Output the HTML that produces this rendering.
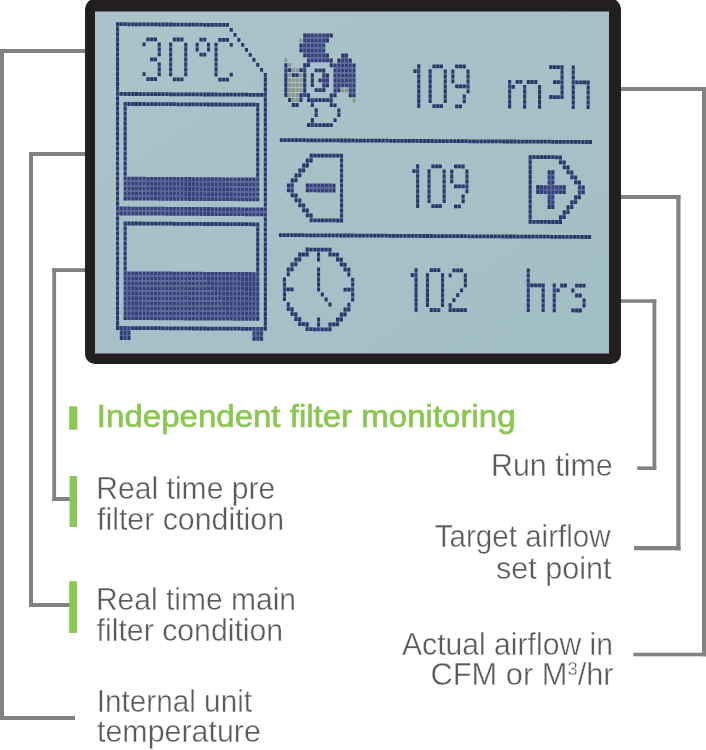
<!DOCTYPE html>
<html><head><meta charset="utf-8"><style>
html,body{margin:0;padding:0;background:#fff;}
body{width:706px;height:750px;overflow:hidden;}
svg{display:block;font-family:'Liberation Sans', sans-serif;}
</style></head><body>
<svg width="706" height="750" viewBox="0 0 706 750">
<defs>
<linearGradient id="lcd" x1="0" y1="0" x2="1" y2="1">
<stop offset="0" stop-color="#abc3ca"/><stop offset="1" stop-color="#a2bec5"/>
</linearGradient>
<filter id="nop" x="0" y="0" width="1" height="1"><feOffset dx="0" dy="0"/></filter>
<filter id="soft" x="-2%" y="-2%" width="104%" height="104%"><feGaussianBlur stdDeviation="0.45"/></filter>
</defs>
<rect x="0.0" y="49.0" width="86.0" height="4.0" fill="#828282"/><rect x="0.0" y="49.0" width="4.0" height="671.0" fill="#828282"/><rect x="0.0" y="716.0" width="75.0" height="4.0" fill="#828282"/><rect x="29.0" y="152.0" width="57.0" height="4.0" fill="#828282"/><rect x="29.0" y="152.0" width="4.0" height="455.0" fill="#828282"/><rect x="29.0" y="603.0" width="41.0" height="4.0" fill="#828282"/><rect x="52.3" y="268.2" width="33.7" height="3.8" fill="#828282"/><rect x="52.3" y="268.2" width="3.8" height="232.8" fill="#828282"/><rect x="52.3" y="497.0" width="17.7" height="4.0" fill="#828282"/><rect x="620.0" y="87.0" width="86.0" height="4.0" fill="#828282"/><rect x="702.0" y="87.0" width="4.0" height="569.3" fill="#828282"/><rect x="633.3" y="652.7" width="72.7" height="3.6" fill="#828282"/><rect x="620.0" y="195.0" width="60.5" height="4.0" fill="#828282"/><rect x="676.3" y="195.0" width="4.2" height="355.3" fill="#828282"/><rect x="634.0" y="546.0" width="46.5" height="4.3" fill="#828282"/><rect x="620.0" y="299.3" width="36.3" height="3.5" fill="#828282"/><rect x="652.5" y="299.3" width="3.8" height="170.7" fill="#828282"/><rect x="637.3" y="466.4" width="19.0" height="3.6" fill="#828282"/>
<rect x="85" y="-1" width="536" height="365" rx="10" ry="10" fill="#231f20"/>
<rect x="95" y="11.5" width="514" height="342" fill="url(#lcd)"/>
<g filter="url(#soft)" opacity="0.85"><path fill="#3d4882" d="M119.1 22.3h0.69v3.80h-0.69zM116.0 26.1h3.10v1.18h-3.10zM122.9 22.3h0.69v3.80h-0.69zM126.7 22.3h0.69v3.80h-0.69zM130.5 22.4h0.69v3.80h-0.69zM134.3 22.4h0.69v3.80h-0.69zM138.0 22.4h0.69v3.80h-0.69zM141.8 22.4h0.69v3.80h-0.69zM145.6 22.5h0.69v3.80h-0.69zM149.4 22.5h0.69v3.80h-0.69zM153.2 22.5h0.69v3.80h-0.69zM157.0 22.5h0.69v3.80h-0.69zM160.8 22.6h0.69v3.80h-0.69zM164.6 22.6h0.69v3.80h-0.69zM168.4 22.6h0.69v3.80h-0.69zM172.2 22.6h0.69v3.80h-0.69zM175.9 22.7h0.69v3.80h-0.69zM179.7 22.7h0.69v3.80h-0.69zM183.5 22.7h0.69v3.80h-0.69zM187.3 22.7h0.69v3.80h-0.69zM191.1 22.8h0.69v3.80h-0.69zM194.9 22.8h0.69v3.80h-0.69zM198.7 22.8h0.69v3.80h-0.69zM202.5 22.8h0.69v3.80h-0.69zM206.3 22.9h0.69v3.80h-0.69zM210.1 22.9h0.69v3.80h-0.69zM213.8 22.9h0.69v3.80h-0.69zM217.6 22.9h0.69v3.80h-0.69zM221.4 22.9h0.69v3.80h-0.69zM225.2 23.0h0.69v3.80h-0.69zM116.0 31.1h3.10v1.18h-3.10zM116.0 36.1h3.10v1.18h-3.10zM116.0 41.0h3.10v1.18h-3.10zM149.4 37.4h0.69v3.80h-0.69zM153.2 37.5h0.69v3.80h-0.69zM175.9 37.6h0.69v3.80h-0.69zM179.7 37.6h0.69v3.80h-0.69zM202.5 37.8h0.69v3.80h-0.69zM221.4 37.9h0.69v3.80h-0.69zM225.2 37.9h0.69v3.80h-0.69zM116.0 46.0h3.10v1.18h-3.10zM157.7 46.3h3.10v1.18h-3.10zM169.1 46.4h3.10v1.18h-3.10zM184.2 46.5h3.10v1.18h-3.10zM195.6 46.5h3.10v1.18h-3.10zM207.0 46.6h3.10v1.18h-3.10zM214.5 46.6h3.10v1.18h-3.10zM116.0 51.0h3.10v1.18h-3.10zM157.7 51.3h3.10v1.18h-3.10zM169.1 51.3h3.10v1.18h-3.10zM184.2 51.4h3.10v1.18h-3.10zM214.5 51.6h3.10v1.18h-3.10zM116.0 56.0h3.10v1.18h-3.10zM169.1 56.3h3.10v1.18h-3.10zM184.2 56.4h3.10v1.18h-3.10zM202.5 52.7h0.69v3.80h-0.69zM214.5 56.6h3.10v1.18h-3.10zM116.0 61.0h3.10v1.18h-3.10zM153.2 57.4h0.69v3.80h-0.69zM169.1 61.3h3.10v1.18h-3.10zM184.2 61.4h3.10v1.18h-3.10zM214.5 61.6h3.10v1.18h-3.10zM116.0 65.9h3.10v1.18h-3.10zM157.7 66.2h3.10v1.18h-3.10zM169.1 66.3h3.10v1.18h-3.10zM184.2 66.4h3.10v1.18h-3.10zM214.5 66.6h3.10v1.18h-3.10zM116.0 70.9h3.10v1.18h-3.10zM157.7 71.2h3.10v1.18h-3.10zM169.1 71.3h3.10v1.18h-3.10zM184.2 71.4h3.10v1.18h-3.10zM214.5 71.5h3.10v1.18h-3.10zM116.0 75.9h3.10v1.18h-3.10zM263.8 76.8h3.10v1.18h-3.10zM116.0 80.9h3.10v1.18h-3.10zM149.4 77.3h0.69v3.80h-0.69zM153.2 77.3h0.69v3.80h-0.69zM175.9 77.4h0.69v3.80h-0.69zM179.7 77.5h0.69v3.80h-0.69zM221.4 77.7h0.69v3.80h-0.69zM225.2 77.8h0.69v3.80h-0.69zM263.8 81.8h3.10v1.18h-3.10zM116.0 85.9h3.10v1.18h-3.10zM263.8 86.8h3.10v1.18h-3.10zM116.0 90.8h3.10v1.18h-3.10zM263.8 91.8h3.10v1.18h-3.10zM122.9 92.0h0.69v3.80h-0.69zM126.7 92.1h0.69v3.80h-0.69zM130.5 92.1h0.69v3.80h-0.69zM134.3 92.1h0.69v3.80h-0.69zM138.0 92.1h0.69v3.80h-0.69zM141.8 92.2h0.69v3.80h-0.69zM145.6 92.2h0.69v3.80h-0.69zM149.4 92.2h0.69v3.80h-0.69zM153.2 92.2h0.69v3.80h-0.69zM157.0 92.3h0.69v3.80h-0.69zM160.8 92.3h0.69v3.80h-0.69zM164.6 92.3h0.69v3.80h-0.69zM168.4 92.3h0.69v3.80h-0.69zM172.2 92.4h0.69v3.80h-0.69zM175.9 92.4h0.69v3.80h-0.69zM179.7 92.4h0.69v3.80h-0.69zM183.5 92.4h0.69v3.80h-0.69zM187.3 92.5h0.69v3.80h-0.69zM191.1 92.5h0.69v3.80h-0.69zM194.9 92.5h0.69v3.80h-0.69zM198.7 92.5h0.69v3.80h-0.69zM202.5 92.5h0.69v3.80h-0.69zM206.3 92.6h0.69v3.80h-0.69zM210.1 92.6h0.69v3.80h-0.69zM213.8 92.6h0.69v3.80h-0.69zM217.6 92.6h0.69v3.80h-0.69zM221.4 92.7h0.69v3.80h-0.69zM225.2 92.7h0.69v3.80h-0.69zM229.0 92.7h0.69v3.80h-0.69zM232.8 92.7h0.69v3.80h-0.69zM236.6 92.8h0.69v3.80h-0.69zM240.4 92.8h0.69v3.80h-0.69zM244.2 92.8h0.69v3.80h-0.69zM248.0 92.8h0.69v3.80h-0.69zM251.8 92.9h0.69v3.80h-0.69zM255.5 92.9h0.69v3.80h-0.69zM259.3 92.9h0.69v3.80h-0.69zM263.1 92.9h0.69v3.80h-0.69zM116.0 100.8h3.10v1.18h-3.10zM263.8 101.7h3.10v1.18h-3.10zM116.0 105.8h3.10v1.18h-3.10zM126.7 102.0h0.69v3.80h-0.69zM123.6 105.8h3.10v1.18h-3.10zM130.5 102.1h0.69v3.80h-0.69zM134.3 102.1h0.69v3.80h-0.69zM138.0 102.1h0.69v3.80h-0.69zM141.8 102.1h0.69v3.80h-0.69zM145.6 102.1h0.69v3.80h-0.69zM149.4 102.2h0.69v3.80h-0.69zM153.2 102.2h0.69v3.80h-0.69zM157.0 102.2h0.69v3.80h-0.69zM160.8 102.2h0.69v3.80h-0.69zM164.6 102.3h0.69v3.80h-0.69zM168.4 102.3h0.69v3.80h-0.69zM172.2 102.3h0.69v3.80h-0.69zM175.9 102.3h0.69v3.80h-0.69zM179.7 102.4h0.69v3.80h-0.69zM183.5 102.4h0.69v3.80h-0.69zM187.3 102.4h0.69v3.80h-0.69zM191.1 102.4h0.69v3.80h-0.69zM194.9 102.5h0.69v3.80h-0.69zM198.7 102.5h0.69v3.80h-0.69zM202.5 102.5h0.69v3.80h-0.69zM206.3 102.5h0.69v3.80h-0.69zM210.1 102.6h0.69v3.80h-0.69zM213.8 102.6h0.69v3.80h-0.69zM217.6 102.6h0.69v3.80h-0.69zM221.4 102.6h0.69v3.80h-0.69zM225.2 102.7h0.69v3.80h-0.69zM229.0 102.7h0.69v3.80h-0.69zM232.8 102.7h0.69v3.80h-0.69zM236.6 102.7h0.69v3.80h-0.69zM240.4 102.7h0.69v3.80h-0.69zM244.2 102.8h0.69v3.80h-0.69zM248.0 102.8h0.69v3.80h-0.69zM251.8 102.8h0.69v3.80h-0.69zM255.5 102.8h0.69v3.80h-0.69zM256.2 106.7h3.10v1.18h-3.10zM263.8 106.7h3.10v1.18h-3.10zM116.0 110.8h3.10v1.18h-3.10zM123.6 110.8h3.10v1.18h-3.10zM256.2 111.6h3.10v1.18h-3.10zM263.8 111.7h3.10v1.18h-3.10zM116.0 115.7h3.10v1.18h-3.10zM123.6 115.8h3.10v1.18h-3.10zM256.2 116.6h3.10v1.18h-3.10zM263.8 116.7h3.10v1.18h-3.10zM116.0 120.7h3.10v1.18h-3.10zM123.6 120.8h3.10v1.18h-3.10zM256.2 121.6h3.10v1.18h-3.10zM263.8 121.7h3.10v1.18h-3.10zM116.0 125.7h3.10v1.18h-3.10zM123.6 125.7h3.10v1.18h-3.10zM256.2 126.6h3.10v1.18h-3.10zM263.8 126.6h3.10v1.18h-3.10zM116.0 130.7h3.10v1.18h-3.10zM123.6 130.7h3.10v1.18h-3.10zM256.2 131.6h3.10v1.18h-3.10zM263.8 131.6h3.10v1.18h-3.10zM116.0 135.7h3.10v1.18h-3.10zM123.6 135.7h3.10v1.18h-3.10zM256.2 136.5h3.10v1.18h-3.10zM263.8 136.6h3.10v1.18h-3.10zM116.0 140.6h3.10v1.18h-3.10zM123.6 140.7h3.10v1.18h-3.10zM256.2 141.5h3.10v1.18h-3.10zM263.8 141.6h3.10v1.18h-3.10zM116.0 145.6h3.10v1.18h-3.10zM123.6 145.7h3.10v1.18h-3.10zM256.2 146.5h3.10v1.18h-3.10zM263.8 146.6h3.10v1.18h-3.10zM116.0 150.6h3.10v1.18h-3.10zM123.6 150.6h3.10v1.18h-3.10zM256.2 151.5h3.10v1.18h-3.10zM263.8 151.5h3.10v1.18h-3.10zM116.0 155.6h3.10v1.18h-3.10zM123.6 155.6h3.10v1.18h-3.10zM256.2 156.5h3.10v1.18h-3.10zM263.8 156.5h3.10v1.18h-3.10zM116.0 160.6h3.10v1.18h-3.10zM123.6 160.6h3.10v1.18h-3.10zM256.2 161.4h3.10v1.18h-3.10zM263.8 161.5h3.10v1.18h-3.10zM116.0 165.5h3.10v1.18h-3.10zM123.6 165.6h3.10v1.18h-3.10zM256.2 166.4h3.10v1.18h-3.10zM263.8 166.5h3.10v1.18h-3.10zM116.0 170.5h3.10v1.18h-3.10zM123.6 170.6h3.10v1.18h-3.10zM256.2 171.4h3.10v1.18h-3.10zM263.8 171.5h3.10v1.18h-3.10zM116.0 175.5h3.10v1.18h-3.10zM123.6 175.5h3.10v1.18h-3.10zM256.2 176.4h3.10v1.18h-3.10zM263.8 176.4h3.10v1.18h-3.10zM116.0 180.5h3.10v1.18h-3.10zM263.8 181.4h3.10v1.18h-3.10zM116.0 185.5h3.10v1.18h-3.10zM263.8 186.4h3.10v1.18h-3.10zM116.0 190.4h3.10v1.18h-3.10zM263.8 191.4h3.10v1.18h-3.10zM116.0 195.4h3.10v1.18h-3.10zM263.8 196.4h3.10v1.18h-3.10zM116.0 200.4h3.10v1.18h-3.10zM126.7 196.6h0.69v3.80h-0.69zM263.8 201.3h3.10v1.18h-3.10zM116.0 205.4h3.10v1.18h-3.10zM263.8 206.3h3.10v1.18h-3.10zM116.0 220.3h3.10v1.18h-3.10zM263.8 221.3h3.10v1.18h-3.10zM116.0 225.3h3.10v1.18h-3.10zM126.7 221.5h0.69v3.80h-0.69zM123.6 225.3h3.10v1.18h-3.10zM130.5 221.6h0.69v3.80h-0.69zM134.3 221.6h0.69v3.80h-0.69zM138.0 221.6h0.69v3.80h-0.69zM141.8 221.6h0.69v3.80h-0.69zM145.6 221.7h0.69v3.80h-0.69zM149.4 221.7h0.69v3.80h-0.69zM153.2 221.7h0.69v3.80h-0.69zM157.0 221.7h0.69v3.80h-0.69zM160.8 221.8h0.69v3.80h-0.69zM164.6 221.8h0.69v3.80h-0.69zM168.4 221.8h0.69v3.80h-0.69zM172.2 221.8h0.69v3.80h-0.69zM175.9 221.9h0.69v3.80h-0.69zM179.7 221.9h0.69v3.80h-0.69zM183.5 221.9h0.69v3.80h-0.69zM187.3 221.9h0.69v3.80h-0.69zM191.1 222.0h0.69v3.80h-0.69zM194.9 222.0h0.69v3.80h-0.69zM198.7 222.0h0.69v3.80h-0.69zM202.5 222.0h0.69v3.80h-0.69zM206.3 222.1h0.69v3.80h-0.69zM210.1 222.1h0.69v3.80h-0.69zM213.8 222.1h0.69v3.80h-0.69zM217.6 222.1h0.69v3.80h-0.69zM221.4 222.1h0.69v3.80h-0.69zM225.2 222.2h0.69v3.80h-0.69zM229.0 222.2h0.69v3.80h-0.69zM232.8 222.2h0.69v3.80h-0.69zM236.6 222.2h0.69v3.80h-0.69zM240.4 222.3h0.69v3.80h-0.69zM244.2 222.3h0.69v3.80h-0.69zM248.0 222.3h0.69v3.80h-0.69zM251.8 222.3h0.69v3.80h-0.69zM255.5 222.4h0.69v3.80h-0.69zM256.2 226.2h3.10v1.18h-3.10zM263.8 226.2h3.10v1.18h-3.10zM116.0 230.3h3.10v1.18h-3.10zM123.6 230.3h3.10v1.18h-3.10zM256.2 231.2h3.10v1.18h-3.10zM263.8 231.2h3.10v1.18h-3.10zM116.0 235.3h3.10v1.18h-3.10zM123.6 235.3h3.10v1.18h-3.10zM256.2 236.1h3.10v1.18h-3.10zM263.8 236.2h3.10v1.18h-3.10zM116.0 240.2h3.10v1.18h-3.10zM123.6 240.3h3.10v1.18h-3.10zM256.2 241.1h3.10v1.18h-3.10zM263.8 241.2h3.10v1.18h-3.10zM116.0 245.2h3.10v1.18h-3.10zM123.6 245.3h3.10v1.18h-3.10zM256.2 246.1h3.10v1.18h-3.10zM263.8 246.2h3.10v1.18h-3.10zM116.0 250.2h3.10v1.18h-3.10zM123.6 250.2h3.10v1.18h-3.10zM256.2 251.1h3.10v1.18h-3.10zM263.8 251.1h3.10v1.18h-3.10zM116.0 255.2h3.10v1.18h-3.10zM123.6 255.2h3.10v1.18h-3.10zM256.2 256.1h3.10v1.18h-3.10zM263.8 256.1h3.10v1.18h-3.10zM116.0 260.2h3.10v1.18h-3.10zM123.6 260.2h3.10v1.18h-3.10zM256.2 261.0h3.10v1.18h-3.10zM263.8 261.1h3.10v1.18h-3.10zM116.0 265.1h3.10v1.18h-3.10zM123.6 265.2h3.10v1.18h-3.10zM256.2 266.0h3.10v1.18h-3.10zM263.8 266.1h3.10v1.18h-3.10zM116.0 270.1h3.10v1.18h-3.10zM123.6 270.2h3.10v1.18h-3.10zM256.2 271.0h3.10v1.18h-3.10zM263.8 271.1h3.10v1.18h-3.10zM116.0 275.1h3.10v1.18h-3.10zM263.8 276.0h3.10v1.18h-3.10zM116.0 280.1h3.10v1.18h-3.10zM263.8 281.0h3.10v1.18h-3.10zM116.0 285.1h3.10v1.18h-3.10zM263.8 286.0h3.10v1.18h-3.10zM116.0 290.0h3.10v1.18h-3.10zM263.8 291.0h3.10v1.18h-3.10zM116.0 295.0h3.10v1.18h-3.10zM263.8 296.0h3.10v1.18h-3.10zM116.0 300.0h3.10v1.18h-3.10zM263.8 300.9h3.10v1.18h-3.10zM116.0 305.0h3.10v1.18h-3.10zM263.8 305.9h3.10v1.18h-3.10zM116.0 310.0h3.10v1.18h-3.10zM263.8 310.9h3.10v1.18h-3.10zM116.0 314.9h3.10v1.18h-3.10zM263.8 315.9h3.10v1.18h-3.10zM116.0 319.9h3.10v1.18h-3.10zM126.7 316.2h0.69v3.80h-0.69zM263.8 320.9h3.10v1.18h-3.10zM116.0 324.9h3.10v1.18h-3.10zM263.8 325.8h3.10v1.18h-3.10zM119.1 326.1h0.69v3.80h-0.69zM134.3 326.2h0.69v3.80h-0.69zM138.0 326.2h0.69v3.80h-0.69zM141.8 326.2h0.69v3.80h-0.69zM145.6 326.2h0.69v3.80h-0.69zM149.4 326.3h0.69v3.80h-0.69zM153.2 326.3h0.69v3.80h-0.69zM157.0 326.3h0.69v3.80h-0.69zM160.8 326.3h0.69v3.80h-0.69zM164.6 326.4h0.69v3.80h-0.69zM168.4 326.4h0.69v3.80h-0.69zM172.2 326.4h0.69v3.80h-0.69zM175.9 326.4h0.69v3.80h-0.69zM179.7 326.5h0.69v3.80h-0.69zM183.5 326.5h0.69v3.80h-0.69zM187.3 326.5h0.69v3.80h-0.69zM191.1 326.5h0.69v3.80h-0.69zM194.9 326.6h0.69v3.80h-0.69zM198.7 326.6h0.69v3.80h-0.69zM202.5 326.6h0.69v3.80h-0.69zM206.3 326.6h0.69v3.80h-0.69zM210.1 326.7h0.69v3.80h-0.69zM213.8 326.7h0.69v3.80h-0.69zM217.6 326.7h0.69v3.80h-0.69zM221.4 326.7h0.69v3.80h-0.69zM225.2 326.8h0.69v3.80h-0.69zM229.0 326.8h0.69v3.80h-0.69zM232.8 326.8h0.69v3.80h-0.69zM236.6 326.8h0.69v3.80h-0.69zM240.4 326.8h0.69v3.80h-0.69zM244.2 326.9h0.69v3.80h-0.69zM248.0 326.9h0.69v3.80h-0.69zM251.8 326.9h0.69v3.80h-0.69zM122.9 336.1h0.69v3.80h-0.69zM255.5 336.9h0.69v3.80h-0.69zM306.3 33.4h0.69v3.80h-0.69zM303.2 37.2h3.10v1.18h-3.10zM306.3 37.2h0.69v1.18h-0.69zM302.5 43.4h0.69v3.80h-0.69zM299.4 47.2h3.10v1.18h-3.10zM302.5 47.2h0.69v1.18h-0.69zM302.5 48.4h0.69v3.80h-0.69zM306.3 53.4h0.69v3.80h-0.69zM325.9 57.3h3.10v1.18h-3.10zM344.2 53.6h0.69v3.80h-0.69zM341.1 57.4h3.10v1.18h-3.10zM344.2 57.4h0.69v1.18h-0.69zM344.9 57.4h3.10v1.18h-3.10zM329.7 62.3h3.10v1.18h-3.10zM340.4 58.6h0.69v3.80h-0.69zM337.3 62.4h3.10v1.18h-3.10zM340.4 62.4h0.69v1.18h-0.69zM348.7 62.4h3.10v1.18h-3.10zM284.3 67.0h3.10v1.18h-3.10zM306.3 63.3h0.69v3.80h-0.69zM303.2 67.1h3.10v1.18h-3.10zM332.8 63.5h0.69v3.80h-0.69zM352.5 67.4h3.10v1.18h-3.10zM302.5 68.3h0.69v3.80h-0.69zM317.7 68.4h0.69v3.80h-0.69zM321.5 68.4h0.69v3.80h-0.69zM322.2 72.2h3.10v1.18h-3.10zM284.3 77.0h3.10v1.18h-3.10zM294.9 73.2h0.69v3.80h-0.69zM303.2 77.1h3.10v1.18h-3.10zM310.8 77.1h3.10v1.18h-3.10zM325.9 77.2h3.10v1.18h-3.10zM284.3 81.9h3.10v1.18h-3.10zM303.2 82.1h3.10v1.18h-3.10zM310.8 82.1h3.10v1.18h-3.10zM321.5 78.4h0.69v3.80h-0.69zM284.3 86.9h3.10v1.18h-3.10zM303.2 87.0h3.10v1.18h-3.10zM284.3 91.9h3.10v1.18h-3.10zM303.2 92.0h3.10v1.18h-3.10zM317.7 88.3h0.69v3.80h-0.69zM321.5 88.3h0.69v3.80h-0.69zM302.5 93.2h0.69v3.80h-0.69zM299.4 97.0h3.10v1.18h-3.10zM307.0 97.0h3.10v1.18h-3.10zM332.8 93.4h0.69v3.80h-0.69zM329.7 97.2h3.10v1.18h-3.10zM351.8 93.5h0.69v3.80h-0.69zM310.1 98.2h0.69v3.80h-0.69zM317.7 98.3h0.69v3.80h-0.69zM321.5 98.3h0.69v3.80h-0.69zM325.3 98.3h0.69v3.80h-0.69zM329.1 98.3h0.69v3.80h-0.69zM294.9 103.1h0.69v3.80h-0.69zM332.8 103.3h0.69v3.80h-0.69zM314.6 112.0h3.10v1.18h-3.10zM337.3 112.2h3.10v1.18h-3.10zM310.8 121.9h3.10v1.18h-3.10zM310.1 123.1h0.69v3.80h-0.69zM317.7 123.2h0.69v3.80h-0.69zM321.5 123.2h0.69v3.80h-0.69zM325.3 123.2h0.69v3.80h-0.69zM329.1 123.2h0.69v3.80h-0.69zM282.9 138.2h0.67v3.80h-0.67zM286.7 138.2h0.67v3.80h-0.67zM290.4 138.2h0.67v3.80h-0.67zM294.2 138.3h0.67v3.80h-0.67zM298.0 138.3h0.67v3.80h-0.67zM301.8 138.3h0.67v3.80h-0.67zM305.5 138.3h0.67v3.80h-0.67zM309.3 138.4h0.67v3.80h-0.67zM313.1 138.4h0.67v3.80h-0.67zM316.8 138.4h0.67v3.80h-0.67zM320.6 138.4h0.67v3.80h-0.67zM324.4 138.5h0.67v3.80h-0.67zM328.1 138.5h0.67v3.80h-0.67zM331.9 138.5h0.67v3.80h-0.67zM335.7 138.5h0.67v3.80h-0.67zM339.5 138.5h0.67v3.80h-0.67zM343.2 138.6h0.67v3.80h-0.67zM347.0 138.6h0.67v3.80h-0.67zM350.8 138.6h0.67v3.80h-0.67zM354.5 138.6h0.67v3.80h-0.67zM358.3 138.7h0.67v3.80h-0.67zM362.1 138.7h0.67v3.80h-0.67zM365.8 138.7h0.67v3.80h-0.67zM369.6 138.7h0.67v3.80h-0.67zM373.4 138.8h0.67v3.80h-0.67zM377.2 138.8h0.67v3.80h-0.67zM380.9 138.8h0.67v3.80h-0.67zM384.7 138.8h0.67v3.80h-0.67zM388.5 138.8h0.67v3.80h-0.67zM392.2 138.9h0.67v3.80h-0.67zM396.0 138.9h0.67v3.80h-0.67zM399.8 138.9h0.67v3.80h-0.67zM403.5 138.9h0.67v3.80h-0.67zM407.3 139.0h0.67v3.80h-0.67zM411.1 139.0h0.67v3.80h-0.67zM414.9 139.0h0.67v3.80h-0.67zM418.6 139.0h0.67v3.80h-0.67zM422.4 139.1h0.67v3.80h-0.67zM426.2 139.1h0.67v3.80h-0.67zM429.9 139.1h0.67v3.80h-0.67zM433.7 139.1h0.67v3.80h-0.67zM437.5 139.2h0.67v3.80h-0.67zM441.2 139.2h0.67v3.80h-0.67zM445.0 139.2h0.67v3.80h-0.67zM448.8 139.2h0.67v3.80h-0.67zM452.6 139.2h0.67v3.80h-0.67zM456.3 139.3h0.67v3.80h-0.67zM460.1 139.3h0.67v3.80h-0.67zM463.9 139.3h0.67v3.80h-0.67zM467.6 139.3h0.67v3.80h-0.67zM471.4 139.4h0.67v3.80h-0.67zM475.2 139.4h0.67v3.80h-0.67zM478.9 139.4h0.67v3.80h-0.67zM482.7 139.4h0.67v3.80h-0.67zM486.5 139.5h0.67v3.80h-0.67zM490.2 139.5h0.67v3.80h-0.67zM494.0 139.5h0.67v3.80h-0.67zM497.8 139.5h0.67v3.80h-0.67zM501.6 139.5h0.67v3.80h-0.67zM505.3 139.6h0.67v3.80h-0.67zM509.1 139.6h0.67v3.80h-0.67zM512.9 139.6h0.67v3.80h-0.67zM516.6 139.6h0.67v3.80h-0.67zM520.4 139.7h0.67v3.80h-0.67zM524.2 139.7h0.67v3.80h-0.67zM528.0 139.7h0.67v3.80h-0.67zM531.7 139.7h0.67v3.80h-0.67zM535.5 139.8h0.67v3.80h-0.67zM539.3 139.8h0.67v3.80h-0.67zM543.0 139.8h0.67v3.80h-0.67zM546.8 139.8h0.67v3.80h-0.67zM550.6 139.8h0.67v3.80h-0.67zM554.3 139.9h0.67v3.80h-0.67zM558.1 139.9h0.67v3.80h-0.67zM561.9 139.9h0.67v3.80h-0.67zM565.6 139.9h0.67v3.80h-0.67zM569.4 140.0h0.67v3.80h-0.67zM573.2 140.0h0.67v3.80h-0.67zM577.0 140.0h0.67v3.80h-0.67zM580.7 140.0h0.67v3.80h-0.67zM584.5 140.1h0.67v3.80h-0.67zM588.3 140.1h0.67v3.80h-0.67zM282.0 233.2h0.67v3.80h-0.67zM285.8 233.2h0.67v3.80h-0.67zM289.5 233.2h0.67v3.80h-0.67zM293.3 233.3h0.67v3.80h-0.67zM297.1 233.3h0.67v3.80h-0.67zM300.9 233.3h0.67v3.80h-0.67zM304.6 233.3h0.67v3.80h-0.67zM308.4 233.4h0.67v3.80h-0.67zM312.2 233.4h0.67v3.80h-0.67zM315.9 233.4h0.67v3.80h-0.67zM319.7 233.4h0.67v3.80h-0.67zM323.5 233.5h0.67v3.80h-0.67zM327.2 233.5h0.67v3.80h-0.67zM331.0 233.5h0.67v3.80h-0.67zM334.8 233.5h0.67v3.80h-0.67zM338.6 233.5h0.67v3.80h-0.67zM342.3 233.6h0.67v3.80h-0.67zM346.1 233.6h0.67v3.80h-0.67zM349.9 233.6h0.67v3.80h-0.67zM353.6 233.6h0.67v3.80h-0.67zM357.4 233.7h0.67v3.80h-0.67zM361.2 233.7h0.67v3.80h-0.67zM364.9 233.7h0.67v3.80h-0.67zM368.7 233.7h0.67v3.80h-0.67zM372.5 233.8h0.67v3.80h-0.67zM376.2 233.8h0.67v3.80h-0.67zM380.0 233.8h0.67v3.80h-0.67zM383.8 233.8h0.67v3.80h-0.67zM387.6 233.8h0.67v3.80h-0.67zM391.3 233.9h0.67v3.80h-0.67zM395.1 233.9h0.67v3.80h-0.67zM398.9 233.9h0.67v3.80h-0.67zM402.6 233.9h0.67v3.80h-0.67zM406.4 234.0h0.67v3.80h-0.67zM410.2 234.0h0.67v3.80h-0.67zM413.9 234.0h0.67v3.80h-0.67zM417.7 234.0h0.67v3.80h-0.67zM421.5 234.1h0.67v3.80h-0.67zM425.3 234.1h0.67v3.80h-0.67zM429.0 234.1h0.67v3.80h-0.67zM432.8 234.1h0.67v3.80h-0.67zM436.6 234.2h0.67v3.80h-0.67zM440.3 234.2h0.67v3.80h-0.67zM444.1 234.2h0.67v3.80h-0.67zM447.9 234.2h0.67v3.80h-0.67zM451.6 234.2h0.67v3.80h-0.67zM455.4 234.3h0.67v3.80h-0.67zM459.2 234.3h0.67v3.80h-0.67zM463.0 234.3h0.67v3.80h-0.67zM466.7 234.3h0.67v3.80h-0.67zM470.5 234.4h0.67v3.80h-0.67zM474.3 234.4h0.67v3.80h-0.67zM478.0 234.4h0.67v3.80h-0.67zM481.8 234.4h0.67v3.80h-0.67zM485.6 234.5h0.67v3.80h-0.67zM489.4 234.5h0.67v3.80h-0.67zM493.1 234.5h0.67v3.80h-0.67zM496.9 234.5h0.67v3.80h-0.67zM500.7 234.5h0.67v3.80h-0.67zM504.4 234.6h0.67v3.80h-0.67zM508.2 234.6h0.67v3.80h-0.67zM512.0 234.6h0.67v3.80h-0.67zM515.7 234.6h0.67v3.80h-0.67zM519.5 234.7h0.67v3.80h-0.67zM523.3 234.7h0.67v3.80h-0.67zM527.1 234.7h0.67v3.80h-0.67zM530.8 234.7h0.67v3.80h-0.67zM534.6 234.8h0.67v3.80h-0.67zM538.4 234.8h0.67v3.80h-0.67zM542.1 234.8h0.67v3.80h-0.67zM545.9 234.8h0.67v3.80h-0.67zM549.7 234.8h0.67v3.80h-0.67zM553.4 234.9h0.67v3.80h-0.67zM557.2 234.9h0.67v3.80h-0.67zM561.0 234.9h0.67v3.80h-0.67zM564.8 234.9h0.67v3.80h-0.67zM568.5 235.0h0.67v3.80h-0.67zM572.3 235.0h0.67v3.80h-0.67zM576.1 235.0h0.67v3.80h-0.67zM579.8 235.0h0.67v3.80h-0.67zM583.6 235.1h0.67v3.80h-0.67zM587.4 235.1h0.67v3.80h-0.67zM312.7 153.6h0.69v3.80h-0.69zM309.6 157.4h3.10v1.18h-3.10zM316.5 153.7h0.69v3.80h-0.69zM320.3 153.7h0.69v3.80h-0.69zM324.1 153.7h0.69v3.80h-0.69zM327.9 153.7h0.69v3.80h-0.69zM331.7 153.8h0.69v3.80h-0.69zM335.5 153.8h0.69v3.80h-0.69zM339.3 153.8h0.69v3.80h-0.69zM340.0 157.6h3.10v1.18h-3.10zM308.9 158.6h0.69v3.80h-0.69zM305.8 162.4h3.10v1.18h-3.10zM340.0 162.6h3.10v1.18h-3.10zM305.2 163.6h0.69v3.80h-0.69zM302.1 167.4h3.10v1.18h-3.10zM340.0 167.6h3.10v1.18h-3.10zM301.4 168.5h0.69v3.80h-0.69zM298.3 172.3h3.10v1.18h-3.10zM340.0 172.6h3.10v1.18h-3.10zM297.6 173.5h0.69v3.80h-0.69zM294.5 177.3h3.10v1.18h-3.10zM340.0 177.6h3.10v1.18h-3.10zM293.8 178.4h0.69v3.80h-0.69zM290.7 182.2h3.10v1.18h-3.10zM340.0 182.5h3.10v1.18h-3.10zM290.0 183.4h0.69v3.80h-0.69zM286.9 187.2h3.10v1.18h-3.10zM290.0 187.2h0.69v1.18h-0.69zM308.9 183.5h0.69v3.80h-0.69zM305.8 187.3h3.10v1.18h-3.10zM308.9 187.3h0.69v1.18h-0.69zM332.4 187.5h3.10v1.18h-3.10zM340.0 187.5h3.10v1.18h-3.10zM290.0 188.4h0.69v3.80h-0.69zM308.9 188.5h0.69v3.80h-0.69zM340.0 192.5h3.10v1.18h-3.10zM293.8 193.4h0.69v3.80h-0.69zM294.5 197.2h3.10v1.18h-3.10zM340.0 197.5h3.10v1.18h-3.10zM297.6 198.4h0.69v3.80h-0.69zM298.3 202.2h3.10v1.18h-3.10zM340.0 202.5h3.10v1.18h-3.10zM301.4 203.4h0.69v3.80h-0.69zM302.1 207.2h3.10v1.18h-3.10zM340.0 207.4h3.10v1.18h-3.10zM305.2 208.4h0.69v3.80h-0.69zM305.8 212.2h3.10v1.18h-3.10zM340.0 212.4h3.10v1.18h-3.10zM308.9 213.4h0.69v3.80h-0.69zM309.6 217.2h3.10v1.18h-3.10zM340.0 217.4h3.10v1.18h-3.10zM312.7 218.4h0.69v3.80h-0.69zM316.5 218.4h0.69v3.80h-0.69zM320.3 218.4h0.69v3.80h-0.69zM324.1 218.5h0.69v3.80h-0.69zM327.9 218.5h0.69v3.80h-0.69zM331.7 218.5h0.69v3.80h-0.69zM335.5 218.5h0.69v3.80h-0.69zM339.3 218.6h0.69v3.80h-0.69zM531.7 155.2h0.69v3.80h-0.69zM528.6 159.0h3.10v1.18h-3.10zM535.5 155.2h0.69v3.80h-0.69zM539.3 155.2h0.69v3.80h-0.69zM543.1 155.3h0.69v3.80h-0.69zM546.9 155.3h0.69v3.80h-0.69zM550.7 155.3h0.69v3.80h-0.69zM554.4 155.3h0.69v3.80h-0.69zM558.2 155.4h0.69v3.80h-0.69zM558.9 159.2h3.10v1.18h-3.10zM528.6 164.0h3.10v1.18h-3.10zM562.0 160.4h0.69v3.80h-0.69zM562.7 164.2h3.10v1.18h-3.10zM528.6 169.0h3.10v1.18h-3.10zM565.8 165.4h0.69v3.80h-0.69zM566.5 169.2h3.10v1.18h-3.10zM528.6 173.9h3.10v1.18h-3.10zM550.7 170.3h0.69v3.80h-0.69zM547.6 174.1h3.10v1.18h-3.10zM550.7 174.1h0.69v1.18h-0.69zM551.3 174.1h3.10v1.18h-3.10zM569.6 170.4h0.69v3.80h-0.69zM570.3 174.2h3.10v1.18h-3.10zM528.6 178.9h3.10v1.18h-3.10zM573.4 175.4h0.69v3.80h-0.69zM574.1 179.2h3.10v1.18h-3.10zM528.6 183.9h3.10v1.18h-3.10zM577.2 180.4h0.69v3.80h-0.69zM577.9 184.2h3.10v1.18h-3.10zM528.6 188.9h3.10v1.18h-3.10zM539.3 185.1h0.69v3.80h-0.69zM536.2 188.9h3.10v1.18h-3.10zM539.3 188.9h0.69v1.18h-0.69zM562.7 189.1h3.10v1.18h-3.10zM581.7 189.2h3.10v1.18h-3.10zM528.6 193.9h3.10v1.18h-3.10zM539.3 190.1h0.69v3.80h-0.69zM528.6 198.8h3.10v1.18h-3.10zM577.2 195.3h0.69v3.80h-0.69zM574.1 199.1h3.10v1.18h-3.10zM528.6 203.8h3.10v1.18h-3.10zM573.4 200.3h0.69v3.80h-0.69zM570.3 204.1h3.10v1.18h-3.10zM528.6 208.8h3.10v1.18h-3.10zM550.7 205.1h0.69v3.80h-0.69zM569.6 205.2h0.69v3.80h-0.69zM566.5 209.0h3.10v1.18h-3.10zM528.6 213.8h3.10v1.18h-3.10zM565.8 210.2h0.69v3.80h-0.69zM562.7 214.0h3.10v1.18h-3.10zM528.6 218.8h3.10v1.18h-3.10zM562.0 215.2h0.69v3.80h-0.69zM558.9 219.0h3.10v1.18h-3.10zM531.7 219.9h0.69v3.80h-0.69zM535.5 220.0h0.69v3.80h-0.69zM539.3 220.0h0.69v3.80h-0.69zM543.1 220.0h0.69v3.80h-0.69zM546.9 220.0h0.69v3.80h-0.69zM550.7 220.1h0.69v3.80h-0.69zM554.4 220.1h0.69v3.80h-0.69zM558.2 220.1h0.69v3.80h-0.69zM308.7 247.6h0.69v3.80h-0.69zM305.6 251.4h3.10v1.18h-3.10zM312.5 247.7h0.69v3.80h-0.69zM316.3 247.7h0.69v3.80h-0.69zM323.9 247.7h0.69v3.80h-0.69zM327.7 247.8h0.69v3.80h-0.69zM328.4 251.6h3.10v1.18h-3.10zM301.2 252.6h0.69v3.80h-0.69zM298.1 256.4h3.10v1.18h-3.10zM304.9 252.6h0.69v3.80h-0.69zM317.0 256.5h3.10v1.18h-3.10zM331.5 252.8h0.69v3.80h-0.69zM335.3 252.8h0.69v3.80h-0.69zM336.0 256.6h3.10v1.18h-3.10zM297.4 257.5h0.69v3.80h-0.69zM294.3 261.3h3.10v1.18h-3.10zM339.1 257.8h0.69v3.80h-0.69zM339.8 261.6h3.10v1.18h-3.10zM293.6 262.5h0.69v3.80h-0.69zM290.5 266.3h3.10v1.18h-3.10zM342.9 262.8h0.69v3.80h-0.69zM343.5 266.6h3.10v1.18h-3.10zM289.8 267.4h0.69v3.80h-0.69zM286.7 271.2h3.10v1.18h-3.10zM317.0 271.4h3.10v1.18h-3.10zM346.6 267.8h0.69v3.80h-0.69zM347.3 271.6h3.10v1.18h-3.10zM317.0 276.4h3.10v1.18h-3.10zM282.9 281.2h3.10v1.18h-3.10zM317.0 281.4h3.10v1.18h-3.10zM351.1 281.6h3.10v1.18h-3.10zM282.9 286.2h3.10v1.18h-3.10zM317.0 286.4h3.10v1.18h-3.10zM351.1 286.6h3.10v1.18h-3.10zM289.8 287.4h0.69v3.80h-0.69zM346.6 287.7h0.69v3.80h-0.69zM350.4 287.7h0.69v3.80h-0.69zM282.9 296.1h3.10v1.18h-3.10zM351.1 296.6h3.10v1.18h-3.10zM286.7 306.1h3.10v1.18h-3.10zM347.3 306.5h3.10v1.18h-3.10zM289.8 307.3h0.69v3.80h-0.69zM290.5 311.1h3.10v1.18h-3.10zM346.6 307.6h0.69v3.80h-0.69zM343.5 311.4h3.10v1.18h-3.10zM293.6 312.3h0.69v3.80h-0.69zM294.3 316.1h3.10v1.18h-3.10zM342.9 312.6h0.69v3.80h-0.69zM339.8 316.4h3.10v1.18h-3.10zM297.4 317.3h0.69v3.80h-0.69zM298.1 321.1h3.10v1.18h-3.10zM317.0 321.2h3.10v1.18h-3.10zM339.1 317.6h0.69v3.80h-0.69zM336.0 321.4h3.10v1.18h-3.10zM301.2 322.3h0.69v3.80h-0.69zM304.9 322.3h0.69v3.80h-0.69zM305.6 326.1h3.10v1.18h-3.10zM317.0 326.2h3.10v1.18h-3.10zM331.5 322.5h0.69v3.80h-0.69zM328.4 326.3h3.10v1.18h-3.10zM335.3 322.5h0.69v3.80h-0.69zM308.7 327.3h0.69v3.80h-0.69zM312.5 327.3h0.69v3.80h-0.69zM316.3 327.4h0.69v3.80h-0.69zM323.9 327.4h0.69v3.80h-0.69zM327.7 327.4h0.69v3.80h-0.69zM417.2 68.1h3.10v1.18h-3.10zM435.5 64.4h0.69v3.80h-0.69zM439.2 64.4h0.69v3.80h-0.69zM458.2 64.5h0.69v3.80h-0.69zM462.0 64.5h0.69v3.80h-0.69zM416.5 69.2h0.69v3.80h-0.69zM428.6 73.1h3.10v1.18h-3.10zM443.7 73.2h3.10v1.18h-3.10zM451.3 73.3h3.10v1.18h-3.10zM466.5 73.4h3.10v1.18h-3.10zM417.2 78.0h3.10v1.18h-3.10zM428.6 78.1h3.10v1.18h-3.10zM443.7 78.2h3.10v1.18h-3.10zM451.3 78.2h3.10v1.18h-3.10zM466.5 78.3h3.10v1.18h-3.10zM417.2 83.0h3.10v1.18h-3.10zM428.6 83.1h3.10v1.18h-3.10zM443.7 83.2h3.10v1.18h-3.10zM466.5 83.3h3.10v1.18h-3.10zM417.2 88.0h3.10v1.18h-3.10zM428.6 88.1h3.10v1.18h-3.10zM443.7 88.2h3.10v1.18h-3.10zM458.2 84.4h0.69v3.80h-0.69zM462.0 84.5h0.69v3.80h-0.69zM465.8 84.5h0.69v3.80h-0.69zM417.2 93.0h3.10v1.18h-3.10zM428.6 93.0h3.10v1.18h-3.10zM443.7 93.1h3.10v1.18h-3.10zM417.2 98.0h3.10v1.18h-3.10zM428.6 98.0h3.10v1.18h-3.10zM443.7 98.1h3.10v1.18h-3.10zM462.7 98.2h3.10v1.18h-3.10zM417.2 102.9h3.10v1.18h-3.10zM435.5 104.2h0.69v3.80h-0.69zM439.2 104.2h0.69v3.80h-0.69zM458.2 104.4h0.69v3.80h-0.69zM416.1 168.1h3.10v1.18h-3.10zM434.4 164.4h0.69v3.80h-0.69zM438.2 164.4h0.69v3.80h-0.69zM457.1 164.5h0.69v3.80h-0.69zM460.9 164.5h0.69v3.80h-0.69zM415.4 169.2h0.69v3.80h-0.69zM427.5 173.1h3.10v1.18h-3.10zM442.6 173.2h3.10v1.18h-3.10zM450.2 173.3h3.10v1.18h-3.10zM465.4 173.4h3.10v1.18h-3.10zM416.1 178.0h3.10v1.18h-3.10zM427.5 178.1h3.10v1.18h-3.10zM442.6 178.2h3.10v1.18h-3.10zM450.2 178.2h3.10v1.18h-3.10zM465.4 178.3h3.10v1.18h-3.10zM416.1 183.0h3.10v1.18h-3.10zM427.5 183.1h3.10v1.18h-3.10zM442.6 183.2h3.10v1.18h-3.10zM465.4 183.3h3.10v1.18h-3.10zM416.1 188.0h3.10v1.18h-3.10zM427.5 188.1h3.10v1.18h-3.10zM442.6 188.2h3.10v1.18h-3.10zM457.1 184.4h0.69v3.80h-0.69zM460.9 184.5h0.69v3.80h-0.69zM464.7 184.5h0.69v3.80h-0.69zM416.1 193.0h3.10v1.18h-3.10zM427.5 193.0h3.10v1.18h-3.10zM442.6 193.1h3.10v1.18h-3.10zM416.1 198.0h3.10v1.18h-3.10zM427.5 198.0h3.10v1.18h-3.10zM442.6 198.1h3.10v1.18h-3.10zM461.6 198.2h3.10v1.18h-3.10zM416.1 202.9h3.10v1.18h-3.10zM434.4 204.2h0.69v3.80h-0.69zM438.2 204.2h0.69v3.80h-0.69zM457.1 204.4h0.69v3.80h-0.69zM414.5 272.0h3.10v1.18h-3.10zM432.8 268.3h0.69v3.80h-0.69zM436.6 268.3h0.69v3.80h-0.69zM455.5 268.4h0.69v3.80h-0.69zM459.3 268.4h0.69v3.80h-0.69zM413.8 273.1h0.69v3.80h-0.69zM425.9 277.0h3.10v1.18h-3.10zM441.0 277.1h3.10v1.18h-3.10zM463.8 277.3h3.10v1.18h-3.10zM414.5 281.9h3.10v1.18h-3.10zM425.9 282.0h3.10v1.18h-3.10zM441.0 282.1h3.10v1.18h-3.10zM463.8 282.2h3.10v1.18h-3.10zM414.5 286.9h3.10v1.18h-3.10zM425.9 287.0h3.10v1.18h-3.10zM441.0 287.1h3.10v1.18h-3.10zM414.5 291.9h3.10v1.18h-3.10zM425.9 292.0h3.10v1.18h-3.10zM441.0 292.1h3.10v1.18h-3.10zM414.5 296.9h3.10v1.18h-3.10zM425.9 296.9h3.10v1.18h-3.10zM441.0 297.0h3.10v1.18h-3.10zM414.5 301.9h3.10v1.18h-3.10zM425.9 301.9h3.10v1.18h-3.10zM441.0 302.0h3.10v1.18h-3.10zM414.5 306.8h3.10v1.18h-3.10zM448.6 307.0h3.10v1.18h-3.10zM432.8 308.1h0.69v3.80h-0.69zM436.6 308.1h0.69v3.80h-0.69zM451.7 308.2h0.69v3.80h-0.69zM455.5 308.3h0.69v3.80h-0.69zM459.3 308.3h0.69v3.80h-0.69zM463.1 308.3h0.69v3.80h-0.69zM552.3 65.3h0.64v3.80h-0.64zM556.1 65.3h0.64v3.80h-0.64zM559.8 65.3h0.64v3.80h-0.64zM560.5 69.1h3.10v1.18h-3.10zM571.7 69.2h3.10v1.18h-3.10zM560.5 74.1h3.10v1.18h-3.10zM571.7 74.2h3.10v1.18h-3.10zM560.5 79.1h3.10v1.18h-3.10zM571.7 79.2h3.10v1.18h-3.10zM508.1 83.7h3.10v1.18h-3.10zM518.7 80.0h0.64v3.80h-0.64zM529.9 80.1h0.64v3.80h-0.64zM533.6 80.1h0.64v3.80h-0.64zM556.1 80.2h0.64v3.80h-0.64zM559.8 80.3h0.64v3.80h-0.64zM578.5 80.4h0.64v3.80h-0.64zM582.3 80.4h0.64v3.80h-0.64zM586.0 80.4h0.64v3.80h-0.64zM586.6 84.2h3.10v1.18h-3.10zM523.1 88.8h3.10v1.18h-3.10zM538.0 88.9h3.10v1.18h-3.10zM560.5 89.1h3.10v1.18h-3.10zM571.7 89.1h3.10v1.18h-3.10zM586.6 89.2h3.10v1.18h-3.10zM508.1 93.7h3.10v1.18h-3.10zM523.1 93.8h3.10v1.18h-3.10zM538.0 93.9h3.10v1.18h-3.10zM560.5 94.0h3.10v1.18h-3.10zM571.7 94.1h3.10v1.18h-3.10zM586.6 94.2h3.10v1.18h-3.10zM508.1 98.7h3.10v1.18h-3.10zM523.1 98.8h3.10v1.18h-3.10zM538.0 98.9h3.10v1.18h-3.10zM552.3 95.1h0.64v3.80h-0.64zM556.1 95.2h0.64v3.80h-0.64zM559.8 95.2h0.64v3.80h-0.64zM571.7 99.1h3.10v1.18h-3.10zM586.6 99.2h3.10v1.18h-3.10zM508.1 103.7h3.10v1.18h-3.10zM523.1 103.8h3.10v1.18h-3.10zM538.0 103.9h3.10v1.18h-3.10zM571.7 104.1h3.10v1.18h-3.10zM586.6 104.2h3.10v1.18h-3.10zM526.7 272.2h3.10v1.18h-3.10zM526.7 277.2h3.10v1.18h-3.10zM526.7 282.2h3.10v1.18h-3.10zM533.5 283.4h0.62v3.80h-0.62zM537.2 283.4h0.62v3.80h-0.62zM541.0 283.4h0.62v3.80h-0.62zM541.6 287.2h3.10v1.18h-3.10zM552.7 287.3h3.10v1.18h-3.10zM563.3 283.6h0.62v3.80h-0.62zM578.2 283.7h0.62v3.80h-0.62zM581.9 283.7h0.62v3.80h-0.62zM526.7 292.1h3.10v1.18h-3.10zM541.6 292.2h3.10v1.18h-3.10zM526.7 297.1h3.10v1.18h-3.10zM541.6 297.2h3.10v1.18h-3.10zM552.7 297.3h3.10v1.18h-3.10zM578.2 293.6h0.62v3.80h-0.62zM526.7 302.1h3.10v1.18h-3.10zM541.6 302.2h3.10v1.18h-3.10zM552.7 302.2h3.10v1.18h-3.10zM582.5 302.4h3.10v1.18h-3.10zM526.7 307.1h3.10v1.18h-3.10zM541.6 307.2h3.10v1.18h-3.10zM552.7 307.2h3.10v1.18h-3.10zM574.4 308.5h0.62v3.80h-0.62zM578.2 308.6h0.62v3.80h-0.62z"/><path fill="#4a5290" d="M119.1 92.0h0.69v3.80h-0.69zM116.0 95.8h3.10v1.18h-3.10zM263.8 96.8h3.10v1.18h-3.10zM126.7 176.7h0.69v3.80h-0.69zM123.6 180.5h3.10v1.18h-3.10zM126.7 180.5h0.69v1.18h-0.69zM130.5 176.8h0.69v3.80h-0.69zM127.4 180.6h3.10v1.18h-3.10zM130.5 180.6h0.69v1.18h-0.69zM134.3 176.8h0.69v3.80h-0.69zM131.2 180.6h3.10v1.18h-3.10zM134.3 180.6h0.69v1.18h-0.69zM138.0 176.8h0.69v3.80h-0.69zM134.9 180.6h3.10v1.18h-3.10zM138.0 180.6h0.69v1.18h-0.69zM141.8 176.8h0.69v3.80h-0.69zM138.7 180.6h3.10v1.18h-3.10zM141.8 180.6h0.69v1.18h-0.69zM145.6 176.8h0.69v3.80h-0.69zM142.5 180.6h3.10v1.18h-3.10zM145.6 180.6h0.69v1.18h-0.69zM149.4 176.9h0.69v3.80h-0.69zM146.3 180.7h3.10v1.18h-3.10zM149.4 180.7h0.69v1.18h-0.69zM153.2 176.9h0.69v3.80h-0.69zM150.1 180.7h3.10v1.18h-3.10zM153.2 180.7h0.69v1.18h-0.69zM157.0 176.9h0.69v3.80h-0.69zM153.9 180.7h3.10v1.18h-3.10zM157.0 180.7h0.69v1.18h-0.69zM160.8 176.9h0.69v3.80h-0.69zM157.7 180.7h3.10v1.18h-3.10zM160.8 180.7h0.69v1.18h-0.69zM164.6 177.0h0.69v3.80h-0.69zM161.5 180.8h3.10v1.18h-3.10zM164.6 180.8h0.69v1.18h-0.69zM168.4 177.0h0.69v3.80h-0.69zM165.3 180.8h3.10v1.18h-3.10zM168.4 180.8h0.69v1.18h-0.69zM172.2 177.0h0.69v3.80h-0.69zM169.1 180.8h3.10v1.18h-3.10zM172.2 180.8h0.69v1.18h-0.69zM175.9 177.0h0.69v3.80h-0.69zM172.8 180.8h3.10v1.18h-3.10zM175.9 180.8h0.69v1.18h-0.69zM179.7 177.1h0.69v3.80h-0.69zM176.6 180.9h3.10v1.18h-3.10zM179.7 180.9h0.69v1.18h-0.69zM183.5 177.1h0.69v3.80h-0.69zM180.4 180.9h3.10v1.18h-3.10zM183.5 180.9h0.69v1.18h-0.69zM187.3 177.1h0.69v3.80h-0.69zM184.2 180.9h3.10v1.18h-3.10zM187.3 180.9h0.69v1.18h-0.69zM191.1 177.1h0.69v3.80h-0.69zM188.0 180.9h3.10v1.18h-3.10zM191.1 180.9h0.69v1.18h-0.69zM194.9 177.2h0.69v3.80h-0.69zM191.8 181.0h3.10v1.18h-3.10zM194.9 181.0h0.69v1.18h-0.69zM198.7 177.2h0.69v3.80h-0.69zM195.6 181.0h3.10v1.18h-3.10zM198.7 181.0h0.69v1.18h-0.69zM202.5 177.2h0.69v3.80h-0.69zM199.4 181.0h3.10v1.18h-3.10zM202.5 181.0h0.69v1.18h-0.69zM206.3 177.2h0.69v3.80h-0.69zM203.2 181.0h3.10v1.18h-3.10zM206.3 181.0h0.69v1.18h-0.69zM210.1 177.3h0.69v3.80h-0.69zM207.0 181.1h3.10v1.18h-3.10zM210.1 181.1h0.69v1.18h-0.69zM213.8 177.3h0.69v3.80h-0.69zM210.8 181.1h3.10v1.18h-3.10zM213.8 181.1h0.69v1.18h-0.69zM217.6 177.3h0.69v3.80h-0.69zM214.5 181.1h3.10v1.18h-3.10zM217.6 181.1h0.69v1.18h-0.69zM221.4 177.3h0.69v3.80h-0.69zM218.3 181.1h3.10v1.18h-3.10zM221.4 181.1h0.69v1.18h-0.69zM225.2 177.4h0.69v3.80h-0.69zM222.1 181.2h3.10v1.18h-3.10zM225.2 181.2h0.69v1.18h-0.69zM229.0 177.4h0.69v3.80h-0.69zM225.9 181.2h3.10v1.18h-3.10zM229.0 181.2h0.69v1.18h-0.69zM232.8 177.4h0.69v3.80h-0.69zM229.7 181.2h3.10v1.18h-3.10zM232.8 181.2h0.69v1.18h-0.69zM236.6 177.4h0.69v3.80h-0.69zM233.5 181.2h3.10v1.18h-3.10zM236.6 181.2h0.69v1.18h-0.69zM240.4 177.4h0.69v3.80h-0.69zM237.3 181.2h3.10v1.18h-3.10zM240.4 181.2h0.69v1.18h-0.69zM244.2 177.5h0.69v3.80h-0.69zM241.1 181.3h3.10v1.18h-3.10zM244.2 181.3h0.69v1.18h-0.69zM248.0 177.5h0.69v3.80h-0.69zM244.9 181.3h3.10v1.18h-3.10zM248.0 181.3h0.69v1.18h-0.69zM251.8 177.5h0.69v3.80h-0.69zM248.7 181.3h3.10v1.18h-3.10zM251.8 181.3h0.69v1.18h-0.69zM255.5 177.5h0.69v3.80h-0.69zM252.4 181.3h3.10v1.18h-3.10zM255.5 181.3h0.69v1.18h-0.69zM256.2 181.4h3.10v1.18h-3.10zM126.7 181.7h0.69v3.80h-0.69zM123.6 185.5h3.10v1.18h-3.10zM126.7 185.5h0.69v1.18h-0.69zM130.5 181.7h0.69v3.80h-0.69zM127.4 185.5h3.10v1.18h-3.10zM130.5 185.5h0.69v1.18h-0.69zM134.3 181.8h0.69v3.80h-0.69zM131.2 185.6h3.10v1.18h-3.10zM134.3 185.6h0.69v1.18h-0.69zM138.0 181.8h0.69v3.80h-0.69zM134.9 185.6h3.10v1.18h-3.10zM138.0 185.6h0.69v1.18h-0.69zM141.8 181.8h0.69v3.80h-0.69zM138.7 185.6h3.10v1.18h-3.10zM141.8 185.6h0.69v1.18h-0.69zM145.6 181.8h0.69v3.80h-0.69zM142.5 185.6h3.10v1.18h-3.10zM145.6 185.6h0.69v1.18h-0.69zM149.4 181.9h0.69v3.80h-0.69zM146.3 185.7h3.10v1.18h-3.10zM149.4 185.7h0.69v1.18h-0.69zM153.2 181.9h0.69v3.80h-0.69zM150.1 185.7h3.10v1.18h-3.10zM153.2 185.7h0.69v1.18h-0.69zM157.0 181.9h0.69v3.80h-0.69zM153.9 185.7h3.10v1.18h-3.10zM157.0 185.7h0.69v1.18h-0.69zM160.8 181.9h0.69v3.80h-0.69zM157.7 185.7h3.10v1.18h-3.10zM160.8 185.7h0.69v1.18h-0.69zM164.6 181.9h0.69v3.80h-0.69zM161.5 185.7h3.10v1.18h-3.10zM164.6 185.7h0.69v1.18h-0.69zM168.4 182.0h0.69v3.80h-0.69zM165.3 185.8h3.10v1.18h-3.10zM168.4 185.8h0.69v1.18h-0.69zM172.2 182.0h0.69v3.80h-0.69zM169.1 185.8h3.10v1.18h-3.10zM172.2 185.8h0.69v1.18h-0.69zM175.9 182.0h0.69v3.80h-0.69zM172.8 185.8h3.10v1.18h-3.10zM175.9 185.8h0.69v1.18h-0.69zM179.7 182.0h0.69v3.80h-0.69zM176.6 185.8h3.10v1.18h-3.10zM179.7 185.8h0.69v1.18h-0.69zM183.5 182.1h0.69v3.80h-0.69zM180.4 185.9h3.10v1.18h-3.10zM183.5 185.9h0.69v1.18h-0.69zM187.3 182.1h0.69v3.80h-0.69zM184.2 185.9h3.10v1.18h-3.10zM187.3 185.9h0.69v1.18h-0.69zM191.1 182.1h0.69v3.80h-0.69zM188.0 185.9h3.10v1.18h-3.10zM191.1 185.9h0.69v1.18h-0.69zM194.9 182.1h0.69v3.80h-0.69zM191.8 185.9h3.10v1.18h-3.10zM194.9 185.9h0.69v1.18h-0.69zM198.7 182.2h0.69v3.80h-0.69zM195.6 186.0h3.10v1.18h-3.10zM198.7 186.0h0.69v1.18h-0.69zM202.5 182.2h0.69v3.80h-0.69zM199.4 186.0h3.10v1.18h-3.10zM202.5 186.0h0.69v1.18h-0.69zM206.3 182.2h0.69v3.80h-0.69zM203.2 186.0h3.10v1.18h-3.10zM206.3 186.0h0.69v1.18h-0.69zM210.1 182.2h0.69v3.80h-0.69zM207.0 186.0h3.10v1.18h-3.10zM210.1 186.0h0.69v1.18h-0.69zM213.8 182.3h0.69v3.80h-0.69zM210.8 186.1h3.10v1.18h-3.10zM213.8 186.1h0.69v1.18h-0.69zM217.6 182.3h0.69v3.80h-0.69zM214.5 186.1h3.10v1.18h-3.10zM217.6 186.1h0.69v1.18h-0.69zM221.4 182.3h0.69v3.80h-0.69zM218.3 186.1h3.10v1.18h-3.10zM221.4 186.1h0.69v1.18h-0.69zM225.2 182.3h0.69v3.80h-0.69zM222.1 186.1h3.10v1.18h-3.10zM225.2 186.1h0.69v1.18h-0.69zM229.0 182.4h0.69v3.80h-0.69zM225.9 186.2h3.10v1.18h-3.10zM229.0 186.2h0.69v1.18h-0.69zM232.8 182.4h0.69v3.80h-0.69zM229.7 186.2h3.10v1.18h-3.10zM232.8 186.2h0.69v1.18h-0.69zM236.6 182.4h0.69v3.80h-0.69zM233.5 186.2h3.10v1.18h-3.10zM236.6 186.2h0.69v1.18h-0.69zM240.4 182.4h0.69v3.80h-0.69zM237.3 186.2h3.10v1.18h-3.10zM240.4 186.2h0.69v1.18h-0.69zM244.2 182.5h0.69v3.80h-0.69zM241.1 186.3h3.10v1.18h-3.10zM244.2 186.3h0.69v1.18h-0.69zM248.0 182.5h0.69v3.80h-0.69zM244.9 186.3h3.10v1.18h-3.10zM248.0 186.3h0.69v1.18h-0.69zM251.8 182.5h0.69v3.80h-0.69zM248.7 186.3h3.10v1.18h-3.10zM251.8 186.3h0.69v1.18h-0.69zM255.5 182.5h0.69v3.80h-0.69zM252.4 186.3h3.10v1.18h-3.10zM255.5 186.3h0.69v1.18h-0.69zM256.2 186.3h3.10v1.18h-3.10zM126.7 186.7h0.69v3.80h-0.69zM123.6 190.5h3.10v1.18h-3.10zM126.7 190.5h0.69v1.18h-0.69zM130.5 186.7h0.69v3.80h-0.69zM127.4 190.5h3.10v1.18h-3.10zM130.5 190.5h0.69v1.18h-0.69zM134.3 186.7h0.69v3.80h-0.69zM131.2 190.5h3.10v1.18h-3.10zM134.3 190.5h0.69v1.18h-0.69zM138.0 186.8h0.69v3.80h-0.69zM134.9 190.6h3.10v1.18h-3.10zM138.0 190.6h0.69v1.18h-0.69zM141.8 186.8h0.69v3.80h-0.69zM138.7 190.6h3.10v1.18h-3.10zM141.8 190.6h0.69v1.18h-0.69zM145.6 186.8h0.69v3.80h-0.69zM142.5 190.6h3.10v1.18h-3.10zM145.6 190.6h0.69v1.18h-0.69zM149.4 186.8h0.69v3.80h-0.69zM146.3 190.6h3.10v1.18h-3.10zM149.4 190.6h0.69v1.18h-0.69zM153.2 186.9h0.69v3.80h-0.69zM150.1 190.7h3.10v1.18h-3.10zM153.2 190.7h0.69v1.18h-0.69zM157.0 186.9h0.69v3.80h-0.69zM153.9 190.7h3.10v1.18h-3.10zM157.0 190.7h0.69v1.18h-0.69zM160.8 186.9h0.69v3.80h-0.69zM157.7 190.7h3.10v1.18h-3.10zM160.8 190.7h0.69v1.18h-0.69zM164.6 186.9h0.69v3.80h-0.69zM161.5 190.7h3.10v1.18h-3.10zM164.6 190.7h0.69v1.18h-0.69zM168.4 187.0h0.69v3.80h-0.69zM165.3 190.8h3.10v1.18h-3.10zM168.4 190.8h0.69v1.18h-0.69zM172.2 187.0h0.69v3.80h-0.69zM169.1 190.8h3.10v1.18h-3.10zM172.2 190.8h0.69v1.18h-0.69zM175.9 187.0h0.69v3.80h-0.69zM172.8 190.8h3.10v1.18h-3.10zM175.9 190.8h0.69v1.18h-0.69zM179.7 187.0h0.69v3.80h-0.69zM176.6 190.8h3.10v1.18h-3.10zM179.7 190.8h0.69v1.18h-0.69zM183.5 187.0h0.69v3.80h-0.69zM180.4 190.8h3.10v1.18h-3.10zM183.5 190.8h0.69v1.18h-0.69zM187.3 187.1h0.69v3.80h-0.69zM184.2 190.9h3.10v1.18h-3.10zM187.3 190.9h0.69v1.18h-0.69zM191.1 187.1h0.69v3.80h-0.69zM188.0 190.9h3.10v1.18h-3.10zM191.1 190.9h0.69v1.18h-0.69zM194.9 187.1h0.69v3.80h-0.69zM191.8 190.9h3.10v1.18h-3.10zM194.9 190.9h0.69v1.18h-0.69zM198.7 187.1h0.69v3.80h-0.69zM195.6 190.9h3.10v1.18h-3.10zM198.7 190.9h0.69v1.18h-0.69zM202.5 187.2h0.69v3.80h-0.69zM199.4 191.0h3.10v1.18h-3.10zM202.5 191.0h0.69v1.18h-0.69zM206.3 187.2h0.69v3.80h-0.69zM203.2 191.0h3.10v1.18h-3.10zM206.3 191.0h0.69v1.18h-0.69zM210.1 187.2h0.69v3.80h-0.69zM207.0 191.0h3.10v1.18h-3.10zM210.1 191.0h0.69v1.18h-0.69zM213.8 187.2h0.69v3.80h-0.69zM210.8 191.0h3.10v1.18h-3.10zM213.8 191.0h0.69v1.18h-0.69zM217.6 187.3h0.69v3.80h-0.69zM214.5 191.1h3.10v1.18h-3.10zM217.6 191.1h0.69v1.18h-0.69zM221.4 187.3h0.69v3.80h-0.69zM218.3 191.1h3.10v1.18h-3.10zM221.4 191.1h0.69v1.18h-0.69zM225.2 187.3h0.69v3.80h-0.69zM222.1 191.1h3.10v1.18h-3.10zM225.2 191.1h0.69v1.18h-0.69zM229.0 187.3h0.69v3.80h-0.69zM225.9 191.1h3.10v1.18h-3.10zM229.0 191.1h0.69v1.18h-0.69zM232.8 187.4h0.69v3.80h-0.69zM229.7 191.2h3.10v1.18h-3.10zM232.8 191.2h0.69v1.18h-0.69zM236.6 187.4h0.69v3.80h-0.69zM233.5 191.2h3.10v1.18h-3.10zM236.6 191.2h0.69v1.18h-0.69zM240.4 187.4h0.69v3.80h-0.69zM237.3 191.2h3.10v1.18h-3.10zM240.4 191.2h0.69v1.18h-0.69zM244.2 187.4h0.69v3.80h-0.69zM241.1 191.2h3.10v1.18h-3.10zM244.2 191.2h0.69v1.18h-0.69zM248.0 187.5h0.69v3.80h-0.69zM244.9 191.3h3.10v1.18h-3.10zM248.0 191.3h0.69v1.18h-0.69zM251.8 187.5h0.69v3.80h-0.69zM248.7 191.3h3.10v1.18h-3.10zM251.8 191.3h0.69v1.18h-0.69zM255.5 187.5h0.69v3.80h-0.69zM252.4 191.3h3.10v1.18h-3.10zM255.5 191.3h0.69v1.18h-0.69zM256.2 191.3h3.10v1.18h-3.10zM126.7 191.7h0.69v3.80h-0.69zM123.6 195.5h3.10v1.18h-3.10zM126.7 195.5h0.69v1.18h-0.69zM130.5 191.7h0.69v3.80h-0.69zM127.4 195.5h3.10v1.18h-3.10zM130.5 195.5h0.69v1.18h-0.69zM134.3 191.7h0.69v3.80h-0.69zM131.2 195.5h3.10v1.18h-3.10zM134.3 195.5h0.69v1.18h-0.69zM138.0 191.7h0.69v3.80h-0.69zM134.9 195.5h3.10v1.18h-3.10zM138.0 195.5h0.69v1.18h-0.69zM141.8 191.8h0.69v3.80h-0.69zM138.7 195.6h3.10v1.18h-3.10zM141.8 195.6h0.69v1.18h-0.69zM145.6 191.8h0.69v3.80h-0.69zM142.5 195.6h3.10v1.18h-3.10zM145.6 195.6h0.69v1.18h-0.69zM149.4 191.8h0.69v3.80h-0.69zM146.3 195.6h3.10v1.18h-3.10zM149.4 195.6h0.69v1.18h-0.69zM153.2 191.8h0.69v3.80h-0.69zM150.1 195.6h3.10v1.18h-3.10zM153.2 195.6h0.69v1.18h-0.69zM157.0 191.9h0.69v3.80h-0.69zM153.9 195.7h3.10v1.18h-3.10zM157.0 195.7h0.69v1.18h-0.69zM160.8 191.9h0.69v3.80h-0.69zM157.7 195.7h3.10v1.18h-3.10zM160.8 195.7h0.69v1.18h-0.69zM164.6 191.9h0.69v3.80h-0.69zM161.5 195.7h3.10v1.18h-3.10zM164.6 195.7h0.69v1.18h-0.69zM168.4 191.9h0.69v3.80h-0.69zM165.3 195.7h3.10v1.18h-3.10zM168.4 195.7h0.69v1.18h-0.69zM172.2 192.0h0.69v3.80h-0.69zM169.1 195.8h3.10v1.18h-3.10zM172.2 195.8h0.69v1.18h-0.69zM175.9 192.0h0.69v3.80h-0.69zM172.8 195.8h3.10v1.18h-3.10zM175.9 195.8h0.69v1.18h-0.69zM179.7 192.0h0.69v3.80h-0.69zM176.6 195.8h3.10v1.18h-3.10zM179.7 195.8h0.69v1.18h-0.69zM183.5 192.0h0.69v3.80h-0.69zM180.4 195.8h3.10v1.18h-3.10zM183.5 195.8h0.69v1.18h-0.69zM187.3 192.1h0.69v3.80h-0.69zM184.2 195.9h3.10v1.18h-3.10zM187.3 195.9h0.69v1.18h-0.69zM191.1 192.1h0.69v3.80h-0.69zM188.0 195.9h3.10v1.18h-3.10zM191.1 195.9h0.69v1.18h-0.69zM194.9 192.1h0.69v3.80h-0.69zM191.8 195.9h3.10v1.18h-3.10zM194.9 195.9h0.69v1.18h-0.69zM198.7 192.1h0.69v3.80h-0.69zM195.6 195.9h3.10v1.18h-3.10zM198.7 195.9h0.69v1.18h-0.69zM202.5 192.1h0.69v3.80h-0.69zM199.4 195.9h3.10v1.18h-3.10zM202.5 195.9h0.69v1.18h-0.69zM206.3 192.2h0.69v3.80h-0.69zM203.2 196.0h3.10v1.18h-3.10zM206.3 196.0h0.69v1.18h-0.69zM210.1 192.2h0.69v3.80h-0.69zM207.0 196.0h3.10v1.18h-3.10zM210.1 196.0h0.69v1.18h-0.69zM213.8 192.2h0.69v3.80h-0.69zM210.8 196.0h3.10v1.18h-3.10zM213.8 196.0h0.69v1.18h-0.69zM217.6 192.2h0.69v3.80h-0.69zM214.5 196.0h3.10v1.18h-3.10zM217.6 196.0h0.69v1.18h-0.69zM221.4 192.3h0.69v3.80h-0.69zM218.3 196.1h3.10v1.18h-3.10zM221.4 196.1h0.69v1.18h-0.69zM225.2 192.3h0.69v3.80h-0.69zM222.1 196.1h3.10v1.18h-3.10zM225.2 196.1h0.69v1.18h-0.69zM229.0 192.3h0.69v3.80h-0.69zM225.9 196.1h3.10v1.18h-3.10zM229.0 196.1h0.69v1.18h-0.69zM232.8 192.3h0.69v3.80h-0.69zM229.7 196.1h3.10v1.18h-3.10zM232.8 196.1h0.69v1.18h-0.69zM236.6 192.4h0.69v3.80h-0.69zM233.5 196.2h3.10v1.18h-3.10zM236.6 196.2h0.69v1.18h-0.69zM240.4 192.4h0.69v3.80h-0.69zM237.3 196.2h3.10v1.18h-3.10zM240.4 196.2h0.69v1.18h-0.69zM244.2 192.4h0.69v3.80h-0.69zM241.1 196.2h3.10v1.18h-3.10zM244.2 196.2h0.69v1.18h-0.69zM248.0 192.4h0.69v3.80h-0.69zM244.9 196.2h3.10v1.18h-3.10zM248.0 196.2h0.69v1.18h-0.69zM251.8 192.5h0.69v3.80h-0.69zM248.7 196.3h3.10v1.18h-3.10zM251.8 196.3h0.69v1.18h-0.69zM255.5 192.5h0.69v3.80h-0.69zM252.4 196.3h3.10v1.18h-3.10zM255.5 196.3h0.69v1.18h-0.69zM256.2 196.3h3.10v1.18h-3.10zM130.5 196.7h0.69v3.80h-0.69zM134.3 196.7h0.69v3.80h-0.69zM138.0 196.7h0.69v3.80h-0.69zM141.8 196.7h0.69v3.80h-0.69zM145.6 196.8h0.69v3.80h-0.69zM149.4 196.8h0.69v3.80h-0.69zM153.2 196.8h0.69v3.80h-0.69zM157.0 196.8h0.69v3.80h-0.69zM160.8 196.9h0.69v3.80h-0.69zM164.6 196.9h0.69v3.80h-0.69zM168.4 196.9h0.69v3.80h-0.69zM172.2 196.9h0.69v3.80h-0.69zM175.9 197.0h0.69v3.80h-0.69zM179.7 197.0h0.69v3.80h-0.69zM183.5 197.0h0.69v3.80h-0.69zM187.3 197.0h0.69v3.80h-0.69zM191.1 197.1h0.69v3.80h-0.69zM194.9 197.1h0.69v3.80h-0.69zM198.7 197.1h0.69v3.80h-0.69zM202.5 197.1h0.69v3.80h-0.69zM206.3 197.2h0.69v3.80h-0.69zM210.1 197.2h0.69v3.80h-0.69zM213.8 197.2h0.69v3.80h-0.69zM217.6 197.2h0.69v3.80h-0.69zM221.4 197.2h0.69v3.80h-0.69zM225.2 197.3h0.69v3.80h-0.69zM229.0 197.3h0.69v3.80h-0.69zM232.8 197.3h0.69v3.80h-0.69zM236.6 197.3h0.69v3.80h-0.69zM240.4 197.4h0.69v3.80h-0.69zM244.2 197.4h0.69v3.80h-0.69zM248.0 197.4h0.69v3.80h-0.69zM251.8 197.4h0.69v3.80h-0.69zM255.5 197.5h0.69v3.80h-0.69zM119.1 206.6h0.69v3.80h-0.69zM116.0 210.4h3.10v1.18h-3.10zM119.1 210.4h0.69v1.18h-0.69zM122.9 206.6h0.69v3.80h-0.69zM119.8 210.4h3.10v1.18h-3.10zM122.9 210.4h0.69v1.18h-0.69zM126.7 206.6h0.69v3.80h-0.69zM123.6 210.4h3.10v1.18h-3.10zM126.7 210.4h0.69v1.18h-0.69zM130.5 206.6h0.69v3.80h-0.69zM127.4 210.4h3.10v1.18h-3.10zM130.5 210.4h0.69v1.18h-0.69zM134.3 206.7h0.69v3.80h-0.69zM131.2 210.5h3.10v1.18h-3.10zM134.3 210.5h0.69v1.18h-0.69zM138.0 206.7h0.69v3.80h-0.69zM134.9 210.5h3.10v1.18h-3.10zM138.0 210.5h0.69v1.18h-0.69zM141.8 206.7h0.69v3.80h-0.69zM138.7 210.5h3.10v1.18h-3.10zM141.8 210.5h0.69v1.18h-0.69zM145.6 206.7h0.69v3.80h-0.69zM142.5 210.5h3.10v1.18h-3.10zM145.6 210.5h0.69v1.18h-0.69zM149.4 206.8h0.69v3.80h-0.69zM146.3 210.6h3.10v1.18h-3.10zM149.4 210.6h0.69v1.18h-0.69zM153.2 206.8h0.69v3.80h-0.69zM150.1 210.6h3.10v1.18h-3.10zM153.2 210.6h0.69v1.18h-0.69zM157.0 206.8h0.69v3.80h-0.69zM153.9 210.6h3.10v1.18h-3.10zM157.0 210.6h0.69v1.18h-0.69zM160.8 206.8h0.69v3.80h-0.69zM157.7 210.6h3.10v1.18h-3.10zM160.8 210.6h0.69v1.18h-0.69zM164.6 206.8h0.69v3.80h-0.69zM161.5 210.6h3.10v1.18h-3.10zM164.6 210.6h0.69v1.18h-0.69zM168.4 206.9h0.69v3.80h-0.69zM165.3 210.7h3.10v1.18h-3.10zM168.4 210.7h0.69v1.18h-0.69zM172.2 206.9h0.69v3.80h-0.69zM169.1 210.7h3.10v1.18h-3.10zM172.2 210.7h0.69v1.18h-0.69zM175.9 206.9h0.69v3.80h-0.69zM172.8 210.7h3.10v1.18h-3.10zM175.9 210.7h0.69v1.18h-0.69zM179.7 206.9h0.69v3.80h-0.69zM176.6 210.7h3.10v1.18h-3.10zM179.7 210.7h0.69v1.18h-0.69zM183.5 207.0h0.69v3.80h-0.69zM180.4 210.8h3.10v1.18h-3.10zM183.5 210.8h0.69v1.18h-0.69zM187.3 207.0h0.69v3.80h-0.69zM184.2 210.8h3.10v1.18h-3.10zM187.3 210.8h0.69v1.18h-0.69zM191.1 207.0h0.69v3.80h-0.69zM188.0 210.8h3.10v1.18h-3.10zM191.1 210.8h0.69v1.18h-0.69zM194.9 207.0h0.69v3.80h-0.69zM191.8 210.8h3.10v1.18h-3.10zM194.9 210.8h0.69v1.18h-0.69zM198.7 207.1h0.69v3.80h-0.69zM195.6 210.9h3.10v1.18h-3.10zM198.7 210.9h0.69v1.18h-0.69zM202.5 207.1h0.69v3.80h-0.69zM199.4 210.9h3.10v1.18h-3.10zM202.5 210.9h0.69v1.18h-0.69zM206.3 207.1h0.69v3.80h-0.69zM203.2 210.9h3.10v1.18h-3.10zM206.3 210.9h0.69v1.18h-0.69zM210.1 207.1h0.69v3.80h-0.69zM207.0 210.9h3.10v1.18h-3.10zM210.1 210.9h0.69v1.18h-0.69zM213.8 207.2h0.69v3.80h-0.69zM210.8 211.0h3.10v1.18h-3.10zM213.8 211.0h0.69v1.18h-0.69zM217.6 207.2h0.69v3.80h-0.69zM214.5 211.0h3.10v1.18h-3.10zM217.6 211.0h0.69v1.18h-0.69zM221.4 207.2h0.69v3.80h-0.69zM218.3 211.0h3.10v1.18h-3.10zM221.4 211.0h0.69v1.18h-0.69zM225.2 207.2h0.69v3.80h-0.69zM222.1 211.0h3.10v1.18h-3.10zM225.2 211.0h0.69v1.18h-0.69zM229.0 207.3h0.69v3.80h-0.69zM225.9 211.1h3.10v1.18h-3.10zM229.0 211.1h0.69v1.18h-0.69zM232.8 207.3h0.69v3.80h-0.69zM229.7 211.1h3.10v1.18h-3.10zM232.8 211.1h0.69v1.18h-0.69zM236.6 207.3h0.69v3.80h-0.69zM233.5 211.1h3.10v1.18h-3.10zM236.6 211.1h0.69v1.18h-0.69zM240.4 207.3h0.69v3.80h-0.69zM237.3 211.1h3.10v1.18h-3.10zM240.4 211.1h0.69v1.18h-0.69zM244.2 207.4h0.69v3.80h-0.69zM241.1 211.2h3.10v1.18h-3.10zM244.2 211.2h0.69v1.18h-0.69zM248.0 207.4h0.69v3.80h-0.69zM244.9 211.2h3.10v1.18h-3.10zM248.0 211.2h0.69v1.18h-0.69zM251.8 207.4h0.69v3.80h-0.69zM248.7 211.2h3.10v1.18h-3.10zM251.8 211.2h0.69v1.18h-0.69zM255.5 207.4h0.69v3.80h-0.69zM252.4 211.2h3.10v1.18h-3.10zM255.5 211.2h0.69v1.18h-0.69zM259.3 207.4h0.69v3.80h-0.69zM256.2 211.2h3.10v1.18h-3.10zM259.3 211.2h0.69v1.18h-0.69zM263.1 207.5h0.69v3.80h-0.69zM260.0 211.3h3.10v1.18h-3.10zM263.1 211.3h0.69v1.18h-0.69zM263.8 211.3h3.10v1.18h-3.10zM119.1 211.5h0.69v3.80h-0.69zM116.0 215.3h3.10v1.18h-3.10zM122.9 211.6h0.69v3.80h-0.69zM126.7 211.6h0.69v3.80h-0.69zM130.5 211.6h0.69v3.80h-0.69zM134.3 211.6h0.69v3.80h-0.69zM138.0 211.7h0.69v3.80h-0.69zM141.8 211.7h0.69v3.80h-0.69zM145.6 211.7h0.69v3.80h-0.69zM149.4 211.7h0.69v3.80h-0.69zM153.2 211.8h0.69v3.80h-0.69zM157.0 211.8h0.69v3.80h-0.69zM160.8 211.8h0.69v3.80h-0.69zM164.6 211.8h0.69v3.80h-0.69zM168.4 211.9h0.69v3.80h-0.69zM172.2 211.9h0.69v3.80h-0.69zM175.9 211.9h0.69v3.80h-0.69zM179.7 211.9h0.69v3.80h-0.69zM183.5 211.9h0.69v3.80h-0.69zM187.3 212.0h0.69v3.80h-0.69zM191.1 212.0h0.69v3.80h-0.69zM194.9 212.0h0.69v3.80h-0.69zM198.7 212.0h0.69v3.80h-0.69zM202.5 212.1h0.69v3.80h-0.69zM206.3 212.1h0.69v3.80h-0.69zM210.1 212.1h0.69v3.80h-0.69zM213.8 212.1h0.69v3.80h-0.69zM217.6 212.2h0.69v3.80h-0.69zM221.4 212.2h0.69v3.80h-0.69zM225.2 212.2h0.69v3.80h-0.69zM229.0 212.2h0.69v3.80h-0.69zM232.8 212.3h0.69v3.80h-0.69zM236.6 212.3h0.69v3.80h-0.69zM240.4 212.3h0.69v3.80h-0.69zM244.2 212.3h0.69v3.80h-0.69zM248.0 212.4h0.69v3.80h-0.69zM251.8 212.4h0.69v3.80h-0.69zM255.5 212.4h0.69v3.80h-0.69zM259.3 212.4h0.69v3.80h-0.69zM263.1 212.5h0.69v3.80h-0.69zM263.8 216.3h3.10v1.18h-3.10zM126.7 271.3h0.69v3.80h-0.69zM123.6 275.1h3.10v1.18h-3.10zM126.7 275.1h0.69v1.18h-0.69zM130.5 271.4h0.69v3.80h-0.69zM127.4 275.2h3.10v1.18h-3.10zM130.5 275.2h0.69v1.18h-0.69zM134.3 271.4h0.69v3.80h-0.69zM131.2 275.2h3.10v1.18h-3.10zM134.3 275.2h0.69v1.18h-0.69zM138.0 271.4h0.69v3.80h-0.69zM134.9 275.2h3.10v1.18h-3.10zM138.0 275.2h0.69v1.18h-0.69zM141.8 271.4h0.69v3.80h-0.69zM138.7 275.2h3.10v1.18h-3.10zM141.8 275.2h0.69v1.18h-0.69zM145.6 271.5h0.69v3.80h-0.69zM142.5 275.3h3.10v1.18h-3.10zM145.6 275.3h0.69v1.18h-0.69zM149.4 271.5h0.69v3.80h-0.69zM146.3 275.3h3.10v1.18h-3.10zM149.4 275.3h0.69v1.18h-0.69zM153.2 271.5h0.69v3.80h-0.69zM150.1 275.3h3.10v1.18h-3.10zM153.2 275.3h0.69v1.18h-0.69zM157.0 271.5h0.69v3.80h-0.69zM153.9 275.3h3.10v1.18h-3.10zM157.0 275.3h0.69v1.18h-0.69zM160.8 271.6h0.69v3.80h-0.69zM157.7 275.4h3.10v1.18h-3.10zM160.8 275.4h0.69v1.18h-0.69zM164.6 271.6h0.69v3.80h-0.69zM161.5 275.4h3.10v1.18h-3.10zM164.6 275.4h0.69v1.18h-0.69zM168.4 271.6h0.69v3.80h-0.69zM165.3 275.4h3.10v1.18h-3.10zM168.4 275.4h0.69v1.18h-0.69zM172.2 271.6h0.69v3.80h-0.69zM169.1 275.4h3.10v1.18h-3.10zM172.2 275.4h0.69v1.18h-0.69zM175.9 271.7h0.69v3.80h-0.69zM172.8 275.5h3.10v1.18h-3.10zM175.9 275.5h0.69v1.18h-0.69zM179.7 271.7h0.69v3.80h-0.69zM176.6 275.5h3.10v1.18h-3.10zM179.7 275.5h0.69v1.18h-0.69zM183.5 271.7h0.69v3.80h-0.69zM180.4 275.5h3.10v1.18h-3.10zM183.5 275.5h0.69v1.18h-0.69zM187.3 271.7h0.69v3.80h-0.69zM184.2 275.5h3.10v1.18h-3.10zM187.3 275.5h0.69v1.18h-0.69zM191.1 271.8h0.69v3.80h-0.69zM188.0 275.6h3.10v1.18h-3.10zM191.1 275.6h0.69v1.18h-0.69zM194.9 271.8h0.69v3.80h-0.69zM191.8 275.6h3.10v1.18h-3.10zM194.9 275.6h0.69v1.18h-0.69zM198.7 271.8h0.69v3.80h-0.69zM195.6 275.6h3.10v1.18h-3.10zM198.7 275.6h0.69v1.18h-0.69zM202.5 271.8h0.69v3.80h-0.69zM199.4 275.6h3.10v1.18h-3.10zM202.5 275.6h0.69v1.18h-0.69zM206.3 271.9h0.69v3.80h-0.69zM203.2 275.7h3.10v1.18h-3.10zM206.3 275.7h0.69v1.18h-0.69zM210.1 271.9h0.69v3.80h-0.69zM207.0 275.7h3.10v1.18h-3.10zM210.1 275.7h0.69v1.18h-0.69zM213.8 271.9h0.69v3.80h-0.69zM210.8 275.7h3.10v1.18h-3.10zM213.8 275.7h0.69v1.18h-0.69zM217.6 271.9h0.69v3.80h-0.69zM214.5 275.7h3.10v1.18h-3.10zM217.6 275.7h0.69v1.18h-0.69zM221.4 271.9h0.69v3.80h-0.69zM218.3 275.7h3.10v1.18h-3.10zM221.4 275.7h0.69v1.18h-0.69zM225.2 272.0h0.69v3.80h-0.69zM222.1 275.8h3.10v1.18h-3.10zM225.2 275.8h0.69v1.18h-0.69zM229.0 272.0h0.69v3.80h-0.69zM225.9 275.8h3.10v1.18h-3.10zM229.0 275.8h0.69v1.18h-0.69zM232.8 272.0h0.69v3.80h-0.69zM229.7 275.8h3.10v1.18h-3.10zM232.8 275.8h0.69v1.18h-0.69zM236.6 272.0h0.69v3.80h-0.69zM233.5 275.8h3.10v1.18h-3.10zM236.6 275.8h0.69v1.18h-0.69zM240.4 272.1h0.69v3.80h-0.69zM237.3 275.9h3.10v1.18h-3.10zM240.4 275.9h0.69v1.18h-0.69zM244.2 272.1h0.69v3.80h-0.69zM241.1 275.9h3.10v1.18h-3.10zM244.2 275.9h0.69v1.18h-0.69zM248.0 272.1h0.69v3.80h-0.69zM244.9 275.9h3.10v1.18h-3.10zM248.0 275.9h0.69v1.18h-0.69zM251.8 272.1h0.69v3.80h-0.69zM248.7 275.9h3.10v1.18h-3.10zM251.8 275.9h0.69v1.18h-0.69zM255.5 272.2h0.69v3.80h-0.69zM252.4 276.0h3.10v1.18h-3.10zM255.5 276.0h0.69v1.18h-0.69zM256.2 276.0h3.10v1.18h-3.10zM126.7 276.3h0.69v3.80h-0.69zM123.6 280.1h3.10v1.18h-3.10zM126.7 280.1h0.69v1.18h-0.69zM130.5 276.4h0.69v3.80h-0.69zM127.4 280.2h3.10v1.18h-3.10zM130.5 280.2h0.69v1.18h-0.69zM134.3 276.4h0.69v3.80h-0.69zM131.2 280.2h3.10v1.18h-3.10zM134.3 280.2h0.69v1.18h-0.69zM138.0 276.4h0.69v3.80h-0.69zM134.9 280.2h3.10v1.18h-3.10zM138.0 280.2h0.69v1.18h-0.69zM141.8 276.4h0.69v3.80h-0.69zM138.7 280.2h3.10v1.18h-3.10zM141.8 280.2h0.69v1.18h-0.69zM145.6 276.4h0.69v3.80h-0.69zM142.5 280.2h3.10v1.18h-3.10zM145.6 280.2h0.69v1.18h-0.69zM149.4 276.5h0.69v3.80h-0.69zM146.3 280.3h3.10v1.18h-3.10zM149.4 280.3h0.69v1.18h-0.69zM153.2 276.5h0.69v3.80h-0.69zM150.1 280.3h3.10v1.18h-3.10zM153.2 280.3h0.69v1.18h-0.69zM157.0 276.5h0.69v3.80h-0.69zM153.9 280.3h3.10v1.18h-3.10zM157.0 280.3h0.69v1.18h-0.69zM160.8 276.5h0.69v3.80h-0.69zM157.7 280.3h3.10v1.18h-3.10zM160.8 280.3h0.69v1.18h-0.69zM164.6 276.6h0.69v3.80h-0.69zM161.5 280.4h3.10v1.18h-3.10zM164.6 280.4h0.69v1.18h-0.69zM168.4 276.6h0.69v3.80h-0.69zM165.3 280.4h3.10v1.18h-3.10zM168.4 280.4h0.69v1.18h-0.69zM172.2 276.6h0.69v3.80h-0.69zM169.1 280.4h3.10v1.18h-3.10zM172.2 280.4h0.69v1.18h-0.69zM175.9 276.6h0.69v3.80h-0.69zM172.8 280.4h3.10v1.18h-3.10zM175.9 280.4h0.69v1.18h-0.69zM179.7 276.7h0.69v3.80h-0.69zM176.6 280.5h3.10v1.18h-3.10zM179.7 280.5h0.69v1.18h-0.69zM183.5 276.7h0.69v3.80h-0.69zM180.4 280.5h3.10v1.18h-3.10zM183.5 280.5h0.69v1.18h-0.69zM187.3 276.7h0.69v3.80h-0.69zM184.2 280.5h3.10v1.18h-3.10zM187.3 280.5h0.69v1.18h-0.69zM191.1 276.7h0.69v3.80h-0.69zM188.0 280.5h3.10v1.18h-3.10zM191.1 280.5h0.69v1.18h-0.69zM194.9 276.8h0.69v3.80h-0.69zM191.8 280.6h3.10v1.18h-3.10zM194.9 280.6h0.69v1.18h-0.69zM198.7 276.8h0.69v3.80h-0.69zM195.6 280.6h3.10v1.18h-3.10zM198.7 280.6h0.69v1.18h-0.69zM202.5 276.8h0.69v3.80h-0.69zM199.4 280.6h3.10v1.18h-3.10zM202.5 280.6h0.69v1.18h-0.69zM206.3 276.8h0.69v3.80h-0.69zM203.2 280.6h3.10v1.18h-3.10zM206.3 280.6h0.69v1.18h-0.69zM210.1 276.9h0.69v3.80h-0.69zM207.0 280.7h3.10v1.18h-3.10zM210.1 280.7h0.69v1.18h-0.69zM213.8 276.9h0.69v3.80h-0.69zM210.8 280.7h3.10v1.18h-3.10zM213.8 280.7h0.69v1.18h-0.69zM217.6 276.9h0.69v3.80h-0.69zM214.5 280.7h3.10v1.18h-3.10zM217.6 280.7h0.69v1.18h-0.69zM221.4 276.9h0.69v3.80h-0.69zM218.3 280.7h3.10v1.18h-3.10zM221.4 280.7h0.69v1.18h-0.69zM225.2 277.0h0.69v3.80h-0.69zM222.1 280.8h3.10v1.18h-3.10zM225.2 280.8h0.69v1.18h-0.69zM229.0 277.0h0.69v3.80h-0.69zM225.9 280.8h3.10v1.18h-3.10zM229.0 280.8h0.69v1.18h-0.69zM232.8 277.0h0.69v3.80h-0.69zM229.7 280.8h3.10v1.18h-3.10zM232.8 280.8h0.69v1.18h-0.69zM236.6 277.0h0.69v3.80h-0.69zM233.5 280.8h3.10v1.18h-3.10zM236.6 280.8h0.69v1.18h-0.69zM240.4 277.0h0.69v3.80h-0.69zM237.3 280.8h3.10v1.18h-3.10zM240.4 280.8h0.69v1.18h-0.69zM244.2 277.1h0.69v3.80h-0.69zM241.1 280.9h3.10v1.18h-3.10zM244.2 280.9h0.69v1.18h-0.69zM248.0 277.1h0.69v3.80h-0.69zM244.9 280.9h3.10v1.18h-3.10zM248.0 280.9h0.69v1.18h-0.69zM251.8 277.1h0.69v3.80h-0.69zM248.7 280.9h3.10v1.18h-3.10zM251.8 280.9h0.69v1.18h-0.69zM255.5 277.1h0.69v3.80h-0.69zM252.4 280.9h3.10v1.18h-3.10zM255.5 280.9h0.69v1.18h-0.69zM256.2 281.0h3.10v1.18h-3.10zM126.7 281.3h0.69v3.80h-0.69zM123.6 285.1h3.10v1.18h-3.10zM126.7 285.1h0.69v1.18h-0.69zM130.5 281.3h0.69v3.80h-0.69zM127.4 285.1h3.10v1.18h-3.10zM130.5 285.1h0.69v1.18h-0.69zM134.3 281.4h0.69v3.80h-0.69zM131.2 285.2h3.10v1.18h-3.10zM134.3 285.2h0.69v1.18h-0.69zM138.0 281.4h0.69v3.80h-0.69zM134.9 285.2h3.10v1.18h-3.10zM138.0 285.2h0.69v1.18h-0.69zM141.8 281.4h0.69v3.80h-0.69zM138.7 285.2h3.10v1.18h-3.10zM141.8 285.2h0.69v1.18h-0.69zM145.6 281.4h0.69v3.80h-0.69zM142.5 285.2h3.10v1.18h-3.10zM145.6 285.2h0.69v1.18h-0.69zM149.4 281.5h0.69v3.80h-0.69zM146.3 285.3h3.10v1.18h-3.10zM149.4 285.3h0.69v1.18h-0.69zM153.2 281.5h0.69v3.80h-0.69zM150.1 285.3h3.10v1.18h-3.10zM153.2 285.3h0.69v1.18h-0.69zM157.0 281.5h0.69v3.80h-0.69zM153.9 285.3h3.10v1.18h-3.10zM157.0 285.3h0.69v1.18h-0.69zM160.8 281.5h0.69v3.80h-0.69zM157.7 285.3h3.10v1.18h-3.10zM160.8 285.3h0.69v1.18h-0.69zM164.6 281.5h0.69v3.80h-0.69zM161.5 285.3h3.10v1.18h-3.10zM164.6 285.3h0.69v1.18h-0.69zM168.4 281.6h0.69v3.80h-0.69zM165.3 285.4h3.10v1.18h-3.10zM168.4 285.4h0.69v1.18h-0.69zM172.2 281.6h0.69v3.80h-0.69zM169.1 285.4h3.10v1.18h-3.10zM172.2 285.4h0.69v1.18h-0.69zM175.9 281.6h0.69v3.80h-0.69zM172.8 285.4h3.10v1.18h-3.10zM175.9 285.4h0.69v1.18h-0.69zM179.7 281.6h0.69v3.80h-0.69zM176.6 285.4h3.10v1.18h-3.10zM179.7 285.4h0.69v1.18h-0.69zM183.5 281.7h0.69v3.80h-0.69zM180.4 285.5h3.10v1.18h-3.10zM183.5 285.5h0.69v1.18h-0.69zM187.3 281.7h0.69v3.80h-0.69zM184.2 285.5h3.10v1.18h-3.10zM187.3 285.5h0.69v1.18h-0.69zM191.1 281.7h0.69v3.80h-0.69zM188.0 285.5h3.10v1.18h-3.10zM191.1 285.5h0.69v1.18h-0.69zM194.9 281.7h0.69v3.80h-0.69zM191.8 285.5h3.10v1.18h-3.10zM194.9 285.5h0.69v1.18h-0.69zM198.7 281.8h0.69v3.80h-0.69zM195.6 285.6h3.10v1.18h-3.10zM198.7 285.6h0.69v1.18h-0.69zM202.5 281.8h0.69v3.80h-0.69zM199.4 285.6h3.10v1.18h-3.10zM202.5 285.6h0.69v1.18h-0.69zM206.3 281.8h0.69v3.80h-0.69zM203.2 285.6h3.10v1.18h-3.10zM206.3 285.6h0.69v1.18h-0.69zM210.1 281.8h0.69v3.80h-0.69zM207.0 285.6h3.10v1.18h-3.10zM210.1 285.6h0.69v1.18h-0.69zM213.8 281.9h0.69v3.80h-0.69zM210.8 285.7h3.10v1.18h-3.10zM213.8 285.7h0.69v1.18h-0.69zM217.6 281.9h0.69v3.80h-0.69zM214.5 285.7h3.10v1.18h-3.10zM217.6 285.7h0.69v1.18h-0.69zM221.4 281.9h0.69v3.80h-0.69zM218.3 285.7h3.10v1.18h-3.10zM221.4 285.7h0.69v1.18h-0.69zM225.2 281.9h0.69v3.80h-0.69zM222.1 285.7h3.10v1.18h-3.10zM225.2 285.7h0.69v1.18h-0.69zM229.0 282.0h0.69v3.80h-0.69zM225.9 285.8h3.10v1.18h-3.10zM229.0 285.8h0.69v1.18h-0.69zM232.8 282.0h0.69v3.80h-0.69zM229.7 285.8h3.10v1.18h-3.10zM232.8 285.8h0.69v1.18h-0.69zM236.6 282.0h0.69v3.80h-0.69zM233.5 285.8h3.10v1.18h-3.10zM236.6 285.8h0.69v1.18h-0.69zM240.4 282.0h0.69v3.80h-0.69zM237.3 285.8h3.10v1.18h-3.10zM240.4 285.8h0.69v1.18h-0.69zM244.2 282.1h0.69v3.80h-0.69zM241.1 285.9h3.10v1.18h-3.10zM244.2 285.9h0.69v1.18h-0.69zM248.0 282.1h0.69v3.80h-0.69zM244.9 285.9h3.10v1.18h-3.10zM248.0 285.9h0.69v1.18h-0.69zM251.8 282.1h0.69v3.80h-0.69zM248.7 285.9h3.10v1.18h-3.10zM251.8 285.9h0.69v1.18h-0.69zM255.5 282.1h0.69v3.80h-0.69zM252.4 285.9h3.10v1.18h-3.10zM255.5 285.9h0.69v1.18h-0.69zM256.2 285.9h3.10v1.18h-3.10zM126.7 286.3h0.69v3.80h-0.69zM123.6 290.1h3.10v1.18h-3.10zM126.7 290.1h0.69v1.18h-0.69zM130.5 286.3h0.69v3.80h-0.69zM127.4 290.1h3.10v1.18h-3.10zM130.5 290.1h0.69v1.18h-0.69zM134.3 286.3h0.69v3.80h-0.69zM131.2 290.1h3.10v1.18h-3.10zM134.3 290.1h0.69v1.18h-0.69zM138.0 286.4h0.69v3.80h-0.69zM134.9 290.2h3.10v1.18h-3.10zM138.0 290.2h0.69v1.18h-0.69zM141.8 286.4h0.69v3.80h-0.69zM138.7 290.2h3.10v1.18h-3.10zM141.8 290.2h0.69v1.18h-0.69zM145.6 286.4h0.69v3.80h-0.69zM142.5 290.2h3.10v1.18h-3.10zM145.6 290.2h0.69v1.18h-0.69zM149.4 286.4h0.69v3.80h-0.69zM146.3 290.2h3.10v1.18h-3.10zM149.4 290.2h0.69v1.18h-0.69zM153.2 286.5h0.69v3.80h-0.69zM150.1 290.3h3.10v1.18h-3.10zM153.2 290.3h0.69v1.18h-0.69zM157.0 286.5h0.69v3.80h-0.69zM153.9 290.3h3.10v1.18h-3.10zM157.0 290.3h0.69v1.18h-0.69zM160.8 286.5h0.69v3.80h-0.69zM157.7 290.3h3.10v1.18h-3.10zM160.8 290.3h0.69v1.18h-0.69zM164.6 286.5h0.69v3.80h-0.69zM161.5 290.3h3.10v1.18h-3.10zM164.6 290.3h0.69v1.18h-0.69zM168.4 286.6h0.69v3.80h-0.69zM165.3 290.4h3.10v1.18h-3.10zM168.4 290.4h0.69v1.18h-0.69zM172.2 286.6h0.69v3.80h-0.69zM169.1 290.4h3.10v1.18h-3.10zM172.2 290.4h0.69v1.18h-0.69zM175.9 286.6h0.69v3.80h-0.69zM172.8 290.4h3.10v1.18h-3.10zM175.9 290.4h0.69v1.18h-0.69zM179.7 286.6h0.69v3.80h-0.69zM176.6 290.4h3.10v1.18h-3.10zM179.7 290.4h0.69v1.18h-0.69zM183.5 286.6h0.69v3.80h-0.69zM180.4 290.4h3.10v1.18h-3.10zM183.5 290.4h0.69v1.18h-0.69zM187.3 286.7h0.69v3.80h-0.69zM184.2 290.5h3.10v1.18h-3.10zM187.3 290.5h0.69v1.18h-0.69zM191.1 286.7h0.69v3.80h-0.69zM188.0 290.5h3.10v1.18h-3.10zM191.1 290.5h0.69v1.18h-0.69zM194.9 286.7h0.69v3.80h-0.69zM191.8 290.5h3.10v1.18h-3.10zM194.9 290.5h0.69v1.18h-0.69zM198.7 286.7h0.69v3.80h-0.69zM195.6 290.5h3.10v1.18h-3.10zM198.7 290.5h0.69v1.18h-0.69zM202.5 286.8h0.69v3.80h-0.69zM199.4 290.6h3.10v1.18h-3.10zM202.5 290.6h0.69v1.18h-0.69zM206.3 286.8h0.69v3.80h-0.69zM203.2 290.6h3.10v1.18h-3.10zM206.3 290.6h0.69v1.18h-0.69zM210.1 286.8h0.69v3.80h-0.69zM207.0 290.6h3.10v1.18h-3.10zM210.1 290.6h0.69v1.18h-0.69zM213.8 286.8h0.69v3.80h-0.69zM210.8 290.6h3.10v1.18h-3.10zM213.8 290.6h0.69v1.18h-0.69zM217.6 286.9h0.69v3.80h-0.69zM214.5 290.7h3.10v1.18h-3.10zM217.6 290.7h0.69v1.18h-0.69zM221.4 286.9h0.69v3.80h-0.69zM218.3 290.7h3.10v1.18h-3.10zM221.4 290.7h0.69v1.18h-0.69zM225.2 286.9h0.69v3.80h-0.69zM222.1 290.7h3.10v1.18h-3.10zM225.2 290.7h0.69v1.18h-0.69zM229.0 286.9h0.69v3.80h-0.69zM225.9 290.7h3.10v1.18h-3.10zM229.0 290.7h0.69v1.18h-0.69zM232.8 287.0h0.69v3.80h-0.69zM229.7 290.8h3.10v1.18h-3.10zM232.8 290.8h0.69v1.18h-0.69zM236.6 287.0h0.69v3.80h-0.69zM233.5 290.8h3.10v1.18h-3.10zM236.6 290.8h0.69v1.18h-0.69zM240.4 287.0h0.69v3.80h-0.69zM237.3 290.8h3.10v1.18h-3.10zM240.4 290.8h0.69v1.18h-0.69zM244.2 287.0h0.69v3.80h-0.69zM241.1 290.8h3.10v1.18h-3.10zM244.2 290.8h0.69v1.18h-0.69zM248.0 287.1h0.69v3.80h-0.69zM244.9 290.9h3.10v1.18h-3.10zM248.0 290.9h0.69v1.18h-0.69zM251.8 287.1h0.69v3.80h-0.69zM248.7 290.9h3.10v1.18h-3.10zM251.8 290.9h0.69v1.18h-0.69zM255.5 287.1h0.69v3.80h-0.69zM252.4 290.9h3.10v1.18h-3.10zM255.5 290.9h0.69v1.18h-0.69zM256.2 290.9h3.10v1.18h-3.10zM126.7 291.3h0.69v3.80h-0.69zM123.6 295.1h3.10v1.18h-3.10zM126.7 295.1h0.69v1.18h-0.69zM130.5 291.3h0.69v3.80h-0.69zM127.4 295.1h3.10v1.18h-3.10zM130.5 295.1h0.69v1.18h-0.69zM134.3 291.3h0.69v3.80h-0.69zM131.2 295.1h3.10v1.18h-3.10zM134.3 295.1h0.69v1.18h-0.69zM138.0 291.3h0.69v3.80h-0.69zM134.9 295.1h3.10v1.18h-3.10zM138.0 295.1h0.69v1.18h-0.69zM141.8 291.4h0.69v3.80h-0.69zM138.7 295.2h3.10v1.18h-3.10zM141.8 295.2h0.69v1.18h-0.69zM145.6 291.4h0.69v3.80h-0.69zM142.5 295.2h3.10v1.18h-3.10zM145.6 295.2h0.69v1.18h-0.69zM149.4 291.4h0.69v3.80h-0.69zM146.3 295.2h3.10v1.18h-3.10zM149.4 295.2h0.69v1.18h-0.69zM153.2 291.4h0.69v3.80h-0.69zM150.1 295.2h3.10v1.18h-3.10zM153.2 295.2h0.69v1.18h-0.69zM157.0 291.5h0.69v3.80h-0.69zM153.9 295.3h3.10v1.18h-3.10zM157.0 295.3h0.69v1.18h-0.69zM160.8 291.5h0.69v3.80h-0.69zM157.7 295.3h3.10v1.18h-3.10zM160.8 295.3h0.69v1.18h-0.69zM164.6 291.5h0.69v3.80h-0.69zM161.5 295.3h3.10v1.18h-3.10zM164.6 295.3h0.69v1.18h-0.69zM168.4 291.5h0.69v3.80h-0.69zM165.3 295.3h3.10v1.18h-3.10zM168.4 295.3h0.69v1.18h-0.69zM172.2 291.6h0.69v3.80h-0.69zM169.1 295.4h3.10v1.18h-3.10zM172.2 295.4h0.69v1.18h-0.69zM175.9 291.6h0.69v3.80h-0.69zM172.8 295.4h3.10v1.18h-3.10zM175.9 295.4h0.69v1.18h-0.69zM179.7 291.6h0.69v3.80h-0.69zM176.6 295.4h3.10v1.18h-3.10zM179.7 295.4h0.69v1.18h-0.69zM183.5 291.6h0.69v3.80h-0.69zM180.4 295.4h3.10v1.18h-3.10zM183.5 295.4h0.69v1.18h-0.69zM187.3 291.7h0.69v3.80h-0.69zM184.2 295.5h3.10v1.18h-3.10zM187.3 295.5h0.69v1.18h-0.69zM191.1 291.7h0.69v3.80h-0.69zM188.0 295.5h3.10v1.18h-3.10zM191.1 295.5h0.69v1.18h-0.69zM194.9 291.7h0.69v3.80h-0.69zM191.8 295.5h3.10v1.18h-3.10zM194.9 295.5h0.69v1.18h-0.69zM198.7 291.7h0.69v3.80h-0.69zM195.6 295.5h3.10v1.18h-3.10zM198.7 295.5h0.69v1.18h-0.69zM202.5 291.7h0.69v3.80h-0.69zM199.4 295.5h3.10v1.18h-3.10zM202.5 295.5h0.69v1.18h-0.69zM206.3 291.8h0.69v3.80h-0.69zM203.2 295.6h3.10v1.18h-3.10zM206.3 295.6h0.69v1.18h-0.69zM210.1 291.8h0.69v3.80h-0.69zM207.0 295.6h3.10v1.18h-3.10zM210.1 295.6h0.69v1.18h-0.69zM213.8 291.8h0.69v3.80h-0.69zM210.8 295.6h3.10v1.18h-3.10zM213.8 295.6h0.69v1.18h-0.69zM217.6 291.8h0.69v3.80h-0.69zM214.5 295.6h3.10v1.18h-3.10zM217.6 295.6h0.69v1.18h-0.69zM221.4 291.9h0.69v3.80h-0.69zM218.3 295.7h3.10v1.18h-3.10zM221.4 295.7h0.69v1.18h-0.69zM225.2 291.9h0.69v3.80h-0.69zM222.1 295.7h3.10v1.18h-3.10zM225.2 295.7h0.69v1.18h-0.69zM229.0 291.9h0.69v3.80h-0.69zM225.9 295.7h3.10v1.18h-3.10zM229.0 295.7h0.69v1.18h-0.69zM232.8 291.9h0.69v3.80h-0.69zM229.7 295.7h3.10v1.18h-3.10zM232.8 295.7h0.69v1.18h-0.69zM236.6 292.0h0.69v3.80h-0.69zM233.5 295.8h3.10v1.18h-3.10zM236.6 295.8h0.69v1.18h-0.69zM240.4 292.0h0.69v3.80h-0.69zM237.3 295.8h3.10v1.18h-3.10zM240.4 295.8h0.69v1.18h-0.69zM244.2 292.0h0.69v3.80h-0.69zM241.1 295.8h3.10v1.18h-3.10zM244.2 295.8h0.69v1.18h-0.69zM248.0 292.0h0.69v3.80h-0.69zM244.9 295.8h3.10v1.18h-3.10zM248.0 295.8h0.69v1.18h-0.69zM251.8 292.1h0.69v3.80h-0.69zM248.7 295.9h3.10v1.18h-3.10zM251.8 295.9h0.69v1.18h-0.69zM255.5 292.1h0.69v3.80h-0.69zM252.4 295.9h3.10v1.18h-3.10zM255.5 295.9h0.69v1.18h-0.69zM256.2 295.9h3.10v1.18h-3.10zM126.7 296.2h0.69v3.80h-0.69zM123.6 300.0h3.10v1.18h-3.10zM126.7 300.0h0.69v1.18h-0.69zM130.5 296.3h0.69v3.80h-0.69zM127.4 300.1h3.10v1.18h-3.10zM130.5 300.1h0.69v1.18h-0.69zM134.3 296.3h0.69v3.80h-0.69zM131.2 300.1h3.10v1.18h-3.10zM134.3 300.1h0.69v1.18h-0.69zM138.0 296.3h0.69v3.80h-0.69zM134.9 300.1h3.10v1.18h-3.10zM138.0 300.1h0.69v1.18h-0.69zM141.8 296.3h0.69v3.80h-0.69zM138.7 300.1h3.10v1.18h-3.10zM141.8 300.1h0.69v1.18h-0.69zM145.6 296.4h0.69v3.80h-0.69zM142.5 300.2h3.10v1.18h-3.10zM145.6 300.2h0.69v1.18h-0.69zM149.4 296.4h0.69v3.80h-0.69zM146.3 300.2h3.10v1.18h-3.10zM149.4 300.2h0.69v1.18h-0.69zM153.2 296.4h0.69v3.80h-0.69zM150.1 300.2h3.10v1.18h-3.10zM153.2 300.2h0.69v1.18h-0.69zM157.0 296.4h0.69v3.80h-0.69zM153.9 300.2h3.10v1.18h-3.10zM157.0 300.2h0.69v1.18h-0.69zM160.8 296.5h0.69v3.80h-0.69zM157.7 300.3h3.10v1.18h-3.10zM160.8 300.3h0.69v1.18h-0.69zM164.6 296.5h0.69v3.80h-0.69zM161.5 300.3h3.10v1.18h-3.10zM164.6 300.3h0.69v1.18h-0.69zM168.4 296.5h0.69v3.80h-0.69zM165.3 300.3h3.10v1.18h-3.10zM168.4 300.3h0.69v1.18h-0.69zM172.2 296.5h0.69v3.80h-0.69zM169.1 300.3h3.10v1.18h-3.10zM172.2 300.3h0.69v1.18h-0.69zM175.9 296.6h0.69v3.80h-0.69zM172.8 300.4h3.10v1.18h-3.10zM175.9 300.4h0.69v1.18h-0.69zM179.7 296.6h0.69v3.80h-0.69zM176.6 300.4h3.10v1.18h-3.10zM179.7 300.4h0.69v1.18h-0.69zM183.5 296.6h0.69v3.80h-0.69zM180.4 300.4h3.10v1.18h-3.10zM183.5 300.4h0.69v1.18h-0.69zM187.3 296.6h0.69v3.80h-0.69zM184.2 300.4h3.10v1.18h-3.10zM187.3 300.4h0.69v1.18h-0.69zM191.1 296.7h0.69v3.80h-0.69zM188.0 300.5h3.10v1.18h-3.10zM191.1 300.5h0.69v1.18h-0.69zM194.9 296.7h0.69v3.80h-0.69zM191.8 300.5h3.10v1.18h-3.10zM194.9 300.5h0.69v1.18h-0.69zM198.7 296.7h0.69v3.80h-0.69zM195.6 300.5h3.10v1.18h-3.10zM198.7 300.5h0.69v1.18h-0.69zM202.5 296.7h0.69v3.80h-0.69zM199.4 300.5h3.10v1.18h-3.10zM202.5 300.5h0.69v1.18h-0.69zM206.3 296.8h0.69v3.80h-0.69zM203.2 300.6h3.10v1.18h-3.10zM206.3 300.6h0.69v1.18h-0.69zM210.1 296.8h0.69v3.80h-0.69zM207.0 300.6h3.10v1.18h-3.10zM210.1 300.6h0.69v1.18h-0.69zM213.8 296.8h0.69v3.80h-0.69zM210.8 300.6h3.10v1.18h-3.10zM213.8 300.6h0.69v1.18h-0.69zM217.6 296.8h0.69v3.80h-0.69zM214.5 300.6h3.10v1.18h-3.10zM217.6 300.6h0.69v1.18h-0.69zM221.4 296.8h0.69v3.80h-0.69zM218.3 300.6h3.10v1.18h-3.10zM221.4 300.6h0.69v1.18h-0.69zM225.2 296.9h0.69v3.80h-0.69zM222.1 300.7h3.10v1.18h-3.10zM225.2 300.7h0.69v1.18h-0.69zM229.0 296.9h0.69v3.80h-0.69zM225.9 300.7h3.10v1.18h-3.10zM229.0 300.7h0.69v1.18h-0.69zM232.8 296.9h0.69v3.80h-0.69zM229.7 300.7h3.10v1.18h-3.10zM232.8 300.7h0.69v1.18h-0.69zM236.6 296.9h0.69v3.80h-0.69zM233.5 300.7h3.10v1.18h-3.10zM236.6 300.7h0.69v1.18h-0.69zM240.4 297.0h0.69v3.80h-0.69zM237.3 300.8h3.10v1.18h-3.10zM240.4 300.8h0.69v1.18h-0.69zM244.2 297.0h0.69v3.80h-0.69zM241.1 300.8h3.10v1.18h-3.10zM244.2 300.8h0.69v1.18h-0.69zM248.0 297.0h0.69v3.80h-0.69zM244.9 300.8h3.10v1.18h-3.10zM248.0 300.8h0.69v1.18h-0.69zM251.8 297.0h0.69v3.80h-0.69zM248.7 300.8h3.10v1.18h-3.10zM251.8 300.8h0.69v1.18h-0.69zM255.5 297.1h0.69v3.80h-0.69zM252.4 300.9h3.10v1.18h-3.10zM255.5 300.9h0.69v1.18h-0.69zM256.2 300.9h3.10v1.18h-3.10zM126.7 301.2h0.69v3.80h-0.69zM123.6 305.0h3.10v1.18h-3.10zM126.7 305.0h0.69v1.18h-0.69zM130.5 301.3h0.69v3.80h-0.69zM127.4 305.1h3.10v1.18h-3.10zM130.5 305.1h0.69v1.18h-0.69zM134.3 301.3h0.69v3.80h-0.69zM131.2 305.1h3.10v1.18h-3.10zM134.3 305.1h0.69v1.18h-0.69zM138.0 301.3h0.69v3.80h-0.69zM134.9 305.1h3.10v1.18h-3.10zM138.0 305.1h0.69v1.18h-0.69zM141.8 301.3h0.69v3.80h-0.69zM138.7 305.1h3.10v1.18h-3.10zM141.8 305.1h0.69v1.18h-0.69zM145.6 301.3h0.69v3.80h-0.69zM142.5 305.1h3.10v1.18h-3.10zM145.6 305.1h0.69v1.18h-0.69zM149.4 301.4h0.69v3.80h-0.69zM146.3 305.2h3.10v1.18h-3.10zM149.4 305.2h0.69v1.18h-0.69zM153.2 301.4h0.69v3.80h-0.69zM150.1 305.2h3.10v1.18h-3.10zM153.2 305.2h0.69v1.18h-0.69zM157.0 301.4h0.69v3.80h-0.69zM153.9 305.2h3.10v1.18h-3.10zM157.0 305.2h0.69v1.18h-0.69zM160.8 301.4h0.69v3.80h-0.69zM157.7 305.2h3.10v1.18h-3.10zM160.8 305.2h0.69v1.18h-0.69zM164.6 301.5h0.69v3.80h-0.69zM161.5 305.3h3.10v1.18h-3.10zM164.6 305.3h0.69v1.18h-0.69zM168.4 301.5h0.69v3.80h-0.69zM165.3 305.3h3.10v1.18h-3.10zM168.4 305.3h0.69v1.18h-0.69zM172.2 301.5h0.69v3.80h-0.69zM169.1 305.3h3.10v1.18h-3.10zM172.2 305.3h0.69v1.18h-0.69zM175.9 301.5h0.69v3.80h-0.69zM172.8 305.3h3.10v1.18h-3.10zM175.9 305.3h0.69v1.18h-0.69zM179.7 301.6h0.69v3.80h-0.69zM176.6 305.4h3.10v1.18h-3.10zM179.7 305.4h0.69v1.18h-0.69zM183.5 301.6h0.69v3.80h-0.69zM180.4 305.4h3.10v1.18h-3.10zM183.5 305.4h0.69v1.18h-0.69zM187.3 301.6h0.69v3.80h-0.69zM184.2 305.4h3.10v1.18h-3.10zM187.3 305.4h0.69v1.18h-0.69zM191.1 301.6h0.69v3.80h-0.69zM188.0 305.4h3.10v1.18h-3.10zM191.1 305.4h0.69v1.18h-0.69zM194.9 301.7h0.69v3.80h-0.69zM191.8 305.5h3.10v1.18h-3.10zM194.9 305.5h0.69v1.18h-0.69zM198.7 301.7h0.69v3.80h-0.69zM195.6 305.5h3.10v1.18h-3.10zM198.7 305.5h0.69v1.18h-0.69zM202.5 301.7h0.69v3.80h-0.69zM199.4 305.5h3.10v1.18h-3.10zM202.5 305.5h0.69v1.18h-0.69zM206.3 301.7h0.69v3.80h-0.69zM203.2 305.5h3.10v1.18h-3.10zM206.3 305.5h0.69v1.18h-0.69zM210.1 301.8h0.69v3.80h-0.69zM207.0 305.6h3.10v1.18h-3.10zM210.1 305.6h0.69v1.18h-0.69zM213.8 301.8h0.69v3.80h-0.69zM210.8 305.6h3.10v1.18h-3.10zM213.8 305.6h0.69v1.18h-0.69zM217.6 301.8h0.69v3.80h-0.69zM214.5 305.6h3.10v1.18h-3.10zM217.6 305.6h0.69v1.18h-0.69zM221.4 301.8h0.69v3.80h-0.69zM218.3 305.6h3.10v1.18h-3.10zM221.4 305.6h0.69v1.18h-0.69zM225.2 301.9h0.69v3.80h-0.69zM222.1 305.7h3.10v1.18h-3.10zM225.2 305.7h0.69v1.18h-0.69zM229.0 301.9h0.69v3.80h-0.69zM225.9 305.7h3.10v1.18h-3.10zM229.0 305.7h0.69v1.18h-0.69zM232.8 301.9h0.69v3.80h-0.69zM229.7 305.7h3.10v1.18h-3.10zM232.8 305.7h0.69v1.18h-0.69zM236.6 301.9h0.69v3.80h-0.69zM233.5 305.7h3.10v1.18h-3.10zM236.6 305.7h0.69v1.18h-0.69zM240.4 301.9h0.69v3.80h-0.69zM237.3 305.7h3.10v1.18h-3.10zM240.4 305.7h0.69v1.18h-0.69zM244.2 302.0h0.69v3.80h-0.69zM241.1 305.8h3.10v1.18h-3.10zM244.2 305.8h0.69v1.18h-0.69zM248.0 302.0h0.69v3.80h-0.69zM244.9 305.8h3.10v1.18h-3.10zM248.0 305.8h0.69v1.18h-0.69zM251.8 302.0h0.69v3.80h-0.69zM248.7 305.8h3.10v1.18h-3.10zM251.8 305.8h0.69v1.18h-0.69zM255.5 302.0h0.69v3.80h-0.69zM252.4 305.8h3.10v1.18h-3.10zM255.5 305.8h0.69v1.18h-0.69zM256.2 305.9h3.10v1.18h-3.10zM126.7 306.2h0.69v3.80h-0.69zM123.6 310.0h3.10v1.18h-3.10zM126.7 310.0h0.69v1.18h-0.69zM130.5 306.2h0.69v3.80h-0.69zM127.4 310.0h3.10v1.18h-3.10zM130.5 310.0h0.69v1.18h-0.69zM134.3 306.3h0.69v3.80h-0.69zM131.2 310.1h3.10v1.18h-3.10zM134.3 310.1h0.69v1.18h-0.69zM138.0 306.3h0.69v3.80h-0.69zM134.9 310.1h3.10v1.18h-3.10zM138.0 310.1h0.69v1.18h-0.69zM141.8 306.3h0.69v3.80h-0.69zM138.7 310.1h3.10v1.18h-3.10zM141.8 310.1h0.69v1.18h-0.69zM145.6 306.3h0.69v3.80h-0.69zM142.5 310.1h3.10v1.18h-3.10zM145.6 310.1h0.69v1.18h-0.69zM149.4 306.4h0.69v3.80h-0.69zM146.3 310.2h3.10v1.18h-3.10zM149.4 310.2h0.69v1.18h-0.69zM153.2 306.4h0.69v3.80h-0.69zM150.1 310.2h3.10v1.18h-3.10zM153.2 310.2h0.69v1.18h-0.69zM157.0 306.4h0.69v3.80h-0.69zM153.9 310.2h3.10v1.18h-3.10zM157.0 310.2h0.69v1.18h-0.69zM160.8 306.4h0.69v3.80h-0.69zM157.7 310.2h3.10v1.18h-3.10zM160.8 310.2h0.69v1.18h-0.69zM164.6 306.4h0.69v3.80h-0.69zM161.5 310.2h3.10v1.18h-3.10zM164.6 310.2h0.69v1.18h-0.69zM168.4 306.5h0.69v3.80h-0.69zM165.3 310.3h3.10v1.18h-3.10zM168.4 310.3h0.69v1.18h-0.69zM172.2 306.5h0.69v3.80h-0.69zM169.1 310.3h3.10v1.18h-3.10zM172.2 310.3h0.69v1.18h-0.69zM175.9 306.5h0.69v3.80h-0.69zM172.8 310.3h3.10v1.18h-3.10zM175.9 310.3h0.69v1.18h-0.69zM179.7 306.5h0.69v3.80h-0.69zM176.6 310.3h3.10v1.18h-3.10zM179.7 310.3h0.69v1.18h-0.69zM183.5 306.6h0.69v3.80h-0.69zM180.4 310.4h3.10v1.18h-3.10zM183.5 310.4h0.69v1.18h-0.69zM187.3 306.6h0.69v3.80h-0.69zM184.2 310.4h3.10v1.18h-3.10zM187.3 310.4h0.69v1.18h-0.69zM191.1 306.6h0.69v3.80h-0.69zM188.0 310.4h3.10v1.18h-3.10zM191.1 310.4h0.69v1.18h-0.69zM194.9 306.6h0.69v3.80h-0.69zM191.8 310.4h3.10v1.18h-3.10zM194.9 310.4h0.69v1.18h-0.69zM198.7 306.7h0.69v3.80h-0.69zM195.6 310.5h3.10v1.18h-3.10zM198.7 310.5h0.69v1.18h-0.69zM202.5 306.7h0.69v3.80h-0.69zM199.4 310.5h3.10v1.18h-3.10zM202.5 310.5h0.69v1.18h-0.69zM206.3 306.7h0.69v3.80h-0.69zM203.2 310.5h3.10v1.18h-3.10zM206.3 310.5h0.69v1.18h-0.69zM210.1 306.7h0.69v3.80h-0.69zM207.0 310.5h3.10v1.18h-3.10zM210.1 310.5h0.69v1.18h-0.69zM213.8 306.8h0.69v3.80h-0.69zM210.8 310.6h3.10v1.18h-3.10zM213.8 310.6h0.69v1.18h-0.69zM217.6 306.8h0.69v3.80h-0.69zM214.5 310.6h3.10v1.18h-3.10zM217.6 310.6h0.69v1.18h-0.69zM221.4 306.8h0.69v3.80h-0.69zM218.3 310.6h3.10v1.18h-3.10zM221.4 310.6h0.69v1.18h-0.69zM225.2 306.8h0.69v3.80h-0.69zM222.1 310.6h3.10v1.18h-3.10zM225.2 310.6h0.69v1.18h-0.69zM229.0 306.9h0.69v3.80h-0.69zM225.9 310.7h3.10v1.18h-3.10zM229.0 310.7h0.69v1.18h-0.69zM232.8 306.9h0.69v3.80h-0.69zM229.7 310.7h3.10v1.18h-3.10zM232.8 310.7h0.69v1.18h-0.69zM236.6 306.9h0.69v3.80h-0.69zM233.5 310.7h3.10v1.18h-3.10zM236.6 310.7h0.69v1.18h-0.69zM240.4 306.9h0.69v3.80h-0.69zM237.3 310.7h3.10v1.18h-3.10zM240.4 310.7h0.69v1.18h-0.69zM244.2 307.0h0.69v3.80h-0.69zM241.1 310.8h3.10v1.18h-3.10zM244.2 310.8h0.69v1.18h-0.69zM248.0 307.0h0.69v3.80h-0.69zM244.9 310.8h3.10v1.18h-3.10zM248.0 310.8h0.69v1.18h-0.69zM251.8 307.0h0.69v3.80h-0.69zM248.7 310.8h3.10v1.18h-3.10zM251.8 310.8h0.69v1.18h-0.69zM255.5 307.0h0.69v3.80h-0.69zM252.4 310.8h3.10v1.18h-3.10zM255.5 310.8h0.69v1.18h-0.69zM256.2 310.8h3.10v1.18h-3.10zM126.7 311.2h0.69v3.80h-0.69zM123.6 315.0h3.10v1.18h-3.10zM126.7 315.0h0.69v1.18h-0.69zM130.5 311.2h0.69v3.80h-0.69zM127.4 315.0h3.10v1.18h-3.10zM130.5 315.0h0.69v1.18h-0.69zM134.3 311.2h0.69v3.80h-0.69zM131.2 315.0h3.10v1.18h-3.10zM134.3 315.0h0.69v1.18h-0.69zM138.0 311.3h0.69v3.80h-0.69zM134.9 315.1h3.10v1.18h-3.10zM138.0 315.1h0.69v1.18h-0.69zM141.8 311.3h0.69v3.80h-0.69zM138.7 315.1h3.10v1.18h-3.10zM141.8 315.1h0.69v1.18h-0.69zM145.6 311.3h0.69v3.80h-0.69zM142.5 315.1h3.10v1.18h-3.10zM145.6 315.1h0.69v1.18h-0.69zM149.4 311.3h0.69v3.80h-0.69zM146.3 315.1h3.10v1.18h-3.10zM149.4 315.1h0.69v1.18h-0.69zM153.2 311.4h0.69v3.80h-0.69zM150.1 315.2h3.10v1.18h-3.10zM153.2 315.2h0.69v1.18h-0.69zM157.0 311.4h0.69v3.80h-0.69zM153.9 315.2h3.10v1.18h-3.10zM157.0 315.2h0.69v1.18h-0.69zM160.8 311.4h0.69v3.80h-0.69zM157.7 315.2h3.10v1.18h-3.10zM160.8 315.2h0.69v1.18h-0.69zM164.6 311.4h0.69v3.80h-0.69zM161.5 315.2h3.10v1.18h-3.10zM164.6 315.2h0.69v1.18h-0.69zM168.4 311.5h0.69v3.80h-0.69zM165.3 315.3h3.10v1.18h-3.10zM168.4 315.3h0.69v1.18h-0.69zM172.2 311.5h0.69v3.80h-0.69zM169.1 315.3h3.10v1.18h-3.10zM172.2 315.3h0.69v1.18h-0.69zM175.9 311.5h0.69v3.80h-0.69zM172.8 315.3h3.10v1.18h-3.10zM175.9 315.3h0.69v1.18h-0.69zM179.7 311.5h0.69v3.80h-0.69zM176.6 315.3h3.10v1.18h-3.10zM179.7 315.3h0.69v1.18h-0.69zM183.5 311.5h0.69v3.80h-0.69zM180.4 315.3h3.10v1.18h-3.10zM183.5 315.3h0.69v1.18h-0.69zM187.3 311.6h0.69v3.80h-0.69zM184.2 315.4h3.10v1.18h-3.10zM187.3 315.4h0.69v1.18h-0.69zM191.1 311.6h0.69v3.80h-0.69zM188.0 315.4h3.10v1.18h-3.10zM191.1 315.4h0.69v1.18h-0.69zM194.9 311.6h0.69v3.80h-0.69zM191.8 315.4h3.10v1.18h-3.10zM194.9 315.4h0.69v1.18h-0.69zM198.7 311.6h0.69v3.80h-0.69zM195.6 315.4h3.10v1.18h-3.10zM198.7 315.4h0.69v1.18h-0.69zM202.5 311.7h0.69v3.80h-0.69zM199.4 315.5h3.10v1.18h-3.10zM202.5 315.5h0.69v1.18h-0.69zM206.3 311.7h0.69v3.80h-0.69zM203.2 315.5h3.10v1.18h-3.10zM206.3 315.5h0.69v1.18h-0.69zM210.1 311.7h0.69v3.80h-0.69zM207.0 315.5h3.10v1.18h-3.10zM210.1 315.5h0.69v1.18h-0.69zM213.8 311.7h0.69v3.80h-0.69zM210.8 315.5h3.10v1.18h-3.10zM213.8 315.5h0.69v1.18h-0.69zM217.6 311.8h0.69v3.80h-0.69zM214.5 315.6h3.10v1.18h-3.10zM217.6 315.6h0.69v1.18h-0.69zM221.4 311.8h0.69v3.80h-0.69zM218.3 315.6h3.10v1.18h-3.10zM221.4 315.6h0.69v1.18h-0.69zM225.2 311.8h0.69v3.80h-0.69zM222.1 315.6h3.10v1.18h-3.10zM225.2 315.6h0.69v1.18h-0.69zM229.0 311.8h0.69v3.80h-0.69zM225.9 315.6h3.10v1.18h-3.10zM229.0 315.6h0.69v1.18h-0.69zM232.8 311.9h0.69v3.80h-0.69zM229.7 315.7h3.10v1.18h-3.10zM232.8 315.7h0.69v1.18h-0.69zM236.6 311.9h0.69v3.80h-0.69zM233.5 315.7h3.10v1.18h-3.10zM236.6 315.7h0.69v1.18h-0.69zM240.4 311.9h0.69v3.80h-0.69zM237.3 315.7h3.10v1.18h-3.10zM240.4 315.7h0.69v1.18h-0.69zM244.2 311.9h0.69v3.80h-0.69zM241.1 315.7h3.10v1.18h-3.10zM244.2 315.7h0.69v1.18h-0.69zM248.0 312.0h0.69v3.80h-0.69zM244.9 315.8h3.10v1.18h-3.10zM248.0 315.8h0.69v1.18h-0.69zM251.8 312.0h0.69v3.80h-0.69zM248.7 315.8h3.10v1.18h-3.10zM251.8 315.8h0.69v1.18h-0.69zM255.5 312.0h0.69v3.80h-0.69zM252.4 315.8h3.10v1.18h-3.10zM255.5 315.8h0.69v1.18h-0.69zM256.2 315.8h3.10v1.18h-3.10zM130.5 316.2h0.69v3.80h-0.69zM134.3 316.2h0.69v3.80h-0.69zM138.0 316.2h0.69v3.80h-0.69zM141.8 316.3h0.69v3.80h-0.69zM145.6 316.3h0.69v3.80h-0.69zM149.4 316.3h0.69v3.80h-0.69zM153.2 316.3h0.69v3.80h-0.69zM157.0 316.4h0.69v3.80h-0.69zM160.8 316.4h0.69v3.80h-0.69zM164.6 316.4h0.69v3.80h-0.69zM168.4 316.4h0.69v3.80h-0.69zM172.2 316.5h0.69v3.80h-0.69zM175.9 316.5h0.69v3.80h-0.69zM179.7 316.5h0.69v3.80h-0.69zM183.5 316.5h0.69v3.80h-0.69zM187.3 316.6h0.69v3.80h-0.69zM191.1 316.6h0.69v3.80h-0.69zM194.9 316.6h0.69v3.80h-0.69zM198.7 316.6h0.69v3.80h-0.69zM202.5 316.6h0.69v3.80h-0.69zM206.3 316.7h0.69v3.80h-0.69zM210.1 316.7h0.69v3.80h-0.69zM213.8 316.7h0.69v3.80h-0.69zM217.6 316.7h0.69v3.80h-0.69zM221.4 316.8h0.69v3.80h-0.69zM225.2 316.8h0.69v3.80h-0.69zM229.0 316.8h0.69v3.80h-0.69zM232.8 316.8h0.69v3.80h-0.69zM236.6 316.9h0.69v3.80h-0.69zM240.4 316.9h0.69v3.80h-0.69zM244.2 316.9h0.69v3.80h-0.69zM248.0 316.9h0.69v3.80h-0.69zM251.8 317.0h0.69v3.80h-0.69zM255.5 317.0h0.69v3.80h-0.69zM122.9 326.1h0.69v3.80h-0.69zM119.8 329.9h3.10v1.18h-3.10zM122.9 329.9h0.69v1.18h-0.69zM126.7 326.1h0.69v3.80h-0.69zM123.6 329.9h3.10v1.18h-3.10zM126.7 329.9h0.69v1.18h-0.69zM130.5 326.2h0.69v3.80h-0.69zM127.4 330.0h3.10v1.18h-3.10zM255.5 326.9h0.69v3.80h-0.69zM252.4 330.7h3.10v1.18h-3.10zM255.5 330.7h0.69v1.18h-0.69zM259.3 327.0h0.69v3.80h-0.69zM256.2 330.8h3.10v1.18h-3.10zM259.3 330.8h0.69v1.18h-0.69zM263.1 327.0h0.69v3.80h-0.69zM260.0 330.8h3.10v1.18h-3.10zM122.9 331.1h0.69v3.80h-0.69zM119.8 334.9h3.10v1.18h-3.10zM122.9 334.9h0.69v1.18h-0.69zM126.7 331.1h0.69v3.80h-0.69zM123.6 334.9h3.10v1.18h-3.10zM126.7 334.9h0.69v1.18h-0.69zM127.4 334.9h3.10v1.18h-3.10zM255.5 331.9h0.69v3.80h-0.69zM252.4 335.7h3.10v1.18h-3.10zM255.5 335.7h0.69v1.18h-0.69zM259.3 331.9h0.69v3.80h-0.69zM256.2 335.7h3.10v1.18h-3.10zM259.3 335.7h0.69v1.18h-0.69zM260.0 335.8h3.10v1.18h-3.10zM126.7 336.1h0.69v3.80h-0.69zM259.3 336.9h0.69v3.80h-0.69zM310.1 33.5h0.69v3.80h-0.69zM307.0 37.3h3.10v1.18h-3.10zM310.1 37.3h0.69v1.18h-0.69zM313.9 33.5h0.69v3.80h-0.69zM310.8 37.3h3.10v1.18h-3.10zM313.9 37.3h0.69v1.18h-0.69zM317.7 33.5h0.69v3.80h-0.69zM314.6 37.3h3.10v1.18h-3.10zM317.7 37.3h0.69v1.18h-0.69zM321.5 33.5h0.69v3.80h-0.69zM318.4 37.3h3.10v1.18h-3.10zM321.5 37.3h0.69v1.18h-0.69zM325.3 33.6h0.69v3.80h-0.69zM322.2 37.4h3.10v1.18h-3.10zM325.3 37.4h0.69v1.18h-0.69zM329.1 33.6h0.69v3.80h-0.69zM325.9 37.4h3.10v1.18h-3.10zM306.3 38.4h0.69v3.80h-0.69zM303.2 42.2h3.10v1.18h-3.10zM306.3 42.2h0.69v1.18h-0.69zM310.1 38.4h0.69v3.80h-0.69zM307.0 42.2h3.10v1.18h-3.10zM310.1 42.2h0.69v1.18h-0.69zM313.9 38.5h0.69v3.80h-0.69zM310.8 42.3h3.10v1.18h-3.10zM313.9 42.3h0.69v1.18h-0.69zM317.7 38.5h0.69v3.80h-0.69zM314.6 42.3h3.10v1.18h-3.10zM317.7 42.3h0.69v1.18h-0.69zM321.5 38.5h0.69v3.80h-0.69zM318.4 42.3h3.10v1.18h-3.10zM321.5 42.3h0.69v1.18h-0.69zM325.3 38.5h0.69v3.80h-0.69zM322.2 42.3h3.10v1.18h-3.10zM306.3 43.4h0.69v3.80h-0.69zM303.2 47.2h3.10v1.18h-3.10zM306.3 47.2h0.69v1.18h-0.69zM310.1 43.4h0.69v3.80h-0.69zM307.0 47.2h3.10v1.18h-3.10zM310.1 47.2h0.69v1.18h-0.69zM313.9 43.4h0.69v3.80h-0.69zM310.8 47.2h3.10v1.18h-3.10zM313.9 47.2h0.69v1.18h-0.69zM317.7 43.5h0.69v3.80h-0.69zM314.6 47.3h3.10v1.18h-3.10zM317.7 47.3h0.69v1.18h-0.69zM321.5 43.5h0.69v3.80h-0.69zM318.4 47.3h3.10v1.18h-3.10zM321.5 47.3h0.69v1.18h-0.69zM322.2 47.3h3.10v1.18h-3.10zM306.3 48.4h0.69v3.80h-0.69zM303.2 52.2h3.10v1.18h-3.10zM306.3 52.2h0.69v1.18h-0.69zM310.1 48.4h0.69v3.80h-0.69zM307.0 52.2h3.10v1.18h-3.10zM310.1 52.2h0.69v1.18h-0.69zM313.9 48.4h0.69v3.80h-0.69zM310.8 52.2h3.10v1.18h-3.10zM313.9 52.2h0.69v1.18h-0.69zM317.7 48.5h0.69v3.80h-0.69zM314.6 52.3h3.10v1.18h-3.10zM317.7 52.3h0.69v1.18h-0.69zM321.5 48.5h0.69v3.80h-0.69zM318.4 52.3h3.10v1.18h-3.10zM321.5 52.3h0.69v1.18h-0.69zM322.2 52.3h3.10v1.18h-3.10zM310.1 53.4h0.69v3.80h-0.69zM307.0 57.2h3.10v1.18h-3.10zM310.1 57.2h0.69v1.18h-0.69zM313.9 53.4h0.69v3.80h-0.69zM310.8 57.2h3.10v1.18h-3.10zM313.9 57.2h0.69v1.18h-0.69zM317.7 53.4h0.69v3.80h-0.69zM314.6 57.2h3.10v1.18h-3.10zM317.7 57.2h0.69v1.18h-0.69zM321.5 53.5h0.69v3.80h-0.69zM318.4 57.3h3.10v1.18h-3.10zM321.5 57.3h0.69v1.18h-0.69zM325.3 53.5h0.69v3.80h-0.69zM322.2 57.3h3.10v1.18h-3.10zM325.3 57.3h0.69v1.18h-0.69zM310.1 58.4h0.69v3.80h-0.69zM307.0 62.2h3.10v1.18h-3.10zM313.9 58.4h0.69v3.80h-0.69zM317.7 58.4h0.69v3.80h-0.69zM321.5 58.4h0.69v3.80h-0.69zM325.3 58.5h0.69v3.80h-0.69zM329.1 58.5h0.69v3.80h-0.69zM344.2 58.6h0.69v3.80h-0.69zM341.1 62.4h3.10v1.18h-3.10zM344.2 62.4h0.69v1.18h-0.69zM348.0 58.6h0.69v3.80h-0.69zM344.9 62.4h3.10v1.18h-3.10zM348.0 62.4h0.69v1.18h-0.69zM336.6 63.5h0.69v3.80h-0.69zM333.5 67.3h3.10v1.18h-3.10zM336.6 67.3h0.69v1.18h-0.69zM340.4 63.5h0.69v3.80h-0.69zM337.3 67.3h3.10v1.18h-3.10zM340.4 67.3h0.69v1.18h-0.69zM344.2 63.6h0.69v3.80h-0.69zM341.1 67.4h3.10v1.18h-3.10zM344.2 67.4h0.69v1.18h-0.69zM348.0 63.6h0.69v3.80h-0.69zM344.9 67.4h3.10v1.18h-3.10zM348.0 67.4h0.69v1.18h-0.69zM351.8 63.6h0.69v3.80h-0.69zM348.7 67.4h3.10v1.18h-3.10zM351.8 67.4h0.69v1.18h-0.69zM287.4 68.2h0.69v3.80h-0.69zM284.3 72.0h3.10v1.18h-3.10zM303.2 72.1h3.10v1.18h-3.10zM336.6 68.5h0.69v3.80h-0.69zM333.5 72.3h3.10v1.18h-3.10zM336.6 72.3h0.69v1.18h-0.69zM340.4 68.5h0.69v3.80h-0.69zM337.3 72.3h3.10v1.18h-3.10zM340.4 72.3h0.69v1.18h-0.69zM344.2 68.5h0.69v3.80h-0.69zM341.1 72.3h3.10v1.18h-3.10zM344.2 72.3h0.69v1.18h-0.69zM348.0 68.6h0.69v3.80h-0.69zM344.9 72.4h3.10v1.18h-3.10zM348.0 72.4h0.69v1.18h-0.69zM351.8 68.6h0.69v3.80h-0.69zM348.7 72.4h3.10v1.18h-3.10zM351.8 72.4h0.69v1.18h-0.69zM352.5 72.4h3.10v1.18h-3.10zM325.3 73.4h0.69v3.80h-0.69zM322.2 77.2h3.10v1.18h-3.10zM325.3 77.2h0.69v1.18h-0.69zM336.6 73.5h0.69v3.80h-0.69zM333.5 77.3h3.10v1.18h-3.10zM336.6 77.3h0.69v1.18h-0.69zM340.4 73.5h0.69v3.80h-0.69zM337.3 77.3h3.10v1.18h-3.10zM340.4 77.3h0.69v1.18h-0.69zM344.2 73.5h0.69v3.80h-0.69zM341.1 77.3h3.10v1.18h-3.10zM344.2 77.3h0.69v1.18h-0.69zM348.0 73.5h0.69v3.80h-0.69zM344.9 77.3h3.10v1.18h-3.10zM348.0 77.3h0.69v1.18h-0.69zM351.8 73.6h0.69v3.80h-0.69zM348.7 77.4h3.10v1.18h-3.10zM351.8 77.4h0.69v1.18h-0.69zM352.5 77.4h3.10v1.18h-3.10zM325.3 78.4h0.69v3.80h-0.69zM322.2 82.2h3.10v1.18h-3.10zM325.3 82.2h0.69v1.18h-0.69zM325.9 82.2h3.10v1.18h-3.10zM336.6 78.5h0.69v3.80h-0.69zM333.5 82.3h3.10v1.18h-3.10zM336.6 82.3h0.69v1.18h-0.69zM340.4 78.5h0.69v3.80h-0.69zM337.3 82.3h3.10v1.18h-3.10zM340.4 82.3h0.69v1.18h-0.69zM344.2 78.5h0.69v3.80h-0.69zM341.1 82.3h3.10v1.18h-3.10zM344.2 82.3h0.69v1.18h-0.69zM348.0 78.5h0.69v3.80h-0.69zM344.9 82.3h3.10v1.18h-3.10zM348.0 82.3h0.69v1.18h-0.69zM351.8 78.5h0.69v3.80h-0.69zM348.7 82.3h3.10v1.18h-3.10zM351.8 82.3h0.69v1.18h-0.69zM352.5 82.4h3.10v1.18h-3.10zM325.3 83.4h0.69v3.80h-0.69zM322.2 87.2h3.10v1.18h-3.10zM336.6 83.4h0.69v3.80h-0.69zM333.5 87.2h3.10v1.18h-3.10zM336.6 87.2h0.69v1.18h-0.69zM340.4 83.5h0.69v3.80h-0.69zM337.3 87.3h3.10v1.18h-3.10zM344.2 83.5h0.69v3.80h-0.69zM348.0 83.5h0.69v3.80h-0.69zM351.8 83.5h0.69v3.80h-0.69zM348.7 87.3h3.10v1.18h-3.10zM351.8 87.3h0.69v1.18h-0.69zM352.5 87.4h3.10v1.18h-3.10zM336.6 88.4h0.69v3.80h-0.69zM333.5 92.2h3.10v1.18h-3.10zM351.8 88.5h0.69v3.80h-0.69zM348.7 92.3h3.10v1.18h-3.10zM351.8 92.3h0.69v1.18h-0.69zM352.5 92.3h3.10v1.18h-3.10zM306.3 93.2h0.69v3.80h-0.69zM313.9 98.2h0.69v3.80h-0.69zM310.8 102.0h3.10v1.18h-3.10zM329.7 102.1h3.10v1.18h-3.10zM313.9 123.1h0.69v3.80h-0.69zM290.7 187.2h3.10v1.18h-3.10zM312.7 183.5h0.69v3.80h-0.69zM309.6 187.3h3.10v1.18h-3.10zM312.7 187.3h0.69v1.18h-0.69zM316.5 183.5h0.69v3.80h-0.69zM313.4 187.3h3.10v1.18h-3.10zM316.5 187.3h0.69v1.18h-0.69zM320.3 183.6h0.69v3.80h-0.69zM317.2 187.4h3.10v1.18h-3.10zM320.3 187.4h0.69v1.18h-0.69zM324.1 183.6h0.69v3.80h-0.69zM321.0 187.4h3.10v1.18h-3.10zM324.1 187.4h0.69v1.18h-0.69zM327.9 183.6h0.69v3.80h-0.69zM324.8 187.4h3.10v1.18h-3.10zM327.9 187.4h0.69v1.18h-0.69zM331.7 183.6h0.69v3.80h-0.69zM328.6 187.4h3.10v1.18h-3.10zM331.7 187.4h0.69v1.18h-0.69zM290.7 192.2h3.10v1.18h-3.10zM312.7 188.5h0.69v3.80h-0.69zM316.5 188.5h0.69v3.80h-0.69zM320.3 188.6h0.69v3.80h-0.69zM324.1 188.6h0.69v3.80h-0.69zM327.9 188.6h0.69v3.80h-0.69zM331.7 188.6h0.69v3.80h-0.69zM550.7 175.2h0.69v3.80h-0.69zM547.6 179.0h3.10v1.18h-3.10zM550.7 179.0h0.69v1.18h-0.69zM551.3 179.1h3.10v1.18h-3.10zM550.7 180.2h0.69v3.80h-0.69zM547.6 184.0h3.10v1.18h-3.10zM550.7 184.0h0.69v1.18h-0.69zM551.3 184.0h3.10v1.18h-3.10zM543.1 185.2h0.69v3.80h-0.69zM540.0 189.0h3.10v1.18h-3.10zM543.1 189.0h0.69v1.18h-0.69zM546.9 185.2h0.69v3.80h-0.69zM543.8 189.0h3.10v1.18h-3.10zM546.9 189.0h0.69v1.18h-0.69zM550.7 185.2h0.69v3.80h-0.69zM547.6 189.0h3.10v1.18h-3.10zM550.7 189.0h0.69v1.18h-0.69zM554.4 185.2h0.69v3.80h-0.69zM551.3 189.0h3.10v1.18h-3.10zM554.4 189.0h0.69v1.18h-0.69zM558.2 185.2h0.69v3.80h-0.69zM555.1 189.0h3.10v1.18h-3.10zM558.2 189.0h0.69v1.18h-0.69zM562.0 185.3h0.69v3.80h-0.69zM558.9 189.1h3.10v1.18h-3.10zM562.0 189.1h0.69v1.18h-0.69zM581.0 185.4h0.69v3.80h-0.69zM577.9 189.2h3.10v1.18h-3.10zM581.0 189.2h0.69v1.18h-0.69zM543.1 190.1h0.69v3.80h-0.69zM546.9 190.2h0.69v3.80h-0.69zM550.7 190.2h0.69v3.80h-0.69zM547.6 194.0h3.10v1.18h-3.10zM550.7 194.0h0.69v1.18h-0.69zM554.4 190.2h0.69v3.80h-0.69zM551.3 194.0h3.10v1.18h-3.10zM558.2 190.2h0.69v3.80h-0.69zM562.0 190.3h0.69v3.80h-0.69zM581.0 190.4h0.69v3.80h-0.69zM577.9 194.2h3.10v1.18h-3.10zM550.7 195.2h0.69v3.80h-0.69zM547.6 199.0h3.10v1.18h-3.10zM550.7 199.0h0.69v1.18h-0.69zM551.3 199.0h3.10v1.18h-3.10zM550.7 200.1h0.69v3.80h-0.69zM547.6 203.9h3.10v1.18h-3.10zM550.7 203.9h0.69v1.18h-0.69zM551.3 204.0h3.10v1.18h-3.10zM320.1 247.7h0.69v3.80h-0.69zM317.0 251.5h3.10v1.18h-3.10zM286.0 287.3h0.69v3.80h-0.69zM282.9 291.1h3.10v1.18h-3.10zM351.1 291.6h3.10v1.18h-3.10zM320.1 327.4h0.69v3.80h-0.69zM417.2 73.1h3.10v1.18h-3.10zM466.5 88.3h3.10v1.18h-3.10zM416.1 173.1h3.10v1.18h-3.10zM465.4 188.3h3.10v1.18h-3.10zM414.5 277.0h3.10v1.18h-3.10zM560.5 84.1h3.10v1.18h-3.10zM574.8 80.3h0.64v3.80h-0.64zM571.7 84.1h3.10v1.18h-3.10zM511.2 84.9h0.64v3.80h-0.64zM508.1 88.7h3.10v1.18h-3.10zM529.8 283.3h0.62v3.80h-0.62zM526.7 287.1h3.10v1.18h-3.10zM555.8 288.5h0.62v3.80h-0.62zM552.7 292.3h3.10v1.18h-3.10z"/></g>
<path fill="#8a988a" filter="url(#soft)" d="M299.4 38.4h3.10v3.80h-3.10zM284.3 58.2h3.10v3.80h-3.10zM288.1 63.2h3.10v3.80h-3.10zM291.8 68.2h3.10v3.80h-3.10zM295.6 68.3h3.10v3.80h-3.10zM288.1 73.2h3.10v3.80h-3.10zM299.4 73.3h3.10v3.80h-3.10zM288.1 78.2h3.10v3.80h-3.10zM291.8 78.2h3.10v3.80h-3.10zM295.6 78.2h3.10v3.80h-3.10zM299.4 78.2h3.10v3.80h-3.10zM288.1 83.1h3.10v3.80h-3.10zM291.8 83.2h3.10v3.80h-3.10zM295.6 83.2h3.10v3.80h-3.10zM299.4 83.2h3.10v3.80h-3.10zM288.1 88.1h3.10v3.80h-3.10zM291.8 88.1h3.10v3.80h-3.10zM295.6 88.2h3.10v3.80h-3.10zM299.4 88.2h3.10v3.80h-3.10zM341.1 88.5h3.10v3.80h-3.10zM344.9 88.5h3.10v3.80h-3.10zM288.1 93.1h3.10v3.80h-3.10zM291.8 93.1h3.10v3.80h-3.10zM295.6 93.2h3.10v3.80h-3.10zM291.8 98.1h3.10v3.80h-3.10zM295.6 98.1h3.10v3.80h-3.10zM352.5 98.5h3.10v3.80h-3.10z"/>
<g filter="url(#soft)"><path fill="#2c3769" d="M116.0 22.3h3.10v3.80h-3.10zM119.8 22.3h3.10v3.80h-3.10zM123.6 22.3h3.10v3.80h-3.10zM127.4 22.4h3.10v3.80h-3.10zM131.2 22.4h3.10v3.80h-3.10zM134.9 22.4h3.10v3.80h-3.10zM138.7 22.4h3.10v3.80h-3.10zM142.5 22.5h3.10v3.80h-3.10zM146.3 22.5h3.10v3.80h-3.10zM150.1 22.5h3.10v3.80h-3.10zM153.9 22.5h3.10v3.80h-3.10zM157.7 22.6h3.10v3.80h-3.10zM161.5 22.6h3.10v3.80h-3.10zM165.3 22.6h3.10v3.80h-3.10zM169.1 22.6h3.10v3.80h-3.10zM172.8 22.7h3.10v3.80h-3.10zM176.6 22.7h3.10v3.80h-3.10zM180.4 22.7h3.10v3.80h-3.10zM184.2 22.7h3.10v3.80h-3.10zM188.0 22.8h3.10v3.80h-3.10zM191.8 22.8h3.10v3.80h-3.10zM195.6 22.8h3.10v3.80h-3.10zM199.4 22.8h3.10v3.80h-3.10zM203.2 22.9h3.10v3.80h-3.10zM207.0 22.9h3.10v3.80h-3.10zM210.8 22.9h3.10v3.80h-3.10zM214.5 22.9h3.10v3.80h-3.10zM218.3 22.9h3.10v3.80h-3.10zM222.1 23.0h3.10v3.80h-3.10zM225.9 23.0h3.10v3.80h-3.10zM116.0 27.3h3.10v3.80h-3.10zM229.7 28.0h3.10v3.80h-3.10zM116.0 32.3h3.10v3.80h-3.10zM233.5 33.0h3.10v3.80h-3.10zM116.0 37.2h3.10v3.80h-3.10zM146.3 37.4h3.10v3.80h-3.10zM150.1 37.5h3.10v3.80h-3.10zM153.9 37.5h3.10v3.80h-3.10zM172.8 37.6h3.10v3.80h-3.10zM176.6 37.6h3.10v3.80h-3.10zM180.4 37.6h3.10v3.80h-3.10zM199.4 37.8h3.10v3.80h-3.10zM203.2 37.8h3.10v3.80h-3.10zM218.3 37.9h3.10v3.80h-3.10zM222.1 37.9h3.10v3.80h-3.10zM225.9 37.9h3.10v3.80h-3.10zM237.3 38.0h3.10v3.80h-3.10zM116.0 42.2h3.10v3.80h-3.10zM142.5 42.4h3.10v3.80h-3.10zM157.7 42.5h3.10v3.80h-3.10zM169.1 42.6h3.10v3.80h-3.10zM184.2 42.7h3.10v3.80h-3.10zM195.6 42.7h3.10v3.80h-3.10zM207.0 42.8h3.10v3.80h-3.10zM214.5 42.8h3.10v3.80h-3.10zM229.7 42.9h3.10v3.80h-3.10zM241.1 43.0h3.10v3.80h-3.10zM116.0 47.2h3.10v3.80h-3.10zM157.7 47.5h3.10v3.80h-3.10zM169.1 47.5h3.10v3.80h-3.10zM184.2 47.6h3.10v3.80h-3.10zM195.6 47.7h3.10v3.80h-3.10zM207.0 47.8h3.10v3.80h-3.10zM214.5 47.8h3.10v3.80h-3.10zM244.9 48.0h3.10v3.80h-3.10zM116.0 52.2h3.10v3.80h-3.10zM157.7 52.4h3.10v3.80h-3.10zM169.1 52.5h3.10v3.80h-3.10zM184.2 52.6h3.10v3.80h-3.10zM199.4 52.7h3.10v3.80h-3.10zM203.2 52.7h3.10v3.80h-3.10zM214.5 52.8h3.10v3.80h-3.10zM248.7 53.0h3.10v3.80h-3.10zM116.0 57.2h3.10v3.80h-3.10zM150.1 57.4h3.10v3.80h-3.10zM153.9 57.4h3.10v3.80h-3.10zM169.1 57.5h3.10v3.80h-3.10zM184.2 57.6h3.10v3.80h-3.10zM214.5 57.8h3.10v3.80h-3.10zM252.4 58.0h3.10v3.80h-3.10zM116.0 62.1h3.10v3.80h-3.10zM157.7 62.4h3.10v3.80h-3.10zM169.1 62.5h3.10v3.80h-3.10zM184.2 62.6h3.10v3.80h-3.10zM214.5 62.8h3.10v3.80h-3.10zM256.2 63.0h3.10v3.80h-3.10zM116.0 67.1h3.10v3.80h-3.10zM157.7 67.4h3.10v3.80h-3.10zM169.1 67.5h3.10v3.80h-3.10zM184.2 67.6h3.10v3.80h-3.10zM214.5 67.7h3.10v3.80h-3.10zM260.0 68.0h3.10v3.80h-3.10zM116.0 72.1h3.10v3.80h-3.10zM142.5 72.3h3.10v3.80h-3.10zM157.7 72.4h3.10v3.80h-3.10zM169.1 72.4h3.10v3.80h-3.10zM184.2 72.5h3.10v3.80h-3.10zM214.5 72.7h3.10v3.80h-3.10zM229.7 72.8h3.10v3.80h-3.10zM263.8 73.0h3.10v3.80h-3.10zM116.0 77.1h3.10v3.80h-3.10zM146.3 77.3h3.10v3.80h-3.10zM150.1 77.3h3.10v3.80h-3.10zM153.9 77.3h3.10v3.80h-3.10zM172.8 77.4h3.10v3.80h-3.10zM176.6 77.5h3.10v3.80h-3.10zM180.4 77.5h3.10v3.80h-3.10zM218.3 77.7h3.10v3.80h-3.10zM222.1 77.8h3.10v3.80h-3.10zM225.9 77.8h3.10v3.80h-3.10zM263.8 78.0h3.10v3.80h-3.10zM116.0 82.1h3.10v3.80h-3.10zM263.8 83.0h3.10v3.80h-3.10zM116.0 87.0h3.10v3.80h-3.10zM263.8 88.0h3.10v3.80h-3.10zM119.8 92.0h3.10v3.80h-3.10zM123.6 92.1h3.10v3.80h-3.10zM127.4 92.1h3.10v3.80h-3.10zM131.2 92.1h3.10v3.80h-3.10zM134.9 92.1h3.10v3.80h-3.10zM138.7 92.2h3.10v3.80h-3.10zM142.5 92.2h3.10v3.80h-3.10zM146.3 92.2h3.10v3.80h-3.10zM150.1 92.2h3.10v3.80h-3.10zM153.9 92.3h3.10v3.80h-3.10zM157.7 92.3h3.10v3.80h-3.10zM161.5 92.3h3.10v3.80h-3.10zM165.3 92.3h3.10v3.80h-3.10zM169.1 92.4h3.10v3.80h-3.10zM172.8 92.4h3.10v3.80h-3.10zM176.6 92.4h3.10v3.80h-3.10zM180.4 92.4h3.10v3.80h-3.10zM184.2 92.5h3.10v3.80h-3.10zM188.0 92.5h3.10v3.80h-3.10zM191.8 92.5h3.10v3.80h-3.10zM195.6 92.5h3.10v3.80h-3.10zM199.4 92.5h3.10v3.80h-3.10zM203.2 92.6h3.10v3.80h-3.10zM207.0 92.6h3.10v3.80h-3.10zM210.8 92.6h3.10v3.80h-3.10zM214.5 92.6h3.10v3.80h-3.10zM218.3 92.7h3.10v3.80h-3.10zM222.1 92.7h3.10v3.80h-3.10zM225.9 92.7h3.10v3.80h-3.10zM229.7 92.7h3.10v3.80h-3.10zM233.5 92.8h3.10v3.80h-3.10zM237.3 92.8h3.10v3.80h-3.10zM241.1 92.8h3.10v3.80h-3.10zM244.9 92.8h3.10v3.80h-3.10zM248.7 92.9h3.10v3.80h-3.10zM252.4 92.9h3.10v3.80h-3.10zM256.2 92.9h3.10v3.80h-3.10zM260.0 92.9h3.10v3.80h-3.10zM116.0 97.0h3.10v3.80h-3.10zM263.8 97.9h3.10v3.80h-3.10zM116.0 102.0h3.10v3.80h-3.10zM123.6 102.0h3.10v3.80h-3.10zM127.4 102.1h3.10v3.80h-3.10zM131.2 102.1h3.10v3.80h-3.10zM134.9 102.1h3.10v3.80h-3.10zM138.7 102.1h3.10v3.80h-3.10zM142.5 102.1h3.10v3.80h-3.10zM146.3 102.2h3.10v3.80h-3.10zM150.1 102.2h3.10v3.80h-3.10zM153.9 102.2h3.10v3.80h-3.10zM157.7 102.2h3.10v3.80h-3.10zM161.5 102.3h3.10v3.80h-3.10zM165.3 102.3h3.10v3.80h-3.10zM169.1 102.3h3.10v3.80h-3.10zM172.8 102.3h3.10v3.80h-3.10zM176.6 102.4h3.10v3.80h-3.10zM180.4 102.4h3.10v3.80h-3.10zM184.2 102.4h3.10v3.80h-3.10zM188.0 102.4h3.10v3.80h-3.10zM191.8 102.5h3.10v3.80h-3.10zM195.6 102.5h3.10v3.80h-3.10zM199.4 102.5h3.10v3.80h-3.10zM203.2 102.5h3.10v3.80h-3.10zM207.0 102.6h3.10v3.80h-3.10zM210.8 102.6h3.10v3.80h-3.10zM214.5 102.6h3.10v3.80h-3.10zM218.3 102.6h3.10v3.80h-3.10zM222.1 102.7h3.10v3.80h-3.10zM225.9 102.7h3.10v3.80h-3.10zM229.7 102.7h3.10v3.80h-3.10zM233.5 102.7h3.10v3.80h-3.10zM237.3 102.7h3.10v3.80h-3.10zM241.1 102.8h3.10v3.80h-3.10zM244.9 102.8h3.10v3.80h-3.10zM248.7 102.8h3.10v3.80h-3.10zM252.4 102.8h3.10v3.80h-3.10zM256.2 102.9h3.10v3.80h-3.10zM263.8 102.9h3.10v3.80h-3.10zM116.0 107.0h3.10v3.80h-3.10zM123.6 107.0h3.10v3.80h-3.10zM256.2 107.8h3.10v3.80h-3.10zM263.8 107.9h3.10v3.80h-3.10zM116.0 111.9h3.10v3.80h-3.10zM123.6 112.0h3.10v3.80h-3.10zM256.2 112.8h3.10v3.80h-3.10zM263.8 112.9h3.10v3.80h-3.10zM116.0 116.9h3.10v3.80h-3.10zM123.6 117.0h3.10v3.80h-3.10zM256.2 117.8h3.10v3.80h-3.10zM263.8 117.9h3.10v3.80h-3.10zM116.0 121.9h3.10v3.80h-3.10zM123.6 121.9h3.10v3.80h-3.10zM256.2 122.8h3.10v3.80h-3.10zM263.8 122.8h3.10v3.80h-3.10zM116.0 126.9h3.10v3.80h-3.10zM123.6 126.9h3.10v3.80h-3.10zM256.2 127.8h3.10v3.80h-3.10zM263.8 127.8h3.10v3.80h-3.10zM116.0 131.9h3.10v3.80h-3.10zM123.6 131.9h3.10v3.80h-3.10zM256.2 132.7h3.10v3.80h-3.10zM263.8 132.8h3.10v3.80h-3.10zM116.0 136.8h3.10v3.80h-3.10zM123.6 136.9h3.10v3.80h-3.10zM256.2 137.7h3.10v3.80h-3.10zM263.8 137.8h3.10v3.80h-3.10zM116.0 141.8h3.10v3.80h-3.10zM123.6 141.9h3.10v3.80h-3.10zM256.2 142.7h3.10v3.80h-3.10zM263.8 142.8h3.10v3.80h-3.10zM116.0 146.8h3.10v3.80h-3.10zM123.6 146.8h3.10v3.80h-3.10zM256.2 147.7h3.10v3.80h-3.10zM263.8 147.7h3.10v3.80h-3.10zM116.0 151.8h3.10v3.80h-3.10zM123.6 151.8h3.10v3.80h-3.10zM256.2 152.7h3.10v3.80h-3.10zM263.8 152.7h3.10v3.80h-3.10zM116.0 156.8h3.10v3.80h-3.10zM123.6 156.8h3.10v3.80h-3.10zM256.2 157.6h3.10v3.80h-3.10zM263.8 157.7h3.10v3.80h-3.10zM116.0 161.7h3.10v3.80h-3.10zM123.6 161.8h3.10v3.80h-3.10zM256.2 162.6h3.10v3.80h-3.10zM263.8 162.7h3.10v3.80h-3.10zM116.0 166.7h3.10v3.80h-3.10zM123.6 166.8h3.10v3.80h-3.10zM256.2 167.6h3.10v3.80h-3.10zM263.8 167.7h3.10v3.80h-3.10zM116.0 171.7h3.10v3.80h-3.10zM123.6 171.7h3.10v3.80h-3.10zM256.2 172.6h3.10v3.80h-3.10zM263.8 172.6h3.10v3.80h-3.10zM116.0 176.7h3.10v3.80h-3.10zM263.8 177.6h3.10v3.80h-3.10zM116.0 181.7h3.10v3.80h-3.10zM263.8 182.6h3.10v3.80h-3.10zM116.0 186.6h3.10v3.80h-3.10zM263.8 187.6h3.10v3.80h-3.10zM116.0 191.6h3.10v3.80h-3.10zM263.8 192.6h3.10v3.80h-3.10zM116.0 196.6h3.10v3.80h-3.10zM123.6 196.6h3.10v3.80h-3.10zM256.2 197.5h3.10v3.80h-3.10zM263.8 197.5h3.10v3.80h-3.10zM116.0 201.6h3.10v3.80h-3.10zM263.8 202.5h3.10v3.80h-3.10zM116.0 216.5h3.10v3.80h-3.10zM263.8 217.5h3.10v3.80h-3.10zM116.0 221.5h3.10v3.80h-3.10zM123.6 221.5h3.10v3.80h-3.10zM127.4 221.6h3.10v3.80h-3.10zM131.2 221.6h3.10v3.80h-3.10zM134.9 221.6h3.10v3.80h-3.10zM138.7 221.6h3.10v3.80h-3.10zM142.5 221.7h3.10v3.80h-3.10zM146.3 221.7h3.10v3.80h-3.10zM150.1 221.7h3.10v3.80h-3.10zM153.9 221.7h3.10v3.80h-3.10zM157.7 221.8h3.10v3.80h-3.10zM161.5 221.8h3.10v3.80h-3.10zM165.3 221.8h3.10v3.80h-3.10zM169.1 221.8h3.10v3.80h-3.10zM172.8 221.9h3.10v3.80h-3.10zM176.6 221.9h3.10v3.80h-3.10zM180.4 221.9h3.10v3.80h-3.10zM184.2 221.9h3.10v3.80h-3.10zM188.0 222.0h3.10v3.80h-3.10zM191.8 222.0h3.10v3.80h-3.10zM195.6 222.0h3.10v3.80h-3.10zM199.4 222.0h3.10v3.80h-3.10zM203.2 222.1h3.10v3.80h-3.10zM207.0 222.1h3.10v3.80h-3.10zM210.8 222.1h3.10v3.80h-3.10zM214.5 222.1h3.10v3.80h-3.10zM218.3 222.1h3.10v3.80h-3.10zM222.1 222.2h3.10v3.80h-3.10zM225.9 222.2h3.10v3.80h-3.10zM229.7 222.2h3.10v3.80h-3.10zM233.5 222.2h3.10v3.80h-3.10zM237.3 222.3h3.10v3.80h-3.10zM241.1 222.3h3.10v3.80h-3.10zM244.9 222.3h3.10v3.80h-3.10zM248.7 222.3h3.10v3.80h-3.10zM252.4 222.4h3.10v3.80h-3.10zM256.2 222.4h3.10v3.80h-3.10zM263.8 222.4h3.10v3.80h-3.10zM116.0 226.5h3.10v3.80h-3.10zM123.6 226.5h3.10v3.80h-3.10zM256.2 227.4h3.10v3.80h-3.10zM263.8 227.4h3.10v3.80h-3.10zM116.0 231.5h3.10v3.80h-3.10zM123.6 231.5h3.10v3.80h-3.10zM256.2 232.3h3.10v3.80h-3.10zM263.8 232.4h3.10v3.80h-3.10zM116.0 236.4h3.10v3.80h-3.10zM123.6 236.5h3.10v3.80h-3.10zM256.2 237.3h3.10v3.80h-3.10zM263.8 237.4h3.10v3.80h-3.10zM116.0 241.4h3.10v3.80h-3.10zM123.6 241.5h3.10v3.80h-3.10zM256.2 242.3h3.10v3.80h-3.10zM263.8 242.4h3.10v3.80h-3.10zM116.0 246.4h3.10v3.80h-3.10zM123.6 246.4h3.10v3.80h-3.10zM256.2 247.3h3.10v3.80h-3.10zM263.8 247.3h3.10v3.80h-3.10zM116.0 251.4h3.10v3.80h-3.10zM123.6 251.4h3.10v3.80h-3.10zM256.2 252.3h3.10v3.80h-3.10zM263.8 252.3h3.10v3.80h-3.10zM116.0 256.4h3.10v3.80h-3.10zM123.6 256.4h3.10v3.80h-3.10zM256.2 257.2h3.10v3.80h-3.10zM263.8 257.3h3.10v3.80h-3.10zM116.0 261.3h3.10v3.80h-3.10zM123.6 261.4h3.10v3.80h-3.10zM256.2 262.2h3.10v3.80h-3.10zM263.8 262.3h3.10v3.80h-3.10zM116.0 266.3h3.10v3.80h-3.10zM123.6 266.4h3.10v3.80h-3.10zM256.2 267.2h3.10v3.80h-3.10zM263.8 267.3h3.10v3.80h-3.10zM116.0 271.3h3.10v3.80h-3.10zM263.8 272.2h3.10v3.80h-3.10zM116.0 276.3h3.10v3.80h-3.10zM263.8 277.2h3.10v3.80h-3.10zM116.0 281.3h3.10v3.80h-3.10zM263.8 282.2h3.10v3.80h-3.10zM116.0 286.2h3.10v3.80h-3.10zM263.8 287.2h3.10v3.80h-3.10zM116.0 291.2h3.10v3.80h-3.10zM263.8 292.2h3.10v3.80h-3.10zM116.0 296.2h3.10v3.80h-3.10zM263.8 297.1h3.10v3.80h-3.10zM116.0 301.2h3.10v3.80h-3.10zM263.8 302.1h3.10v3.80h-3.10zM116.0 306.2h3.10v3.80h-3.10zM263.8 307.1h3.10v3.80h-3.10zM116.0 311.1h3.10v3.80h-3.10zM263.8 312.1h3.10v3.80h-3.10zM116.0 316.1h3.10v3.80h-3.10zM123.6 316.2h3.10v3.80h-3.10zM256.2 317.0h3.10v3.80h-3.10zM263.8 317.1h3.10v3.80h-3.10zM116.0 321.1h3.10v3.80h-3.10zM263.8 322.0h3.10v3.80h-3.10zM116.0 326.1h3.10v3.80h-3.10zM131.2 326.2h3.10v3.80h-3.10zM134.9 326.2h3.10v3.80h-3.10zM138.7 326.2h3.10v3.80h-3.10zM142.5 326.2h3.10v3.80h-3.10zM146.3 326.3h3.10v3.80h-3.10zM150.1 326.3h3.10v3.80h-3.10zM153.9 326.3h3.10v3.80h-3.10zM157.7 326.3h3.10v3.80h-3.10zM161.5 326.4h3.10v3.80h-3.10zM165.3 326.4h3.10v3.80h-3.10zM169.1 326.4h3.10v3.80h-3.10zM172.8 326.4h3.10v3.80h-3.10zM176.6 326.5h3.10v3.80h-3.10zM180.4 326.5h3.10v3.80h-3.10zM184.2 326.5h3.10v3.80h-3.10zM188.0 326.5h3.10v3.80h-3.10zM191.8 326.6h3.10v3.80h-3.10zM195.6 326.6h3.10v3.80h-3.10zM199.4 326.6h3.10v3.80h-3.10zM203.2 326.6h3.10v3.80h-3.10zM207.0 326.7h3.10v3.80h-3.10zM210.8 326.7h3.10v3.80h-3.10zM214.5 326.7h3.10v3.80h-3.10zM218.3 326.7h3.10v3.80h-3.10zM222.1 326.8h3.10v3.80h-3.10zM225.9 326.8h3.10v3.80h-3.10zM229.7 326.8h3.10v3.80h-3.10zM233.5 326.8h3.10v3.80h-3.10zM237.3 326.8h3.10v3.80h-3.10zM241.1 326.9h3.10v3.80h-3.10zM244.9 326.9h3.10v3.80h-3.10zM248.7 326.9h3.10v3.80h-3.10zM263.8 327.0h3.10v3.80h-3.10zM119.8 336.1h3.10v3.80h-3.10zM127.4 336.1h3.10v3.80h-3.10zM252.4 336.9h3.10v3.80h-3.10zM260.0 337.0h3.10v3.80h-3.10zM303.2 33.4h3.10v3.80h-3.10zM329.7 33.6h3.10v3.80h-3.10zM325.9 38.6h3.10v3.80h-3.10zM299.4 43.4h3.10v3.80h-3.10zM299.4 48.4h3.10v3.80h-3.10zM303.2 53.4h3.10v3.80h-3.10zM325.9 53.5h3.10v3.80h-3.10zM341.1 53.6h3.10v3.80h-3.10zM344.9 53.6h3.10v3.80h-3.10zM329.7 58.5h3.10v3.80h-3.10zM337.3 58.6h3.10v3.80h-3.10zM348.7 58.6h3.10v3.80h-3.10zM284.3 63.2h3.10v3.80h-3.10zM303.2 63.3h3.10v3.80h-3.10zM307.0 63.3h3.10v3.80h-3.10zM329.7 63.5h3.10v3.80h-3.10zM352.5 63.6h3.10v3.80h-3.10zM288.1 68.2h3.10v3.80h-3.10zM299.4 68.3h3.10v3.80h-3.10zM314.6 68.4h3.10v3.80h-3.10zM318.4 68.4h3.10v3.80h-3.10zM322.2 68.4h3.10v3.80h-3.10zM284.3 73.2h3.10v3.80h-3.10zM291.8 73.2h3.10v3.80h-3.10zM295.6 73.2h3.10v3.80h-3.10zM303.2 73.3h3.10v3.80h-3.10zM310.8 73.3h3.10v3.80h-3.10zM325.9 73.4h3.10v3.80h-3.10zM284.3 78.1h3.10v3.80h-3.10zM303.2 78.3h3.10v3.80h-3.10zM310.8 78.3h3.10v3.80h-3.10zM318.4 78.4h3.10v3.80h-3.10zM284.3 83.1h3.10v3.80h-3.10zM303.2 83.2h3.10v3.80h-3.10zM310.8 83.3h3.10v3.80h-3.10zM325.9 83.4h3.10v3.80h-3.10zM284.3 88.1h3.10v3.80h-3.10zM303.2 88.2h3.10v3.80h-3.10zM314.6 88.3h3.10v3.80h-3.10zM318.4 88.3h3.10v3.80h-3.10zM322.2 88.3h3.10v3.80h-3.10zM337.3 88.4h3.10v3.80h-3.10zM284.3 93.1h3.10v3.80h-3.10zM299.4 93.2h3.10v3.80h-3.10zM307.0 93.2h3.10v3.80h-3.10zM329.7 93.4h3.10v3.80h-3.10zM333.5 93.4h3.10v3.80h-3.10zM348.7 93.5h3.10v3.80h-3.10zM352.5 93.5h3.10v3.80h-3.10zM288.1 98.1h3.10v3.80h-3.10zM299.4 98.2h3.10v3.80h-3.10zM307.0 98.2h3.10v3.80h-3.10zM314.6 98.3h3.10v3.80h-3.10zM318.4 98.3h3.10v3.80h-3.10zM322.2 98.3h3.10v3.80h-3.10zM325.9 98.3h3.10v3.80h-3.10zM291.8 103.1h3.10v3.80h-3.10zM295.6 103.1h3.10v3.80h-3.10zM310.8 103.2h3.10v3.80h-3.10zM329.7 103.3h3.10v3.80h-3.10zM333.5 103.4h3.10v3.80h-3.10zM314.6 108.2h3.10v3.80h-3.10zM337.3 108.4h3.10v3.80h-3.10zM314.6 113.2h3.10v3.80h-3.10zM337.3 113.3h3.10v3.80h-3.10zM310.8 118.1h3.10v3.80h-3.10zM333.5 118.3h3.10v3.80h-3.10zM307.0 123.1h3.10v3.80h-3.10zM314.6 123.2h3.10v3.80h-3.10zM318.4 123.2h3.10v3.80h-3.10zM322.2 123.2h3.10v3.80h-3.10zM325.9 123.2h3.10v3.80h-3.10zM329.7 123.2h3.10v3.80h-3.10zM279.8 138.2h3.10v3.80h-3.10zM283.6 138.2h3.10v3.80h-3.10zM287.3 138.2h3.10v3.80h-3.10zM291.1 138.3h3.10v3.80h-3.10zM294.9 138.3h3.10v3.80h-3.10zM298.7 138.3h3.10v3.80h-3.10zM302.4 138.3h3.10v3.80h-3.10zM306.2 138.4h3.10v3.80h-3.10zM310.0 138.4h3.10v3.80h-3.10zM313.7 138.4h3.10v3.80h-3.10zM317.5 138.4h3.10v3.80h-3.10zM321.3 138.5h3.10v3.80h-3.10zM325.0 138.5h3.10v3.80h-3.10zM328.8 138.5h3.10v3.80h-3.10zM332.6 138.5h3.10v3.80h-3.10zM336.4 138.5h3.10v3.80h-3.10zM340.1 138.6h3.10v3.80h-3.10zM343.9 138.6h3.10v3.80h-3.10zM347.7 138.6h3.10v3.80h-3.10zM351.4 138.6h3.10v3.80h-3.10zM355.2 138.7h3.10v3.80h-3.10zM359.0 138.7h3.10v3.80h-3.10zM362.7 138.7h3.10v3.80h-3.10zM366.5 138.7h3.10v3.80h-3.10zM370.3 138.8h3.10v3.80h-3.10zM374.1 138.8h3.10v3.80h-3.10zM377.8 138.8h3.10v3.80h-3.10zM381.6 138.8h3.10v3.80h-3.10zM385.4 138.8h3.10v3.80h-3.10zM389.1 138.9h3.10v3.80h-3.10zM392.9 138.9h3.10v3.80h-3.10zM396.7 138.9h3.10v3.80h-3.10zM400.4 138.9h3.10v3.80h-3.10zM404.2 139.0h3.10v3.80h-3.10zM408.0 139.0h3.10v3.80h-3.10zM411.8 139.0h3.10v3.80h-3.10zM415.5 139.0h3.10v3.80h-3.10zM419.3 139.1h3.10v3.80h-3.10zM423.1 139.1h3.10v3.80h-3.10zM426.8 139.1h3.10v3.80h-3.10zM430.6 139.1h3.10v3.80h-3.10zM434.4 139.2h3.10v3.80h-3.10zM438.1 139.2h3.10v3.80h-3.10zM441.9 139.2h3.10v3.80h-3.10zM445.7 139.2h3.10v3.80h-3.10zM449.5 139.2h3.10v3.80h-3.10zM453.2 139.3h3.10v3.80h-3.10zM457.0 139.3h3.10v3.80h-3.10zM460.8 139.3h3.10v3.80h-3.10zM464.5 139.3h3.10v3.80h-3.10zM468.3 139.4h3.10v3.80h-3.10zM472.1 139.4h3.10v3.80h-3.10zM475.8 139.4h3.10v3.80h-3.10zM479.6 139.4h3.10v3.80h-3.10zM483.4 139.5h3.10v3.80h-3.10zM487.1 139.5h3.10v3.80h-3.10zM490.9 139.5h3.10v3.80h-3.10zM494.7 139.5h3.10v3.80h-3.10zM498.5 139.5h3.10v3.80h-3.10zM502.2 139.6h3.10v3.80h-3.10zM506.0 139.6h3.10v3.80h-3.10zM509.8 139.6h3.10v3.80h-3.10zM513.5 139.6h3.10v3.80h-3.10zM517.3 139.7h3.10v3.80h-3.10zM521.1 139.7h3.10v3.80h-3.10zM524.9 139.7h3.10v3.80h-3.10zM528.6 139.7h3.10v3.80h-3.10zM532.4 139.8h3.10v3.80h-3.10zM536.2 139.8h3.10v3.80h-3.10zM539.9 139.8h3.10v3.80h-3.10zM543.7 139.8h3.10v3.80h-3.10zM547.5 139.8h3.10v3.80h-3.10zM551.2 139.9h3.10v3.80h-3.10zM555.0 139.9h3.10v3.80h-3.10zM558.8 139.9h3.10v3.80h-3.10zM562.5 139.9h3.10v3.80h-3.10zM566.3 140.0h3.10v3.80h-3.10zM570.1 140.0h3.10v3.80h-3.10zM573.9 140.0h3.10v3.80h-3.10zM577.6 140.0h3.10v3.80h-3.10zM581.4 140.1h3.10v3.80h-3.10zM585.2 140.1h3.10v3.80h-3.10zM588.9 140.1h3.10v3.80h-3.10zM278.9 233.2h3.10v3.80h-3.10zM282.7 233.2h3.10v3.80h-3.10zM286.4 233.2h3.10v3.80h-3.10zM290.2 233.3h3.10v3.80h-3.10zM294.0 233.3h3.10v3.80h-3.10zM297.8 233.3h3.10v3.80h-3.10zM301.5 233.3h3.10v3.80h-3.10zM305.3 233.4h3.10v3.80h-3.10zM309.1 233.4h3.10v3.80h-3.10zM312.8 233.4h3.10v3.80h-3.10zM316.6 233.4h3.10v3.80h-3.10zM320.4 233.5h3.10v3.80h-3.10zM324.1 233.5h3.10v3.80h-3.10zM327.9 233.5h3.10v3.80h-3.10zM331.7 233.5h3.10v3.80h-3.10zM335.4 233.5h3.10v3.80h-3.10zM339.2 233.6h3.10v3.80h-3.10zM343.0 233.6h3.10v3.80h-3.10zM346.8 233.6h3.10v3.80h-3.10zM350.5 233.6h3.10v3.80h-3.10zM354.3 233.7h3.10v3.80h-3.10zM358.1 233.7h3.10v3.80h-3.10zM361.8 233.7h3.10v3.80h-3.10zM365.6 233.7h3.10v3.80h-3.10zM369.4 233.8h3.10v3.80h-3.10zM373.1 233.8h3.10v3.80h-3.10zM376.9 233.8h3.10v3.80h-3.10zM380.7 233.8h3.10v3.80h-3.10zM384.5 233.8h3.10v3.80h-3.10zM388.2 233.9h3.10v3.80h-3.10zM392.0 233.9h3.10v3.80h-3.10zM395.8 233.9h3.10v3.80h-3.10zM399.5 233.9h3.10v3.80h-3.10zM403.3 234.0h3.10v3.80h-3.10zM407.1 234.0h3.10v3.80h-3.10zM410.8 234.0h3.10v3.80h-3.10zM414.6 234.0h3.10v3.80h-3.10zM418.4 234.1h3.10v3.80h-3.10zM422.2 234.1h3.10v3.80h-3.10zM425.9 234.1h3.10v3.80h-3.10zM429.7 234.1h3.10v3.80h-3.10zM433.5 234.2h3.10v3.80h-3.10zM437.2 234.2h3.10v3.80h-3.10zM441.0 234.2h3.10v3.80h-3.10zM444.8 234.2h3.10v3.80h-3.10zM448.5 234.2h3.10v3.80h-3.10zM452.3 234.3h3.10v3.80h-3.10zM456.1 234.3h3.10v3.80h-3.10zM459.9 234.3h3.10v3.80h-3.10zM463.6 234.3h3.10v3.80h-3.10zM467.4 234.4h3.10v3.80h-3.10zM471.2 234.4h3.10v3.80h-3.10zM474.9 234.4h3.10v3.80h-3.10zM478.7 234.4h3.10v3.80h-3.10zM482.5 234.5h3.10v3.80h-3.10zM486.2 234.5h3.10v3.80h-3.10zM490.0 234.5h3.10v3.80h-3.10zM493.8 234.5h3.10v3.80h-3.10zM497.6 234.5h3.10v3.80h-3.10zM501.3 234.6h3.10v3.80h-3.10zM505.1 234.6h3.10v3.80h-3.10zM508.9 234.6h3.10v3.80h-3.10zM512.6 234.6h3.10v3.80h-3.10zM516.4 234.7h3.10v3.80h-3.10zM520.2 234.7h3.10v3.80h-3.10zM524.0 234.7h3.10v3.80h-3.10zM527.7 234.7h3.10v3.80h-3.10zM531.5 234.8h3.10v3.80h-3.10zM535.3 234.8h3.10v3.80h-3.10zM539.0 234.8h3.10v3.80h-3.10zM542.8 234.8h3.10v3.80h-3.10zM546.6 234.8h3.10v3.80h-3.10zM550.3 234.9h3.10v3.80h-3.10zM554.1 234.9h3.10v3.80h-3.10zM557.9 234.9h3.10v3.80h-3.10zM561.6 234.9h3.10v3.80h-3.10zM565.4 235.0h3.10v3.80h-3.10zM569.2 235.0h3.10v3.80h-3.10zM573.0 235.0h3.10v3.80h-3.10zM576.7 235.0h3.10v3.80h-3.10zM580.5 235.1h3.10v3.80h-3.10zM584.3 235.1h3.10v3.80h-3.10zM588.0 235.1h3.10v3.80h-3.10zM309.6 153.6h3.10v3.80h-3.10zM313.4 153.7h3.10v3.80h-3.10zM317.2 153.7h3.10v3.80h-3.10zM321.0 153.7h3.10v3.80h-3.10zM324.8 153.7h3.10v3.80h-3.10zM328.6 153.8h3.10v3.80h-3.10zM332.4 153.8h3.10v3.80h-3.10zM336.2 153.8h3.10v3.80h-3.10zM340.0 153.8h3.10v3.80h-3.10zM305.8 158.6h3.10v3.80h-3.10zM309.6 158.6h3.10v3.80h-3.10zM340.0 158.8h3.10v3.80h-3.10zM302.1 163.6h3.10v3.80h-3.10zM305.8 163.6h3.10v3.80h-3.10zM340.0 163.8h3.10v3.80h-3.10zM298.3 168.5h3.10v3.80h-3.10zM302.1 168.5h3.10v3.80h-3.10zM340.0 168.8h3.10v3.80h-3.10zM294.5 173.5h3.10v3.80h-3.10zM298.3 173.5h3.10v3.80h-3.10zM340.0 173.8h3.10v3.80h-3.10zM290.7 178.4h3.10v3.80h-3.10zM294.5 178.4h3.10v3.80h-3.10zM340.0 178.7h3.10v3.80h-3.10zM286.9 183.4h3.10v3.80h-3.10zM305.8 183.5h3.10v3.80h-3.10zM332.4 183.7h3.10v3.80h-3.10zM340.0 183.7h3.10v3.80h-3.10zM286.9 188.4h3.10v3.80h-3.10zM305.8 188.5h3.10v3.80h-3.10zM332.4 188.6h3.10v3.80h-3.10zM340.0 188.7h3.10v3.80h-3.10zM290.7 193.4h3.10v3.80h-3.10zM294.5 193.4h3.10v3.80h-3.10zM340.0 193.7h3.10v3.80h-3.10zM294.5 198.4h3.10v3.80h-3.10zM298.3 198.4h3.10v3.80h-3.10zM340.0 198.7h3.10v3.80h-3.10zM298.3 203.4h3.10v3.80h-3.10zM302.1 203.4h3.10v3.80h-3.10zM340.0 203.6h3.10v3.80h-3.10zM302.1 208.4h3.10v3.80h-3.10zM305.8 208.4h3.10v3.80h-3.10zM340.0 208.6h3.10v3.80h-3.10zM305.8 213.4h3.10v3.80h-3.10zM309.6 213.4h3.10v3.80h-3.10zM340.0 213.6h3.10v3.80h-3.10zM309.6 218.4h3.10v3.80h-3.10zM313.4 218.4h3.10v3.80h-3.10zM317.2 218.4h3.10v3.80h-3.10zM321.0 218.5h3.10v3.80h-3.10zM324.8 218.5h3.10v3.80h-3.10zM328.6 218.5h3.10v3.80h-3.10zM332.4 218.5h3.10v3.80h-3.10zM336.2 218.6h3.10v3.80h-3.10zM340.0 218.6h3.10v3.80h-3.10zM528.6 155.2h3.10v3.80h-3.10zM532.4 155.2h3.10v3.80h-3.10zM536.2 155.2h3.10v3.80h-3.10zM540.0 155.3h3.10v3.80h-3.10zM543.8 155.3h3.10v3.80h-3.10zM547.6 155.3h3.10v3.80h-3.10zM551.3 155.3h3.10v3.80h-3.10zM555.1 155.4h3.10v3.80h-3.10zM558.9 155.4h3.10v3.80h-3.10zM528.6 160.2h3.10v3.80h-3.10zM558.9 160.4h3.10v3.80h-3.10zM562.7 160.4h3.10v3.80h-3.10zM528.6 165.2h3.10v3.80h-3.10zM562.7 165.4h3.10v3.80h-3.10zM566.5 165.4h3.10v3.80h-3.10zM528.6 170.1h3.10v3.80h-3.10zM547.6 170.3h3.10v3.80h-3.10zM551.3 170.3h3.10v3.80h-3.10zM566.5 170.4h3.10v3.80h-3.10zM570.3 170.4h3.10v3.80h-3.10zM528.6 175.1h3.10v3.80h-3.10zM570.3 175.4h3.10v3.80h-3.10zM574.1 175.4h3.10v3.80h-3.10zM528.6 180.1h3.10v3.80h-3.10zM574.1 180.4h3.10v3.80h-3.10zM577.9 180.4h3.10v3.80h-3.10zM528.6 185.1h3.10v3.80h-3.10zM536.2 185.1h3.10v3.80h-3.10zM562.7 185.3h3.10v3.80h-3.10zM581.7 185.4h3.10v3.80h-3.10zM528.6 190.1h3.10v3.80h-3.10zM536.2 190.1h3.10v3.80h-3.10zM562.7 190.3h3.10v3.80h-3.10zM581.7 190.4h3.10v3.80h-3.10zM528.6 195.0h3.10v3.80h-3.10zM574.1 195.3h3.10v3.80h-3.10zM577.9 195.4h3.10v3.80h-3.10zM528.6 200.0h3.10v3.80h-3.10zM570.3 200.3h3.10v3.80h-3.10zM574.1 200.3h3.10v3.80h-3.10zM528.6 205.0h3.10v3.80h-3.10zM547.6 205.1h3.10v3.80h-3.10zM551.3 205.1h3.10v3.80h-3.10zM566.5 205.2h3.10v3.80h-3.10zM570.3 205.3h3.10v3.80h-3.10zM528.6 210.0h3.10v3.80h-3.10zM562.7 210.2h3.10v3.80h-3.10zM566.5 210.2h3.10v3.80h-3.10zM528.6 215.0h3.10v3.80h-3.10zM558.9 215.2h3.10v3.80h-3.10zM562.7 215.2h3.10v3.80h-3.10zM528.6 219.9h3.10v3.80h-3.10zM532.4 220.0h3.10v3.80h-3.10zM536.2 220.0h3.10v3.80h-3.10zM540.0 220.0h3.10v3.80h-3.10zM543.8 220.0h3.10v3.80h-3.10zM547.6 220.1h3.10v3.80h-3.10zM551.3 220.1h3.10v3.80h-3.10zM555.1 220.1h3.10v3.80h-3.10zM558.9 220.1h3.10v3.80h-3.10zM305.6 247.6h3.10v3.80h-3.10zM309.4 247.7h3.10v3.80h-3.10zM313.2 247.7h3.10v3.80h-3.10zM320.8 247.7h3.10v3.80h-3.10zM324.6 247.8h3.10v3.80h-3.10zM328.4 247.8h3.10v3.80h-3.10zM298.1 252.6h3.10v3.80h-3.10zM301.8 252.6h3.10v3.80h-3.10zM305.6 252.6h3.10v3.80h-3.10zM317.0 252.7h3.10v3.80h-3.10zM328.4 252.8h3.10v3.80h-3.10zM332.2 252.8h3.10v3.80h-3.10zM336.0 252.8h3.10v3.80h-3.10zM294.3 257.5h3.10v3.80h-3.10zM298.1 257.6h3.10v3.80h-3.10zM317.0 257.7h3.10v3.80h-3.10zM336.0 257.8h3.10v3.80h-3.10zM339.8 257.8h3.10v3.80h-3.10zM290.5 262.5h3.10v3.80h-3.10zM294.3 262.5h3.10v3.80h-3.10zM339.8 262.8h3.10v3.80h-3.10zM343.5 262.8h3.10v3.80h-3.10zM286.7 267.4h3.10v3.80h-3.10zM290.5 267.5h3.10v3.80h-3.10zM317.0 267.6h3.10v3.80h-3.10zM343.5 267.8h3.10v3.80h-3.10zM347.3 267.8h3.10v3.80h-3.10zM286.7 272.4h3.10v3.80h-3.10zM317.0 272.6h3.10v3.80h-3.10zM347.3 272.8h3.10v3.80h-3.10zM282.9 277.4h3.10v3.80h-3.10zM317.0 277.6h3.10v3.80h-3.10zM351.1 277.8h3.10v3.80h-3.10zM282.9 282.4h3.10v3.80h-3.10zM317.0 282.6h3.10v3.80h-3.10zM351.1 282.8h3.10v3.80h-3.10zM286.7 287.4h3.10v3.80h-3.10zM290.5 287.4h3.10v3.80h-3.10zM317.0 287.6h3.10v3.80h-3.10zM343.5 287.7h3.10v3.80h-3.10zM347.3 287.7h3.10v3.80h-3.10zM282.9 292.3h3.10v3.80h-3.10zM320.8 292.6h3.10v3.80h-3.10zM351.1 292.8h3.10v3.80h-3.10zM282.9 297.3h3.10v3.80h-3.10zM324.6 297.6h3.10v3.80h-3.10zM351.1 297.7h3.10v3.80h-3.10zM286.7 302.3h3.10v3.80h-3.10zM328.4 302.6h3.10v3.80h-3.10zM347.3 302.7h3.10v3.80h-3.10zM286.7 307.3h3.10v3.80h-3.10zM290.5 307.3h3.10v3.80h-3.10zM343.5 307.6h3.10v3.80h-3.10zM347.3 307.7h3.10v3.80h-3.10zM290.5 312.3h3.10v3.80h-3.10zM294.3 312.3h3.10v3.80h-3.10zM339.8 312.6h3.10v3.80h-3.10zM343.5 312.6h3.10v3.80h-3.10zM294.3 317.3h3.10v3.80h-3.10zM298.1 317.3h3.10v3.80h-3.10zM317.0 317.4h3.10v3.80h-3.10zM336.0 317.6h3.10v3.80h-3.10zM339.8 317.6h3.10v3.80h-3.10zM298.1 322.3h3.10v3.80h-3.10zM301.8 322.3h3.10v3.80h-3.10zM305.6 322.3h3.10v3.80h-3.10zM317.0 322.4h3.10v3.80h-3.10zM328.4 322.5h3.10v3.80h-3.10zM332.2 322.5h3.10v3.80h-3.10zM336.0 322.5h3.10v3.80h-3.10zM305.6 327.3h3.10v3.80h-3.10zM309.4 327.3h3.10v3.80h-3.10zM313.2 327.4h3.10v3.80h-3.10zM320.8 327.4h3.10v3.80h-3.10zM324.6 327.4h3.10v3.80h-3.10zM328.4 327.5h3.10v3.80h-3.10zM417.2 64.3h3.10v3.80h-3.10zM432.4 64.4h3.10v3.80h-3.10zM436.1 64.4h3.10v3.80h-3.10zM439.9 64.4h3.10v3.80h-3.10zM455.1 64.5h3.10v3.80h-3.10zM458.9 64.5h3.10v3.80h-3.10zM462.7 64.6h3.10v3.80h-3.10zM413.4 69.2h3.10v3.80h-3.10zM428.6 69.3h3.10v3.80h-3.10zM443.7 69.4h3.10v3.80h-3.10zM451.3 69.5h3.10v3.80h-3.10zM466.5 69.6h3.10v3.80h-3.10zM417.2 74.2h3.10v3.80h-3.10zM428.6 74.3h3.10v3.80h-3.10zM443.7 74.4h3.10v3.80h-3.10zM451.3 74.4h3.10v3.80h-3.10zM466.5 74.5h3.10v3.80h-3.10zM417.2 79.2h3.10v3.80h-3.10zM428.6 79.3h3.10v3.80h-3.10zM443.7 79.4h3.10v3.80h-3.10zM451.3 79.4h3.10v3.80h-3.10zM466.5 79.5h3.10v3.80h-3.10zM417.2 84.2h3.10v3.80h-3.10zM428.6 84.3h3.10v3.80h-3.10zM443.7 84.4h3.10v3.80h-3.10zM455.1 84.4h3.10v3.80h-3.10zM458.9 84.5h3.10v3.80h-3.10zM462.7 84.5h3.10v3.80h-3.10zM417.2 89.2h3.10v3.80h-3.10zM428.6 89.2h3.10v3.80h-3.10zM443.7 89.3h3.10v3.80h-3.10zM466.5 89.5h3.10v3.80h-3.10zM417.2 94.2h3.10v3.80h-3.10zM428.6 94.2h3.10v3.80h-3.10zM443.7 94.3h3.10v3.80h-3.10zM462.7 94.4h3.10v3.80h-3.10zM417.2 99.1h3.10v3.80h-3.10zM428.6 99.2h3.10v3.80h-3.10zM443.7 99.3h3.10v3.80h-3.10zM462.7 99.4h3.10v3.80h-3.10zM417.2 104.1h3.10v3.80h-3.10zM432.4 104.2h3.10v3.80h-3.10zM436.1 104.2h3.10v3.80h-3.10zM439.9 104.3h3.10v3.80h-3.10zM455.1 104.4h3.10v3.80h-3.10zM458.9 104.4h3.10v3.80h-3.10zM416.1 164.3h3.10v3.80h-3.10zM431.3 164.4h3.10v3.80h-3.10zM435.1 164.4h3.10v3.80h-3.10zM438.8 164.4h3.10v3.80h-3.10zM454.0 164.5h3.10v3.80h-3.10zM457.8 164.5h3.10v3.80h-3.10zM461.6 164.6h3.10v3.80h-3.10zM412.3 169.2h3.10v3.80h-3.10zM427.5 169.3h3.10v3.80h-3.10zM442.6 169.4h3.10v3.80h-3.10zM450.2 169.5h3.10v3.80h-3.10zM465.4 169.6h3.10v3.80h-3.10zM416.1 174.2h3.10v3.80h-3.10zM427.5 174.3h3.10v3.80h-3.10zM442.6 174.4h3.10v3.80h-3.10zM450.2 174.4h3.10v3.80h-3.10zM465.4 174.5h3.10v3.80h-3.10zM416.1 179.2h3.10v3.80h-3.10zM427.5 179.3h3.10v3.80h-3.10zM442.6 179.4h3.10v3.80h-3.10zM450.2 179.4h3.10v3.80h-3.10zM465.4 179.5h3.10v3.80h-3.10zM416.1 184.2h3.10v3.80h-3.10zM427.5 184.3h3.10v3.80h-3.10zM442.6 184.4h3.10v3.80h-3.10zM454.0 184.4h3.10v3.80h-3.10zM457.8 184.5h3.10v3.80h-3.10zM461.6 184.5h3.10v3.80h-3.10zM416.1 189.2h3.10v3.80h-3.10zM427.5 189.2h3.10v3.80h-3.10zM442.6 189.3h3.10v3.80h-3.10zM465.4 189.5h3.10v3.80h-3.10zM416.1 194.2h3.10v3.80h-3.10zM427.5 194.2h3.10v3.80h-3.10zM442.6 194.3h3.10v3.80h-3.10zM461.6 194.4h3.10v3.80h-3.10zM416.1 199.1h3.10v3.80h-3.10zM427.5 199.2h3.10v3.80h-3.10zM442.6 199.3h3.10v3.80h-3.10zM461.6 199.4h3.10v3.80h-3.10zM416.1 204.1h3.10v3.80h-3.10zM431.3 204.2h3.10v3.80h-3.10zM435.1 204.2h3.10v3.80h-3.10zM438.8 204.3h3.10v3.80h-3.10zM454.0 204.4h3.10v3.80h-3.10zM457.8 204.4h3.10v3.80h-3.10zM414.5 268.2h3.10v3.80h-3.10zM429.7 268.3h3.10v3.80h-3.10zM433.4 268.3h3.10v3.80h-3.10zM437.2 268.3h3.10v3.80h-3.10zM452.4 268.4h3.10v3.80h-3.10zM456.2 268.4h3.10v3.80h-3.10zM460.0 268.5h3.10v3.80h-3.10zM410.7 273.1h3.10v3.80h-3.10zM425.9 273.2h3.10v3.80h-3.10zM441.0 273.3h3.10v3.80h-3.10zM448.6 273.4h3.10v3.80h-3.10zM463.8 273.5h3.10v3.80h-3.10zM414.5 278.1h3.10v3.80h-3.10zM425.9 278.2h3.10v3.80h-3.10zM441.0 278.3h3.10v3.80h-3.10zM463.8 278.4h3.10v3.80h-3.10zM414.5 283.1h3.10v3.80h-3.10zM425.9 283.2h3.10v3.80h-3.10zM441.0 283.3h3.10v3.80h-3.10zM463.8 283.4h3.10v3.80h-3.10zM414.5 288.1h3.10v3.80h-3.10zM425.9 288.2h3.10v3.80h-3.10zM441.0 288.3h3.10v3.80h-3.10zM460.0 288.4h3.10v3.80h-3.10zM414.5 293.1h3.10v3.80h-3.10zM425.9 293.1h3.10v3.80h-3.10zM441.0 293.2h3.10v3.80h-3.10zM456.2 293.3h3.10v3.80h-3.10zM414.5 298.1h3.10v3.80h-3.10zM425.9 298.1h3.10v3.80h-3.10zM441.0 298.2h3.10v3.80h-3.10zM452.4 298.3h3.10v3.80h-3.10zM414.5 303.0h3.10v3.80h-3.10zM425.9 303.1h3.10v3.80h-3.10zM441.0 303.2h3.10v3.80h-3.10zM448.6 303.2h3.10v3.80h-3.10zM414.5 308.0h3.10v3.80h-3.10zM429.7 308.1h3.10v3.80h-3.10zM433.4 308.1h3.10v3.80h-3.10zM437.2 308.2h3.10v3.80h-3.10zM448.6 308.2h3.10v3.80h-3.10zM452.4 308.3h3.10v3.80h-3.10zM456.2 308.3h3.10v3.80h-3.10zM460.0 308.3h3.10v3.80h-3.10zM463.8 308.3h3.10v3.80h-3.10zM549.2 65.3h3.10v3.80h-3.10zM553.0 65.3h3.10v3.80h-3.10zM556.7 65.3h3.10v3.80h-3.10zM560.5 65.3h3.10v3.80h-3.10zM571.7 65.4h3.10v3.80h-3.10zM560.5 70.3h3.10v3.80h-3.10zM571.7 70.4h3.10v3.80h-3.10zM560.5 75.3h3.10v3.80h-3.10zM571.7 75.4h3.10v3.80h-3.10zM508.1 79.9h3.10v3.80h-3.10zM515.6 80.0h3.10v3.80h-3.10zM519.3 80.0h3.10v3.80h-3.10zM526.8 80.1h3.10v3.80h-3.10zM530.5 80.1h3.10v3.80h-3.10zM534.3 80.1h3.10v3.80h-3.10zM553.0 80.2h3.10v3.80h-3.10zM556.7 80.3h3.10v3.80h-3.10zM575.4 80.4h3.10v3.80h-3.10zM579.2 80.4h3.10v3.80h-3.10zM582.9 80.4h3.10v3.80h-3.10zM586.6 80.4h3.10v3.80h-3.10zM511.8 84.9h3.10v3.80h-3.10zM523.1 85.0h3.10v3.80h-3.10zM538.0 85.1h3.10v3.80h-3.10zM560.5 85.3h3.10v3.80h-3.10zM571.7 85.3h3.10v3.80h-3.10zM586.6 85.4h3.10v3.80h-3.10zM508.1 89.9h3.10v3.80h-3.10zM523.1 90.0h3.10v3.80h-3.10zM538.0 90.1h3.10v3.80h-3.10zM560.5 90.2h3.10v3.80h-3.10zM571.7 90.3h3.10v3.80h-3.10zM586.6 90.4h3.10v3.80h-3.10zM508.1 94.9h3.10v3.80h-3.10zM523.1 95.0h3.10v3.80h-3.10zM538.0 95.1h3.10v3.80h-3.10zM549.2 95.1h3.10v3.80h-3.10zM553.0 95.2h3.10v3.80h-3.10zM556.7 95.2h3.10v3.80h-3.10zM560.5 95.2h3.10v3.80h-3.10zM571.7 95.3h3.10v3.80h-3.10zM586.6 95.4h3.10v3.80h-3.10zM508.1 99.9h3.10v3.80h-3.10zM523.1 100.0h3.10v3.80h-3.10zM538.0 100.1h3.10v3.80h-3.10zM571.7 100.3h3.10v3.80h-3.10zM586.6 100.4h3.10v3.80h-3.10zM508.1 104.8h3.10v3.80h-3.10zM523.1 104.9h3.10v3.80h-3.10zM538.0 105.0h3.10v3.80h-3.10zM571.7 105.2h3.10v3.80h-3.10zM586.6 105.3h3.10v3.80h-3.10zM526.7 268.4h3.10v3.80h-3.10zM526.7 273.4h3.10v3.80h-3.10zM526.7 278.4h3.10v3.80h-3.10zM530.4 283.4h3.10v3.80h-3.10zM534.1 283.4h3.10v3.80h-3.10zM537.9 283.4h3.10v3.80h-3.10zM541.6 283.4h3.10v3.80h-3.10zM552.7 283.5h3.10v3.80h-3.10zM560.2 283.6h3.10v3.80h-3.10zM563.9 283.6h3.10v3.80h-3.10zM575.1 283.7h3.10v3.80h-3.10zM578.8 283.7h3.10v3.80h-3.10zM582.5 283.7h3.10v3.80h-3.10zM526.7 288.3h3.10v3.80h-3.10zM541.6 288.4h3.10v3.80h-3.10zM556.5 288.5h3.10v3.80h-3.10zM571.3 288.6h3.10v3.80h-3.10zM526.7 293.3h3.10v3.80h-3.10zM541.6 293.4h3.10v3.80h-3.10zM552.7 293.5h3.10v3.80h-3.10zM575.1 293.6h3.10v3.80h-3.10zM578.8 293.6h3.10v3.80h-3.10zM526.7 298.3h3.10v3.80h-3.10zM541.6 298.4h3.10v3.80h-3.10zM552.7 298.4h3.10v3.80h-3.10zM582.5 298.6h3.10v3.80h-3.10zM526.7 303.3h3.10v3.80h-3.10zM541.6 303.4h3.10v3.80h-3.10zM552.7 303.4h3.10v3.80h-3.10zM582.5 303.6h3.10v3.80h-3.10zM526.7 308.2h3.10v3.80h-3.10zM541.6 308.3h3.10v3.80h-3.10zM552.7 308.4h3.10v3.80h-3.10zM571.3 308.5h3.10v3.80h-3.10zM575.1 308.6h3.10v3.80h-3.10zM578.8 308.6h3.10v3.80h-3.10z"/><path fill="#36407b" d="M116.0 92.0h3.10v3.80h-3.10zM263.8 93.0h3.10v3.80h-3.10zM123.6 176.7h3.10v3.80h-3.10zM127.4 176.8h3.10v3.80h-3.10zM131.2 176.8h3.10v3.80h-3.10zM134.9 176.8h3.10v3.80h-3.10zM138.7 176.8h3.10v3.80h-3.10zM142.5 176.8h3.10v3.80h-3.10zM146.3 176.9h3.10v3.80h-3.10zM150.1 176.9h3.10v3.80h-3.10zM153.9 176.9h3.10v3.80h-3.10zM157.7 176.9h3.10v3.80h-3.10zM161.5 177.0h3.10v3.80h-3.10zM165.3 177.0h3.10v3.80h-3.10zM169.1 177.0h3.10v3.80h-3.10zM172.8 177.0h3.10v3.80h-3.10zM176.6 177.1h3.10v3.80h-3.10zM180.4 177.1h3.10v3.80h-3.10zM184.2 177.1h3.10v3.80h-3.10zM188.0 177.1h3.10v3.80h-3.10zM191.8 177.2h3.10v3.80h-3.10zM195.6 177.2h3.10v3.80h-3.10zM199.4 177.2h3.10v3.80h-3.10zM203.2 177.2h3.10v3.80h-3.10zM207.0 177.3h3.10v3.80h-3.10zM210.8 177.3h3.10v3.80h-3.10zM214.5 177.3h3.10v3.80h-3.10zM218.3 177.3h3.10v3.80h-3.10zM222.1 177.4h3.10v3.80h-3.10zM225.9 177.4h3.10v3.80h-3.10zM229.7 177.4h3.10v3.80h-3.10zM233.5 177.4h3.10v3.80h-3.10zM237.3 177.4h3.10v3.80h-3.10zM241.1 177.5h3.10v3.80h-3.10zM244.9 177.5h3.10v3.80h-3.10zM248.7 177.5h3.10v3.80h-3.10zM252.4 177.5h3.10v3.80h-3.10zM256.2 177.6h3.10v3.80h-3.10zM123.6 181.7h3.10v3.80h-3.10zM127.4 181.7h3.10v3.80h-3.10zM131.2 181.8h3.10v3.80h-3.10zM134.9 181.8h3.10v3.80h-3.10zM138.7 181.8h3.10v3.80h-3.10zM142.5 181.8h3.10v3.80h-3.10zM146.3 181.9h3.10v3.80h-3.10zM150.1 181.9h3.10v3.80h-3.10zM153.9 181.9h3.10v3.80h-3.10zM157.7 181.9h3.10v3.80h-3.10zM161.5 181.9h3.10v3.80h-3.10zM165.3 182.0h3.10v3.80h-3.10zM169.1 182.0h3.10v3.80h-3.10zM172.8 182.0h3.10v3.80h-3.10zM176.6 182.0h3.10v3.80h-3.10zM180.4 182.1h3.10v3.80h-3.10zM184.2 182.1h3.10v3.80h-3.10zM188.0 182.1h3.10v3.80h-3.10zM191.8 182.1h3.10v3.80h-3.10zM195.6 182.2h3.10v3.80h-3.10zM199.4 182.2h3.10v3.80h-3.10zM203.2 182.2h3.10v3.80h-3.10zM207.0 182.2h3.10v3.80h-3.10zM210.8 182.3h3.10v3.80h-3.10zM214.5 182.3h3.10v3.80h-3.10zM218.3 182.3h3.10v3.80h-3.10zM222.1 182.3h3.10v3.80h-3.10zM225.9 182.4h3.10v3.80h-3.10zM229.7 182.4h3.10v3.80h-3.10zM233.5 182.4h3.10v3.80h-3.10zM237.3 182.4h3.10v3.80h-3.10zM241.1 182.5h3.10v3.80h-3.10zM244.9 182.5h3.10v3.80h-3.10zM248.7 182.5h3.10v3.80h-3.10zM252.4 182.5h3.10v3.80h-3.10zM256.2 182.5h3.10v3.80h-3.10zM123.6 186.7h3.10v3.80h-3.10zM127.4 186.7h3.10v3.80h-3.10zM131.2 186.7h3.10v3.80h-3.10zM134.9 186.8h3.10v3.80h-3.10zM138.7 186.8h3.10v3.80h-3.10zM142.5 186.8h3.10v3.80h-3.10zM146.3 186.8h3.10v3.80h-3.10zM150.1 186.9h3.10v3.80h-3.10zM153.9 186.9h3.10v3.80h-3.10zM157.7 186.9h3.10v3.80h-3.10zM161.5 186.9h3.10v3.80h-3.10zM165.3 187.0h3.10v3.80h-3.10zM169.1 187.0h3.10v3.80h-3.10zM172.8 187.0h3.10v3.80h-3.10zM176.6 187.0h3.10v3.80h-3.10zM180.4 187.0h3.10v3.80h-3.10zM184.2 187.1h3.10v3.80h-3.10zM188.0 187.1h3.10v3.80h-3.10zM191.8 187.1h3.10v3.80h-3.10zM195.6 187.1h3.10v3.80h-3.10zM199.4 187.2h3.10v3.80h-3.10zM203.2 187.2h3.10v3.80h-3.10zM207.0 187.2h3.10v3.80h-3.10zM210.8 187.2h3.10v3.80h-3.10zM214.5 187.3h3.10v3.80h-3.10zM218.3 187.3h3.10v3.80h-3.10zM222.1 187.3h3.10v3.80h-3.10zM225.9 187.3h3.10v3.80h-3.10zM229.7 187.4h3.10v3.80h-3.10zM233.5 187.4h3.10v3.80h-3.10zM237.3 187.4h3.10v3.80h-3.10zM241.1 187.4h3.10v3.80h-3.10zM244.9 187.5h3.10v3.80h-3.10zM248.7 187.5h3.10v3.80h-3.10zM252.4 187.5h3.10v3.80h-3.10zM256.2 187.5h3.10v3.80h-3.10zM123.6 191.7h3.10v3.80h-3.10zM127.4 191.7h3.10v3.80h-3.10zM131.2 191.7h3.10v3.80h-3.10zM134.9 191.7h3.10v3.80h-3.10zM138.7 191.8h3.10v3.80h-3.10zM142.5 191.8h3.10v3.80h-3.10zM146.3 191.8h3.10v3.80h-3.10zM150.1 191.8h3.10v3.80h-3.10zM153.9 191.9h3.10v3.80h-3.10zM157.7 191.9h3.10v3.80h-3.10zM161.5 191.9h3.10v3.80h-3.10zM165.3 191.9h3.10v3.80h-3.10zM169.1 192.0h3.10v3.80h-3.10zM172.8 192.0h3.10v3.80h-3.10zM176.6 192.0h3.10v3.80h-3.10zM180.4 192.0h3.10v3.80h-3.10zM184.2 192.1h3.10v3.80h-3.10zM188.0 192.1h3.10v3.80h-3.10zM191.8 192.1h3.10v3.80h-3.10zM195.6 192.1h3.10v3.80h-3.10zM199.4 192.1h3.10v3.80h-3.10zM203.2 192.2h3.10v3.80h-3.10zM207.0 192.2h3.10v3.80h-3.10zM210.8 192.2h3.10v3.80h-3.10zM214.5 192.2h3.10v3.80h-3.10zM218.3 192.3h3.10v3.80h-3.10zM222.1 192.3h3.10v3.80h-3.10zM225.9 192.3h3.10v3.80h-3.10zM229.7 192.3h3.10v3.80h-3.10zM233.5 192.4h3.10v3.80h-3.10zM237.3 192.4h3.10v3.80h-3.10zM241.1 192.4h3.10v3.80h-3.10zM244.9 192.4h3.10v3.80h-3.10zM248.7 192.5h3.10v3.80h-3.10zM252.4 192.5h3.10v3.80h-3.10zM256.2 192.5h3.10v3.80h-3.10zM127.4 196.7h3.10v3.80h-3.10zM131.2 196.7h3.10v3.80h-3.10zM134.9 196.7h3.10v3.80h-3.10zM138.7 196.7h3.10v3.80h-3.10zM142.5 196.8h3.10v3.80h-3.10zM146.3 196.8h3.10v3.80h-3.10zM150.1 196.8h3.10v3.80h-3.10zM153.9 196.8h3.10v3.80h-3.10zM157.7 196.9h3.10v3.80h-3.10zM161.5 196.9h3.10v3.80h-3.10zM165.3 196.9h3.10v3.80h-3.10zM169.1 196.9h3.10v3.80h-3.10zM172.8 197.0h3.10v3.80h-3.10zM176.6 197.0h3.10v3.80h-3.10zM180.4 197.0h3.10v3.80h-3.10zM184.2 197.0h3.10v3.80h-3.10zM188.0 197.1h3.10v3.80h-3.10zM191.8 197.1h3.10v3.80h-3.10zM195.6 197.1h3.10v3.80h-3.10zM199.4 197.1h3.10v3.80h-3.10zM203.2 197.2h3.10v3.80h-3.10zM207.0 197.2h3.10v3.80h-3.10zM210.8 197.2h3.10v3.80h-3.10zM214.5 197.2h3.10v3.80h-3.10zM218.3 197.2h3.10v3.80h-3.10zM222.1 197.3h3.10v3.80h-3.10zM225.9 197.3h3.10v3.80h-3.10zM229.7 197.3h3.10v3.80h-3.10zM233.5 197.3h3.10v3.80h-3.10zM237.3 197.4h3.10v3.80h-3.10zM241.1 197.4h3.10v3.80h-3.10zM244.9 197.4h3.10v3.80h-3.10zM248.7 197.4h3.10v3.80h-3.10zM252.4 197.5h3.10v3.80h-3.10zM116.0 206.6h3.10v3.80h-3.10zM119.8 206.6h3.10v3.80h-3.10zM123.6 206.6h3.10v3.80h-3.10zM127.4 206.6h3.10v3.80h-3.10zM131.2 206.7h3.10v3.80h-3.10zM134.9 206.7h3.10v3.80h-3.10zM138.7 206.7h3.10v3.80h-3.10zM142.5 206.7h3.10v3.80h-3.10zM146.3 206.8h3.10v3.80h-3.10zM150.1 206.8h3.10v3.80h-3.10zM153.9 206.8h3.10v3.80h-3.10zM157.7 206.8h3.10v3.80h-3.10zM161.5 206.8h3.10v3.80h-3.10zM165.3 206.9h3.10v3.80h-3.10zM169.1 206.9h3.10v3.80h-3.10zM172.8 206.9h3.10v3.80h-3.10zM176.6 206.9h3.10v3.80h-3.10zM180.4 207.0h3.10v3.80h-3.10zM184.2 207.0h3.10v3.80h-3.10zM188.0 207.0h3.10v3.80h-3.10zM191.8 207.0h3.10v3.80h-3.10zM195.6 207.1h3.10v3.80h-3.10zM199.4 207.1h3.10v3.80h-3.10zM203.2 207.1h3.10v3.80h-3.10zM207.0 207.1h3.10v3.80h-3.10zM210.8 207.2h3.10v3.80h-3.10zM214.5 207.2h3.10v3.80h-3.10zM218.3 207.2h3.10v3.80h-3.10zM222.1 207.2h3.10v3.80h-3.10zM225.9 207.3h3.10v3.80h-3.10zM229.7 207.3h3.10v3.80h-3.10zM233.5 207.3h3.10v3.80h-3.10zM237.3 207.3h3.10v3.80h-3.10zM241.1 207.4h3.10v3.80h-3.10zM244.9 207.4h3.10v3.80h-3.10zM248.7 207.4h3.10v3.80h-3.10zM252.4 207.4h3.10v3.80h-3.10zM256.2 207.4h3.10v3.80h-3.10zM260.0 207.5h3.10v3.80h-3.10zM263.8 207.5h3.10v3.80h-3.10zM116.0 211.5h3.10v3.80h-3.10zM119.8 211.6h3.10v3.80h-3.10zM123.6 211.6h3.10v3.80h-3.10zM127.4 211.6h3.10v3.80h-3.10zM131.2 211.6h3.10v3.80h-3.10zM134.9 211.7h3.10v3.80h-3.10zM138.7 211.7h3.10v3.80h-3.10zM142.5 211.7h3.10v3.80h-3.10zM146.3 211.7h3.10v3.80h-3.10zM150.1 211.8h3.10v3.80h-3.10zM153.9 211.8h3.10v3.80h-3.10zM157.7 211.8h3.10v3.80h-3.10zM161.5 211.8h3.10v3.80h-3.10zM165.3 211.9h3.10v3.80h-3.10zM169.1 211.9h3.10v3.80h-3.10zM172.8 211.9h3.10v3.80h-3.10zM176.6 211.9h3.10v3.80h-3.10zM180.4 211.9h3.10v3.80h-3.10zM184.2 212.0h3.10v3.80h-3.10zM188.0 212.0h3.10v3.80h-3.10zM191.8 212.0h3.10v3.80h-3.10zM195.6 212.0h3.10v3.80h-3.10zM199.4 212.1h3.10v3.80h-3.10zM203.2 212.1h3.10v3.80h-3.10zM207.0 212.1h3.10v3.80h-3.10zM210.8 212.1h3.10v3.80h-3.10zM214.5 212.2h3.10v3.80h-3.10zM218.3 212.2h3.10v3.80h-3.10zM222.1 212.2h3.10v3.80h-3.10zM225.9 212.2h3.10v3.80h-3.10zM229.7 212.3h3.10v3.80h-3.10zM233.5 212.3h3.10v3.80h-3.10zM237.3 212.3h3.10v3.80h-3.10zM241.1 212.3h3.10v3.80h-3.10zM244.9 212.4h3.10v3.80h-3.10zM248.7 212.4h3.10v3.80h-3.10zM252.4 212.4h3.10v3.80h-3.10zM256.2 212.4h3.10v3.80h-3.10zM260.0 212.5h3.10v3.80h-3.10zM263.8 212.5h3.10v3.80h-3.10zM123.6 271.3h3.10v3.80h-3.10zM127.4 271.4h3.10v3.80h-3.10zM131.2 271.4h3.10v3.80h-3.10zM134.9 271.4h3.10v3.80h-3.10zM138.7 271.4h3.10v3.80h-3.10zM142.5 271.5h3.10v3.80h-3.10zM146.3 271.5h3.10v3.80h-3.10zM150.1 271.5h3.10v3.80h-3.10zM153.9 271.5h3.10v3.80h-3.10zM157.7 271.6h3.10v3.80h-3.10zM161.5 271.6h3.10v3.80h-3.10zM165.3 271.6h3.10v3.80h-3.10zM169.1 271.6h3.10v3.80h-3.10zM172.8 271.7h3.10v3.80h-3.10zM176.6 271.7h3.10v3.80h-3.10zM180.4 271.7h3.10v3.80h-3.10zM184.2 271.7h3.10v3.80h-3.10zM188.0 271.8h3.10v3.80h-3.10zM191.8 271.8h3.10v3.80h-3.10zM195.6 271.8h3.10v3.80h-3.10zM199.4 271.8h3.10v3.80h-3.10zM203.2 271.9h3.10v3.80h-3.10zM207.0 271.9h3.10v3.80h-3.10zM210.8 271.9h3.10v3.80h-3.10zM214.5 271.9h3.10v3.80h-3.10zM218.3 271.9h3.10v3.80h-3.10zM222.1 272.0h3.10v3.80h-3.10zM225.9 272.0h3.10v3.80h-3.10zM229.7 272.0h3.10v3.80h-3.10zM233.5 272.0h3.10v3.80h-3.10zM237.3 272.1h3.10v3.80h-3.10zM241.1 272.1h3.10v3.80h-3.10zM244.9 272.1h3.10v3.80h-3.10zM248.7 272.1h3.10v3.80h-3.10zM252.4 272.2h3.10v3.80h-3.10zM256.2 272.2h3.10v3.80h-3.10zM123.6 276.3h3.10v3.80h-3.10zM127.4 276.4h3.10v3.80h-3.10zM131.2 276.4h3.10v3.80h-3.10zM134.9 276.4h3.10v3.80h-3.10zM138.7 276.4h3.10v3.80h-3.10zM142.5 276.4h3.10v3.80h-3.10zM146.3 276.5h3.10v3.80h-3.10zM150.1 276.5h3.10v3.80h-3.10zM153.9 276.5h3.10v3.80h-3.10zM157.7 276.5h3.10v3.80h-3.10zM161.5 276.6h3.10v3.80h-3.10zM165.3 276.6h3.10v3.80h-3.10zM169.1 276.6h3.10v3.80h-3.10zM172.8 276.6h3.10v3.80h-3.10zM176.6 276.7h3.10v3.80h-3.10zM180.4 276.7h3.10v3.80h-3.10zM184.2 276.7h3.10v3.80h-3.10zM188.0 276.7h3.10v3.80h-3.10zM191.8 276.8h3.10v3.80h-3.10zM195.6 276.8h3.10v3.80h-3.10zM199.4 276.8h3.10v3.80h-3.10zM203.2 276.8h3.10v3.80h-3.10zM207.0 276.9h3.10v3.80h-3.10zM210.8 276.9h3.10v3.80h-3.10zM214.5 276.9h3.10v3.80h-3.10zM218.3 276.9h3.10v3.80h-3.10zM222.1 277.0h3.10v3.80h-3.10zM225.9 277.0h3.10v3.80h-3.10zM229.7 277.0h3.10v3.80h-3.10zM233.5 277.0h3.10v3.80h-3.10zM237.3 277.0h3.10v3.80h-3.10zM241.1 277.1h3.10v3.80h-3.10zM244.9 277.1h3.10v3.80h-3.10zM248.7 277.1h3.10v3.80h-3.10zM252.4 277.1h3.10v3.80h-3.10zM256.2 277.2h3.10v3.80h-3.10zM123.6 281.3h3.10v3.80h-3.10zM127.4 281.3h3.10v3.80h-3.10zM131.2 281.4h3.10v3.80h-3.10zM134.9 281.4h3.10v3.80h-3.10zM138.7 281.4h3.10v3.80h-3.10zM142.5 281.4h3.10v3.80h-3.10zM146.3 281.5h3.10v3.80h-3.10zM150.1 281.5h3.10v3.80h-3.10zM153.9 281.5h3.10v3.80h-3.10zM157.7 281.5h3.10v3.80h-3.10zM161.5 281.5h3.10v3.80h-3.10zM165.3 281.6h3.10v3.80h-3.10zM169.1 281.6h3.10v3.80h-3.10zM172.8 281.6h3.10v3.80h-3.10zM176.6 281.6h3.10v3.80h-3.10zM180.4 281.7h3.10v3.80h-3.10zM184.2 281.7h3.10v3.80h-3.10zM188.0 281.7h3.10v3.80h-3.10zM191.8 281.7h3.10v3.80h-3.10zM195.6 281.8h3.10v3.80h-3.10zM199.4 281.8h3.10v3.80h-3.10zM203.2 281.8h3.10v3.80h-3.10zM207.0 281.8h3.10v3.80h-3.10zM210.8 281.9h3.10v3.80h-3.10zM214.5 281.9h3.10v3.80h-3.10zM218.3 281.9h3.10v3.80h-3.10zM222.1 281.9h3.10v3.80h-3.10zM225.9 282.0h3.10v3.80h-3.10zM229.7 282.0h3.10v3.80h-3.10zM233.5 282.0h3.10v3.80h-3.10zM237.3 282.0h3.10v3.80h-3.10zM241.1 282.1h3.10v3.80h-3.10zM244.9 282.1h3.10v3.80h-3.10zM248.7 282.1h3.10v3.80h-3.10zM252.4 282.1h3.10v3.80h-3.10zM256.2 282.1h3.10v3.80h-3.10zM123.6 286.3h3.10v3.80h-3.10zM127.4 286.3h3.10v3.80h-3.10zM131.2 286.3h3.10v3.80h-3.10zM134.9 286.4h3.10v3.80h-3.10zM138.7 286.4h3.10v3.80h-3.10zM142.5 286.4h3.10v3.80h-3.10zM146.3 286.4h3.10v3.80h-3.10zM150.1 286.5h3.10v3.80h-3.10zM153.9 286.5h3.10v3.80h-3.10zM157.7 286.5h3.10v3.80h-3.10zM161.5 286.5h3.10v3.80h-3.10zM165.3 286.6h3.10v3.80h-3.10zM169.1 286.6h3.10v3.80h-3.10zM172.8 286.6h3.10v3.80h-3.10zM176.6 286.6h3.10v3.80h-3.10zM180.4 286.6h3.10v3.80h-3.10zM184.2 286.7h3.10v3.80h-3.10zM188.0 286.7h3.10v3.80h-3.10zM191.8 286.7h3.10v3.80h-3.10zM195.6 286.7h3.10v3.80h-3.10zM199.4 286.8h3.10v3.80h-3.10zM203.2 286.8h3.10v3.80h-3.10zM207.0 286.8h3.10v3.80h-3.10zM210.8 286.8h3.10v3.80h-3.10zM214.5 286.9h3.10v3.80h-3.10zM218.3 286.9h3.10v3.80h-3.10zM222.1 286.9h3.10v3.80h-3.10zM225.9 286.9h3.10v3.80h-3.10zM229.7 287.0h3.10v3.80h-3.10zM233.5 287.0h3.10v3.80h-3.10zM237.3 287.0h3.10v3.80h-3.10zM241.1 287.0h3.10v3.80h-3.10zM244.9 287.1h3.10v3.80h-3.10zM248.7 287.1h3.10v3.80h-3.10zM252.4 287.1h3.10v3.80h-3.10zM256.2 287.1h3.10v3.80h-3.10zM123.6 291.3h3.10v3.80h-3.10zM127.4 291.3h3.10v3.80h-3.10zM131.2 291.3h3.10v3.80h-3.10zM134.9 291.3h3.10v3.80h-3.10zM138.7 291.4h3.10v3.80h-3.10zM142.5 291.4h3.10v3.80h-3.10zM146.3 291.4h3.10v3.80h-3.10zM150.1 291.4h3.10v3.80h-3.10zM153.9 291.5h3.10v3.80h-3.10zM157.7 291.5h3.10v3.80h-3.10zM161.5 291.5h3.10v3.80h-3.10zM165.3 291.5h3.10v3.80h-3.10zM169.1 291.6h3.10v3.80h-3.10zM172.8 291.6h3.10v3.80h-3.10zM176.6 291.6h3.10v3.80h-3.10zM180.4 291.6h3.10v3.80h-3.10zM184.2 291.7h3.10v3.80h-3.10zM188.0 291.7h3.10v3.80h-3.10zM191.8 291.7h3.10v3.80h-3.10zM195.6 291.7h3.10v3.80h-3.10zM199.4 291.7h3.10v3.80h-3.10zM203.2 291.8h3.10v3.80h-3.10zM207.0 291.8h3.10v3.80h-3.10zM210.8 291.8h3.10v3.80h-3.10zM214.5 291.8h3.10v3.80h-3.10zM218.3 291.9h3.10v3.80h-3.10zM222.1 291.9h3.10v3.80h-3.10zM225.9 291.9h3.10v3.80h-3.10zM229.7 291.9h3.10v3.80h-3.10zM233.5 292.0h3.10v3.80h-3.10zM237.3 292.0h3.10v3.80h-3.10zM241.1 292.0h3.10v3.80h-3.10zM244.9 292.0h3.10v3.80h-3.10zM248.7 292.1h3.10v3.80h-3.10zM252.4 292.1h3.10v3.80h-3.10zM256.2 292.1h3.10v3.80h-3.10zM123.6 296.2h3.10v3.80h-3.10zM127.4 296.3h3.10v3.80h-3.10zM131.2 296.3h3.10v3.80h-3.10zM134.9 296.3h3.10v3.80h-3.10zM138.7 296.3h3.10v3.80h-3.10zM142.5 296.4h3.10v3.80h-3.10zM146.3 296.4h3.10v3.80h-3.10zM150.1 296.4h3.10v3.80h-3.10zM153.9 296.4h3.10v3.80h-3.10zM157.7 296.5h3.10v3.80h-3.10zM161.5 296.5h3.10v3.80h-3.10zM165.3 296.5h3.10v3.80h-3.10zM169.1 296.5h3.10v3.80h-3.10zM172.8 296.6h3.10v3.80h-3.10zM176.6 296.6h3.10v3.80h-3.10zM180.4 296.6h3.10v3.80h-3.10zM184.2 296.6h3.10v3.80h-3.10zM188.0 296.7h3.10v3.80h-3.10zM191.8 296.7h3.10v3.80h-3.10zM195.6 296.7h3.10v3.80h-3.10zM199.4 296.7h3.10v3.80h-3.10zM203.2 296.8h3.10v3.80h-3.10zM207.0 296.8h3.10v3.80h-3.10zM210.8 296.8h3.10v3.80h-3.10zM214.5 296.8h3.10v3.80h-3.10zM218.3 296.8h3.10v3.80h-3.10zM222.1 296.9h3.10v3.80h-3.10zM225.9 296.9h3.10v3.80h-3.10zM229.7 296.9h3.10v3.80h-3.10zM233.5 296.9h3.10v3.80h-3.10zM237.3 297.0h3.10v3.80h-3.10zM241.1 297.0h3.10v3.80h-3.10zM244.9 297.0h3.10v3.80h-3.10zM248.7 297.0h3.10v3.80h-3.10zM252.4 297.1h3.10v3.80h-3.10zM256.2 297.1h3.10v3.80h-3.10zM123.6 301.2h3.10v3.80h-3.10zM127.4 301.3h3.10v3.80h-3.10zM131.2 301.3h3.10v3.80h-3.10zM134.9 301.3h3.10v3.80h-3.10zM138.7 301.3h3.10v3.80h-3.10zM142.5 301.3h3.10v3.80h-3.10zM146.3 301.4h3.10v3.80h-3.10zM150.1 301.4h3.10v3.80h-3.10zM153.9 301.4h3.10v3.80h-3.10zM157.7 301.4h3.10v3.80h-3.10zM161.5 301.5h3.10v3.80h-3.10zM165.3 301.5h3.10v3.80h-3.10zM169.1 301.5h3.10v3.80h-3.10zM172.8 301.5h3.10v3.80h-3.10zM176.6 301.6h3.10v3.80h-3.10zM180.4 301.6h3.10v3.80h-3.10zM184.2 301.6h3.10v3.80h-3.10zM188.0 301.6h3.10v3.80h-3.10zM191.8 301.7h3.10v3.80h-3.10zM195.6 301.7h3.10v3.80h-3.10zM199.4 301.7h3.10v3.80h-3.10zM203.2 301.7h3.10v3.80h-3.10zM207.0 301.8h3.10v3.80h-3.10zM210.8 301.8h3.10v3.80h-3.10zM214.5 301.8h3.10v3.80h-3.10zM218.3 301.8h3.10v3.80h-3.10zM222.1 301.9h3.10v3.80h-3.10zM225.9 301.9h3.10v3.80h-3.10zM229.7 301.9h3.10v3.80h-3.10zM233.5 301.9h3.10v3.80h-3.10zM237.3 301.9h3.10v3.80h-3.10zM241.1 302.0h3.10v3.80h-3.10zM244.9 302.0h3.10v3.80h-3.10zM248.7 302.0h3.10v3.80h-3.10zM252.4 302.0h3.10v3.80h-3.10zM256.2 302.1h3.10v3.80h-3.10zM123.6 306.2h3.10v3.80h-3.10zM127.4 306.2h3.10v3.80h-3.10zM131.2 306.3h3.10v3.80h-3.10zM134.9 306.3h3.10v3.80h-3.10zM138.7 306.3h3.10v3.80h-3.10zM142.5 306.3h3.10v3.80h-3.10zM146.3 306.4h3.10v3.80h-3.10zM150.1 306.4h3.10v3.80h-3.10zM153.9 306.4h3.10v3.80h-3.10zM157.7 306.4h3.10v3.80h-3.10zM161.5 306.4h3.10v3.80h-3.10zM165.3 306.5h3.10v3.80h-3.10zM169.1 306.5h3.10v3.80h-3.10zM172.8 306.5h3.10v3.80h-3.10zM176.6 306.5h3.10v3.80h-3.10zM180.4 306.6h3.10v3.80h-3.10zM184.2 306.6h3.10v3.80h-3.10zM188.0 306.6h3.10v3.80h-3.10zM191.8 306.6h3.10v3.80h-3.10zM195.6 306.7h3.10v3.80h-3.10zM199.4 306.7h3.10v3.80h-3.10zM203.2 306.7h3.10v3.80h-3.10zM207.0 306.7h3.10v3.80h-3.10zM210.8 306.8h3.10v3.80h-3.10zM214.5 306.8h3.10v3.80h-3.10zM218.3 306.8h3.10v3.80h-3.10zM222.1 306.8h3.10v3.80h-3.10zM225.9 306.9h3.10v3.80h-3.10zM229.7 306.9h3.10v3.80h-3.10zM233.5 306.9h3.10v3.80h-3.10zM237.3 306.9h3.10v3.80h-3.10zM241.1 307.0h3.10v3.80h-3.10zM244.9 307.0h3.10v3.80h-3.10zM248.7 307.0h3.10v3.80h-3.10zM252.4 307.0h3.10v3.80h-3.10zM256.2 307.0h3.10v3.80h-3.10zM123.6 311.2h3.10v3.80h-3.10zM127.4 311.2h3.10v3.80h-3.10zM131.2 311.2h3.10v3.80h-3.10zM134.9 311.3h3.10v3.80h-3.10zM138.7 311.3h3.10v3.80h-3.10zM142.5 311.3h3.10v3.80h-3.10zM146.3 311.3h3.10v3.80h-3.10zM150.1 311.4h3.10v3.80h-3.10zM153.9 311.4h3.10v3.80h-3.10zM157.7 311.4h3.10v3.80h-3.10zM161.5 311.4h3.10v3.80h-3.10zM165.3 311.5h3.10v3.80h-3.10zM169.1 311.5h3.10v3.80h-3.10zM172.8 311.5h3.10v3.80h-3.10zM176.6 311.5h3.10v3.80h-3.10zM180.4 311.5h3.10v3.80h-3.10zM184.2 311.6h3.10v3.80h-3.10zM188.0 311.6h3.10v3.80h-3.10zM191.8 311.6h3.10v3.80h-3.10zM195.6 311.6h3.10v3.80h-3.10zM199.4 311.7h3.10v3.80h-3.10zM203.2 311.7h3.10v3.80h-3.10zM207.0 311.7h3.10v3.80h-3.10zM210.8 311.7h3.10v3.80h-3.10zM214.5 311.8h3.10v3.80h-3.10zM218.3 311.8h3.10v3.80h-3.10zM222.1 311.8h3.10v3.80h-3.10zM225.9 311.8h3.10v3.80h-3.10zM229.7 311.9h3.10v3.80h-3.10zM233.5 311.9h3.10v3.80h-3.10zM237.3 311.9h3.10v3.80h-3.10zM241.1 311.9h3.10v3.80h-3.10zM244.9 312.0h3.10v3.80h-3.10zM248.7 312.0h3.10v3.80h-3.10zM252.4 312.0h3.10v3.80h-3.10zM256.2 312.0h3.10v3.80h-3.10zM127.4 316.2h3.10v3.80h-3.10zM131.2 316.2h3.10v3.80h-3.10zM134.9 316.2h3.10v3.80h-3.10zM138.7 316.3h3.10v3.80h-3.10zM142.5 316.3h3.10v3.80h-3.10zM146.3 316.3h3.10v3.80h-3.10zM150.1 316.3h3.10v3.80h-3.10zM153.9 316.4h3.10v3.80h-3.10zM157.7 316.4h3.10v3.80h-3.10zM161.5 316.4h3.10v3.80h-3.10zM165.3 316.4h3.10v3.80h-3.10zM169.1 316.5h3.10v3.80h-3.10zM172.8 316.5h3.10v3.80h-3.10zM176.6 316.5h3.10v3.80h-3.10zM180.4 316.5h3.10v3.80h-3.10zM184.2 316.6h3.10v3.80h-3.10zM188.0 316.6h3.10v3.80h-3.10zM191.8 316.6h3.10v3.80h-3.10zM195.6 316.6h3.10v3.80h-3.10zM199.4 316.6h3.10v3.80h-3.10zM203.2 316.7h3.10v3.80h-3.10zM207.0 316.7h3.10v3.80h-3.10zM210.8 316.7h3.10v3.80h-3.10zM214.5 316.7h3.10v3.80h-3.10zM218.3 316.8h3.10v3.80h-3.10zM222.1 316.8h3.10v3.80h-3.10zM225.9 316.8h3.10v3.80h-3.10zM229.7 316.8h3.10v3.80h-3.10zM233.5 316.9h3.10v3.80h-3.10zM237.3 316.9h3.10v3.80h-3.10zM241.1 316.9h3.10v3.80h-3.10zM244.9 316.9h3.10v3.80h-3.10zM248.7 317.0h3.10v3.80h-3.10zM252.4 317.0h3.10v3.80h-3.10zM119.8 326.1h3.10v3.80h-3.10zM123.6 326.1h3.10v3.80h-3.10zM127.4 326.2h3.10v3.80h-3.10zM252.4 326.9h3.10v3.80h-3.10zM256.2 327.0h3.10v3.80h-3.10zM260.0 327.0h3.10v3.80h-3.10zM119.8 331.1h3.10v3.80h-3.10zM123.6 331.1h3.10v3.80h-3.10zM127.4 331.1h3.10v3.80h-3.10zM252.4 331.9h3.10v3.80h-3.10zM256.2 331.9h3.10v3.80h-3.10zM260.0 332.0h3.10v3.80h-3.10zM123.6 336.1h3.10v3.80h-3.10zM256.2 336.9h3.10v3.80h-3.10zM307.0 33.5h3.10v3.80h-3.10zM310.8 33.5h3.10v3.80h-3.10zM314.6 33.5h3.10v3.80h-3.10zM318.4 33.5h3.10v3.80h-3.10zM322.2 33.6h3.10v3.80h-3.10zM325.9 33.6h3.10v3.80h-3.10zM303.2 38.4h3.10v3.80h-3.10zM307.0 38.4h3.10v3.80h-3.10zM310.8 38.5h3.10v3.80h-3.10zM314.6 38.5h3.10v3.80h-3.10zM318.4 38.5h3.10v3.80h-3.10zM322.2 38.5h3.10v3.80h-3.10zM303.2 43.4h3.10v3.80h-3.10zM307.0 43.4h3.10v3.80h-3.10zM310.8 43.4h3.10v3.80h-3.10zM314.6 43.5h3.10v3.80h-3.10zM318.4 43.5h3.10v3.80h-3.10zM322.2 43.5h3.10v3.80h-3.10zM303.2 48.4h3.10v3.80h-3.10zM307.0 48.4h3.10v3.80h-3.10zM310.8 48.4h3.10v3.80h-3.10zM314.6 48.5h3.10v3.80h-3.10zM318.4 48.5h3.10v3.80h-3.10zM322.2 48.5h3.10v3.80h-3.10zM307.0 53.4h3.10v3.80h-3.10zM310.8 53.4h3.10v3.80h-3.10zM314.6 53.4h3.10v3.80h-3.10zM318.4 53.5h3.10v3.80h-3.10zM322.2 53.5h3.10v3.80h-3.10zM307.0 58.4h3.10v3.80h-3.10zM310.8 58.4h3.10v3.80h-3.10zM314.6 58.4h3.10v3.80h-3.10zM318.4 58.4h3.10v3.80h-3.10zM322.2 58.5h3.10v3.80h-3.10zM325.9 58.5h3.10v3.80h-3.10zM341.1 58.6h3.10v3.80h-3.10zM344.9 58.6h3.10v3.80h-3.10zM333.5 63.5h3.10v3.80h-3.10zM337.3 63.5h3.10v3.80h-3.10zM341.1 63.6h3.10v3.80h-3.10zM344.9 63.6h3.10v3.80h-3.10zM348.7 63.6h3.10v3.80h-3.10zM284.3 68.2h3.10v3.80h-3.10zM303.2 68.3h3.10v3.80h-3.10zM333.5 68.5h3.10v3.80h-3.10zM337.3 68.5h3.10v3.80h-3.10zM341.1 68.5h3.10v3.80h-3.10zM344.9 68.6h3.10v3.80h-3.10zM348.7 68.6h3.10v3.80h-3.10zM352.5 68.6h3.10v3.80h-3.10zM322.2 73.4h3.10v3.80h-3.10zM333.5 73.5h3.10v3.80h-3.10zM337.3 73.5h3.10v3.80h-3.10zM341.1 73.5h3.10v3.80h-3.10zM344.9 73.5h3.10v3.80h-3.10zM348.7 73.6h3.10v3.80h-3.10zM352.5 73.6h3.10v3.80h-3.10zM322.2 78.4h3.10v3.80h-3.10zM325.9 78.4h3.10v3.80h-3.10zM333.5 78.5h3.10v3.80h-3.10zM337.3 78.5h3.10v3.80h-3.10zM341.1 78.5h3.10v3.80h-3.10zM344.9 78.5h3.10v3.80h-3.10zM348.7 78.5h3.10v3.80h-3.10zM352.5 78.6h3.10v3.80h-3.10zM322.2 83.4h3.10v3.80h-3.10zM333.5 83.4h3.10v3.80h-3.10zM337.3 83.5h3.10v3.80h-3.10zM341.1 83.5h3.10v3.80h-3.10zM344.9 83.5h3.10v3.80h-3.10zM348.7 83.5h3.10v3.80h-3.10zM352.5 83.6h3.10v3.80h-3.10zM333.5 88.4h3.10v3.80h-3.10zM348.7 88.5h3.10v3.80h-3.10zM352.5 88.5h3.10v3.80h-3.10zM303.2 93.2h3.10v3.80h-3.10zM310.8 98.2h3.10v3.80h-3.10zM329.7 98.3h3.10v3.80h-3.10zM310.8 123.1h3.10v3.80h-3.10zM290.7 183.4h3.10v3.80h-3.10zM309.6 183.5h3.10v3.80h-3.10zM313.4 183.5h3.10v3.80h-3.10zM317.2 183.6h3.10v3.80h-3.10zM321.0 183.6h3.10v3.80h-3.10zM324.8 183.6h3.10v3.80h-3.10zM328.6 183.6h3.10v3.80h-3.10zM290.7 188.4h3.10v3.80h-3.10zM309.6 188.5h3.10v3.80h-3.10zM313.4 188.5h3.10v3.80h-3.10zM317.2 188.6h3.10v3.80h-3.10zM321.0 188.6h3.10v3.80h-3.10zM324.8 188.6h3.10v3.80h-3.10zM328.6 188.6h3.10v3.80h-3.10zM547.6 175.2h3.10v3.80h-3.10zM551.3 175.3h3.10v3.80h-3.10zM547.6 180.2h3.10v3.80h-3.10zM551.3 180.2h3.10v3.80h-3.10zM540.0 185.2h3.10v3.80h-3.10zM543.8 185.2h3.10v3.80h-3.10zM547.6 185.2h3.10v3.80h-3.10zM551.3 185.2h3.10v3.80h-3.10zM555.1 185.2h3.10v3.80h-3.10zM558.9 185.3h3.10v3.80h-3.10zM577.9 185.4h3.10v3.80h-3.10zM540.0 190.1h3.10v3.80h-3.10zM543.8 190.2h3.10v3.80h-3.10zM547.6 190.2h3.10v3.80h-3.10zM551.3 190.2h3.10v3.80h-3.10zM555.1 190.2h3.10v3.80h-3.10zM558.9 190.3h3.10v3.80h-3.10zM577.9 190.4h3.10v3.80h-3.10zM547.6 195.2h3.10v3.80h-3.10zM551.3 195.2h3.10v3.80h-3.10zM547.6 200.1h3.10v3.80h-3.10zM551.3 200.2h3.10v3.80h-3.10zM317.0 247.7h3.10v3.80h-3.10zM282.9 287.3h3.10v3.80h-3.10zM351.1 287.8h3.10v3.80h-3.10zM317.0 327.4h3.10v3.80h-3.10zM417.2 69.3h3.10v3.80h-3.10zM466.5 84.5h3.10v3.80h-3.10zM416.1 169.3h3.10v3.80h-3.10zM465.4 184.5h3.10v3.80h-3.10zM414.5 273.2h3.10v3.80h-3.10zM560.5 80.3h3.10v3.80h-3.10zM571.7 80.3h3.10v3.80h-3.10zM508.1 84.9h3.10v3.80h-3.10zM526.7 283.3h3.10v3.80h-3.10zM552.7 288.5h3.10v3.80h-3.10z"/></g>
<rect x="69.2" y="406.3" width="8.1" height="23.4" fill="#8cc653"/><rect x="69.6" y="476.0" width="7.4" height="51.0" fill="#8cc653"/><rect x="69.2" y="581.2" width="7.7" height="51.8" fill="#8cc653"/>
<g filter="url(#nop)"><text x="96.88" y="427.3" font-size="32" fill="#8cc653" font-weight="normal" textLength="418.62" lengthAdjust="spacingAndGlyphs" stroke="#8cc653" stroke-width="0.7">Independent filter monitoring</text><text x="96.37" y="498.6" font-size="32" fill="#5a5a5a" font-weight="normal" textLength="178.85" lengthAdjust="spacingAndGlyphs" stroke="#ffffff" stroke-width="0.4">Real time pre</text><text x="97.00" y="530.0" font-size="32" fill="#5a5a5a" font-weight="normal" textLength="187.00" lengthAdjust="spacingAndGlyphs" stroke="#ffffff" stroke-width="0.4">filter condition</text><text x="95.88" y="609.6" font-size="32" fill="#5a5a5a" font-weight="normal" textLength="200.14" lengthAdjust="spacingAndGlyphs" stroke="#ffffff" stroke-width="0.4">Real time main</text><text x="96.60" y="640.6" font-size="32" fill="#5a5a5a" font-weight="normal" textLength="186.60" lengthAdjust="spacingAndGlyphs" stroke="#ffffff" stroke-width="0.4">filter condition</text><text x="96.80" y="712.0" font-size="32" fill="#5a5a5a" font-weight="normal" textLength="155.20" lengthAdjust="spacingAndGlyphs" stroke="#ffffff" stroke-width="0.4">Internal unit</text><text x="97.00" y="742.0" font-size="32" fill="#5a5a5a" font-weight="normal" textLength="163.79" lengthAdjust="spacingAndGlyphs" stroke="#ffffff" stroke-width="0.4">temperature</text><text x="490.88" y="476.1" font-size="32" fill="#5a5a5a" font-weight="normal" textLength="121.94" lengthAdjust="spacingAndGlyphs" stroke="#ffffff" stroke-width="0.4">Run time</text><text x="434.80" y="547.4" font-size="32" fill="#5a5a5a" font-weight="normal" textLength="175.79" lengthAdjust="spacingAndGlyphs" stroke="#ffffff" stroke-width="0.4">Target airflow</text><text x="496.01" y="578.6" font-size="32" fill="#5a5a5a" font-weight="normal" textLength="115.60" lengthAdjust="spacingAndGlyphs" stroke="#ffffff" stroke-width="0.4">set point</text><text x="402.00" y="654.5" font-size="32" fill="#5a5a5a" font-weight="normal" textLength="211.00" lengthAdjust="spacingAndGlyphs" stroke="#ffffff" stroke-width="0.4">Actual airflow in</text><text x="430.50" y="685.0" font-size="32" fill="#5a5a5a" font-weight="normal" textLength="183.10" lengthAdjust="spacingAndGlyphs" stroke="#ffffff" stroke-width="0.4">CFM or M<tspan font-size="19" dy="-10">3</tspan><tspan dy="10">/hr</tspan></text></g>
</svg>
</body></html>
